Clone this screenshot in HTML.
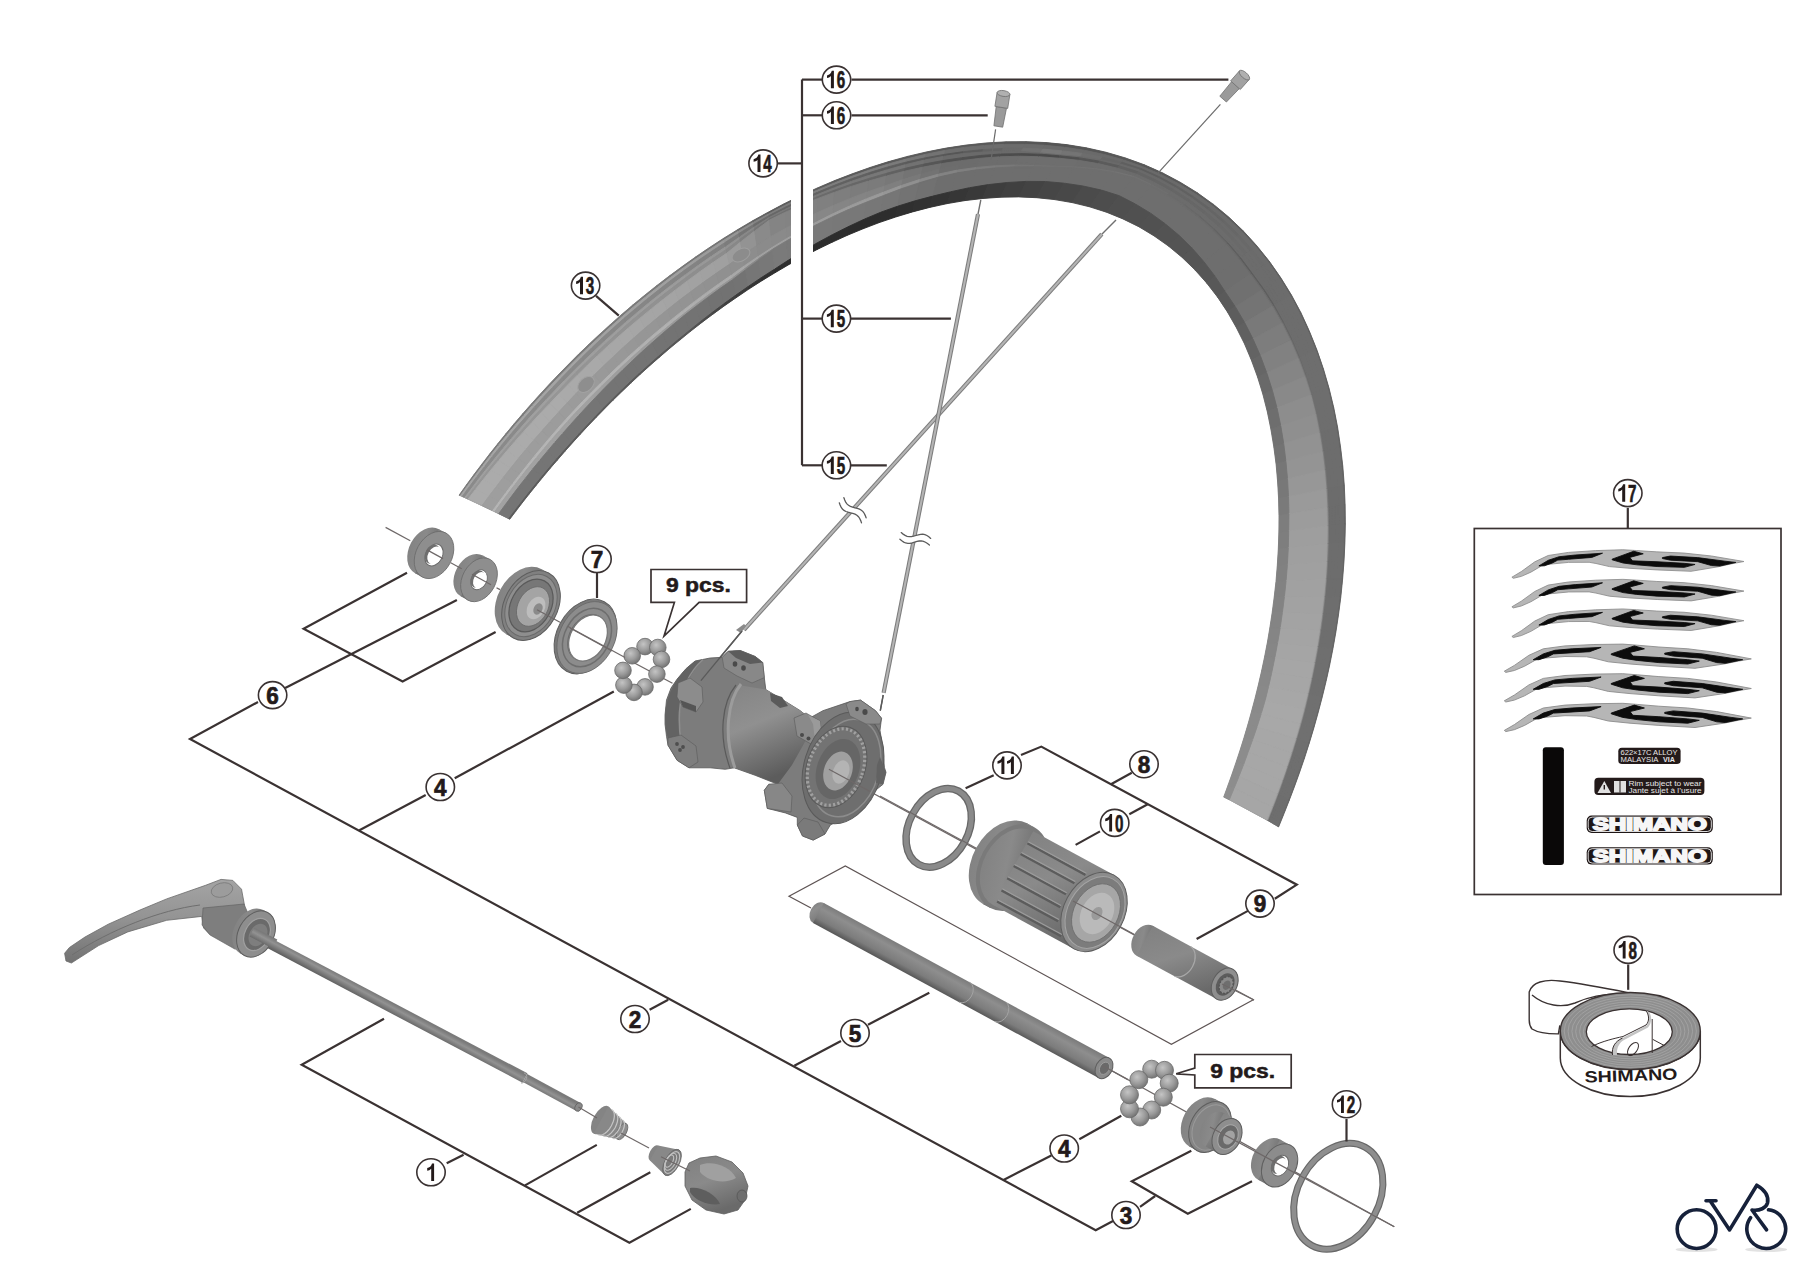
<!DOCTYPE html><html><head><meta charset="utf-8"><title>Wheel parts</title><style>html,body{margin:0;padding:0;background:#fff;overflow:hidden}svg{display:block}</style></head><body><svg width="1800" height="1264" viewBox="0 0 1800 1264"><defs>
<radialGradient id="gball" cx="40%" cy="35%" r="65%"><stop offset="0" stop-color="#c4c4c4"/><stop offset=".6" stop-color="#9a9a9a"/><stop offset="1" stop-color="#767676"/></radialGradient>
<linearGradient id="gaxle" gradientUnits="userSpaceOnUse" x1="965.4" y1="979.6" x2="954.6" y2="999.4"><stop offset="0" stop-color="#7a7a7a"/><stop offset=".3" stop-color="#8e8e8e"/><stop offset=".75" stop-color="#7c7c7c"/><stop offset="1" stop-color="#5a5a5a"/></linearGradient>
<linearGradient id="grod" gradientUnits="userSpaceOnUse" x1="402.6" y1="1008.6" x2="397.4" y2="1018.2"><stop offset="0" stop-color="#7a7a7a"/><stop offset=".35" stop-color="#929292"/><stop offset="1" stop-color="#5e5e5e"/></linearGradient>
<linearGradient id="gspoke" x1="0" y1="0" x2="1" y2="0"><stop offset="0" stop-color="#777"/><stop offset=".5" stop-color="#b5b5b5"/><stop offset="1" stop-color="#777"/></linearGradient>
<linearGradient id="ghubbody" x1="0" y1="0" x2="0.35" y2="1"><stop offset="0" stop-color="#848484"/><stop offset=".45" stop-color="#909090"/><stop offset="1" stop-color="#5c5c5c"/></linearGradient>
<linearGradient id="gfh" x1="0" y1="0" x2="0.4" y2="1"><stop offset="0" stop-color="#808080"/><stop offset=".5" stop-color="#8a8a8a"/><stop offset="1" stop-color="#6a6a6a"/></linearGradient>
<linearGradient id="glever" x1="0" y1="0" x2="0" y2="1"><stop offset="0" stop-color="#a4a4a4"/><stop offset=".45" stop-color="#949494"/><stop offset="1" stop-color="#727272"/></linearGradient>
</defs><rect width="1800" height="1264" fill="#ffffff"/><polyline points="625.0,658.0 672.5,683.3" fill="none" stroke="#6e6868" stroke-width="1.3" stroke-linejoin="miter"/>
<polyline points="828.9,769.3 1254.0,1000.0" fill="none" stroke="#6e6868" stroke-width="1.3" stroke-linejoin="miter"/>
<polyline points="1102.7,1065.7 1394.3,1226.7" fill="none" stroke="#6e6868" stroke-width="1.3" stroke-linejoin="miter"/>
<path d="M459.1,495.2 L462.4,490.5 L465.7,485.9 L469.0,481.3 L472.4,476.7 L475.8,472.1 L479.3,467.5 L482.7,463.0 L486.2,458.4 L489.8,453.8 L493.4,449.3 L497.0,444.7 L500.6,440.2 L504.3,435.7 L508.1,431.1 L511.8,426.6 L515.6,422.1 L519.5,417.5 L523.4,413.0 L527.3,408.5 L531.3,404.0 L535.3,399.5 L539.4,395.0 L543.5,390.5 L547.7,386.0 L551.9,381.5 L556.2,377.0 L560.5,372.5 L564.8,368.1 L569.2,363.6 L573.7,359.1 L578.2,354.6 L582.8,350.2 L587.4,345.7 L592.1,341.3 L596.9,336.8 L601.7,332.4 L606.6,327.9 L611.5,323.5 L616.5,319.1 L621.6,314.6 L626.7,310.2 L631.9,305.8 L637.1,301.4 L642.5,297.0 L647.9,292.7 L653.4,288.3 L658.9,284.0 L664.5,279.6 L670.2,275.3 L676.0,271.0 L681.8,266.7 L687.8,262.5 L693.8,258.2 L699.9,254.0 L706.0,249.8 L712.3,245.7 L718.6,241.5 L725.1,237.4 L731.6,233.4 L738.2,229.3 L744.9,225.4 L751.6,221.4 L758.5,217.5 L765.4,213.6 L772.5,209.8 L779.6,206.1 L786.8,202.4 L794.1,198.8 L801.5,195.2 L809.0,191.7 L816.6,188.3 L824.3,185.0 L832.0,181.7 L839.9,178.5 L847.8,175.4 L855.8,172.5 L863.9,169.6 L872.1,166.8 L880.4,164.1 L888.7,161.6 L897.2,159.2 L905.6,156.9 L914.2,154.7 L922.8,152.7 L931.5,150.8 L940.3,149.1 L949.1,147.6 L958.0,146.2 L966.9,145.0 L975.8,143.9 L984.8,143.1 L993.8,142.4 L1002.9,142.0 L1011.9,141.7 L1021.0,141.6 L1030.1,141.8 L1039.1,142.2 L1048.2,142.8 L1057.2,143.6 L1066.3,144.6 L1075.2,145.9 L1084.2,147.5 L1093.1,149.2 L1101.9,151.3 L1110.7,153.5 L1119.4,156.0 L1128.0,158.8 L1136.6,161.8 L1145.0,165.1 L1153.3,168.6 L1161.5,172.4 L1169.6,176.4 L1177.5,180.7 L1185.3,185.2 L1193.0,190.0 L1200.5,195.0 L1207.8,200.2 L1215.0,205.6 L1222.0,211.3 L1228.9,217.2 L1235.5,223.3 L1241.9,229.7 L1248.2,236.2 L1254.3,242.9 L1260.1,249.8 L1265.8,256.8 L1271.3,264.1 L1276.5,271.4 L1281.6,279.0 L1286.4,286.7 L1291.0,294.5 L1295.5,302.4 L1299.7,310.4 L1303.7,318.6 L1307.5,326.8 L1311.1,335.2 L1314.5,343.6 L1317.7,352.1 L1320.7,360.6 L1323.5,369.2 L1326.1,377.9 L1328.6,386.6 L1330.8,395.3 L1332.9,404.0 L1334.8,412.8 L1336.5,421.5 L1338.1,430.3 L1339.4,439.1 L1340.7,447.9 L1341.7,456.6 L1342.7,465.4 L1343.4,474.1 L1344.1,482.8 L1344.6,491.4 L1344.9,500.0 L1345.2,508.6 L1345.3,517.2 L1345.3,525.7 L1345.2,534.1 L1344.9,542.5 L1344.6,550.9 L1344.1,559.2 L1343.6,567.4 L1342.9,575.6 L1342.2,583.7 L1341.4,591.7 L1340.5,599.7 L1339.5,607.6 L1338.4,615.5 L1337.2,623.3 L1336.0,631.0 L1334.7,638.7 L1333.4,646.3 L1331.9,653.8 L1330.4,661.3 L1328.9,668.6 L1327.3,676.0 L1325.6,683.2 L1323.9,690.4 L1322.1,697.5 L1320.3,704.6 L1318.4,711.6 L1316.5,718.5 L1314.6,725.4 L1312.6,732.2 L1310.6,738.9 L1308.5,745.6 L1306.4,752.2 L1304.2,758.7 L1302.0,765.2 L1299.8,771.6 L1297.6,778.0 L1295.3,784.3 L1293.0,790.5 L1290.7,796.7 L1288.3,802.9 L1285.9,809.0 L1283.5,815.0 L1281.0,821.0 L1278.6,826.9 L1223.7,797.1 L1225.6,791.9 L1227.5,786.8 L1229.4,781.5 L1231.3,776.2 L1233.1,770.9 L1235.0,765.6 L1236.8,760.1 L1238.6,754.7 L1240.4,749.1 L1242.2,743.6 L1243.9,737.9 L1245.6,732.3 L1247.3,726.5 L1249.0,720.8 L1250.6,714.9 L1252.2,709.0 L1253.8,703.1 L1255.4,697.0 L1256.9,691.0 L1258.4,684.8 L1259.8,678.6 L1261.3,672.4 L1262.6,666.1 L1264.0,659.7 L1265.3,653.3 L1266.5,646.8 L1267.8,640.2 L1268.9,633.6 L1270.0,626.9 L1271.1,620.1 L1272.1,613.3 L1273.1,606.4 L1274.0,599.5 L1274.8,592.4 L1275.6,585.4 L1276.3,578.2 L1276.9,571.1 L1277.4,563.8 L1277.9,556.5 L1278.3,549.1 L1278.6,541.7 L1278.8,534.2 L1279.0,526.7 L1279.0,519.1 L1278.9,511.5 L1278.7,503.8 L1278.5,496.1 L1278.1,488.4 L1277.5,480.6 L1276.9,472.8 L1276.1,465.0 L1275.3,457.2 L1274.2,449.3 L1273.1,441.4 L1271.7,433.5 L1270.3,425.7 L1268.7,417.8 L1266.9,409.9 L1265.0,402.1 L1262.9,394.3 L1260.6,386.5 L1258.1,378.8 L1255.5,371.1 L1252.7,363.5 L1249.7,356.0 L1246.6,348.5 L1243.2,341.1 L1239.7,333.9 L1235.9,326.7 L1232.0,319.6 L1227.9,312.7 L1223.5,305.9 L1219.0,299.2 L1214.3,292.7 L1209.4,286.3 L1204.3,280.2 L1199.0,274.2 L1193.5,268.3 L1187.8,262.7 L1182.0,257.3 L1176.0,252.1 L1169.8,247.1 L1163.4,242.3 L1156.9,237.7 L1150.2,233.4 L1143.4,229.3 L1136.4,225.5 L1129.3,221.9 L1122.1,218.5 L1114.8,215.4 L1107.3,212.5 L1099.8,209.9 L1092.1,207.5 L1084.4,205.4 L1076.6,203.5 L1068.7,201.9 L1060.8,200.5 L1052.8,199.3 L1044.8,198.4 L1036.7,197.7 L1028.6,197.2 L1020.5,197.0 L1012.4,196.9 L1004.3,197.1 L996.2,197.4 L988.1,198.0 L980.0,198.7 L972.0,199.7 L964.0,200.8 L956.0,202.0 L948.0,203.5 L940.1,205.1 L932.3,206.8 L924.5,208.7 L916.8,210.7 L909.1,212.9 L901.5,215.1 L894.0,217.5 L886.5,220.0 L879.2,222.6 L871.9,225.3 L864.6,228.1 L857.5,231.0 L850.4,234.0 L843.4,237.0 L836.5,240.1 L829.7,243.3 L823.0,246.6 L816.3,249.9 L809.8,253.3 L803.3,256.7 L796.9,260.1 L790.6,263.6 L784.4,267.2 L778.3,270.8 L772.2,274.4 L766.2,278.0 L760.3,281.7 L754.5,285.4 L748.8,289.1 L743.2,292.9 L737.6,296.7 L732.1,300.4 L726.7,304.2 L721.3,308.1 L716.1,311.9 L710.9,315.7 L705.7,319.6 L700.7,323.4 L695.7,327.3 L690.8,331.1 L685.9,335.0 L681.2,338.9 L676.4,342.8 L671.8,346.6 L667.2,350.5 L662.6,354.4 L658.2,358.3 L653.7,362.1 L649.4,366.0 L645.1,369.9 L640.8,373.8 L636.6,377.6 L632.5,381.5 L628.4,385.3 L624.3,389.2 L620.3,393.1 L616.4,396.9 L612.5,400.8 L608.6,404.6 L604.8,408.5 L601.1,412.3 L597.3,416.1 L593.7,420.0 L590.0,423.8 L586.4,427.6 L582.8,431.5 L579.3,435.3 L575.8,439.1 L572.4,442.9 L569.0,446.7 L565.6,450.5 L562.2,454.4 L558.9,458.2 L555.6,462.0 L552.4,465.8 L549.2,469.6 L546.0,473.4 L542.8,477.2 L539.7,481.0 L536.6,484.8 L533.5,488.7 L530.4,492.5 L527.4,496.3 L524.4,500.1 L521.4,503.9 L518.5,507.8 L515.5,511.6 L512.6,515.4 L509.7,519.3Z" fill="#777"/>
<path d="M459.1,495.2 L466.4,484.9 L467.7,485.5 L460.4,495.7Z" fill="#7a7a7a" stroke="#7a7a7a" stroke-width=".9"/>
<path d="M460.4,495.7 L467.7,485.5 L469.6,486.4 L462.2,496.5Z" fill="#a5a5a5" stroke="#a5a5a5" stroke-width=".9"/>
<path d="M462.2,496.5 L469.6,486.4 L472.2,487.7 L464.7,497.6Z" fill="#8a8a8a" stroke="#8a8a8a" stroke-width=".9"/>
<path d="M464.7,497.6 L472.2,487.7 L473.7,488.4 L466.3,498.3Z" fill="#a0a0a0" stroke="#a0a0a0" stroke-width=".9"/>
<path d="M466.3,498.3 L473.7,488.4 L475.6,489.3 L468.1,499.1Z" fill="#969696" stroke="#969696" stroke-width=".9"/>
<path d="M468.1,499.1 L475.6,489.3 L489.1,496.1 L482.1,505.6Z" fill="#ababab" stroke="#ababab" stroke-width=".9"/>
<path d="M482.1,505.6 L489.1,496.1 L499.3,501.5 L492.7,510.7Z" fill="#9e9e9e" stroke="#9e9e9e" stroke-width=".9"/>
<path d="M492.7,510.7 L499.3,501.5 L501.4,502.6 L494.7,511.7Z" fill="#b5b5b5" stroke="#b5b5b5" stroke-width=".9"/>
<path d="M494.7,511.7 L501.4,502.6 L505.3,504.7 L498.7,513.7Z" fill="#a2a2a2" stroke="#a2a2a2" stroke-width=".9"/>
<path d="M498.7,513.7 L505.3,504.7 L515.2,510.2 L508.7,518.7Z" fill="#757575" stroke="#757575" stroke-width=".9"/>
<path d="M508.7,518.7 L515.2,510.2 L516.2,510.7 L509.7,519.3Z" fill="#5a5a5a" stroke="#5a5a5a" stroke-width=".9"/>
<path d="M466.4,484.9 L473.9,474.7 L475.2,475.4 L467.7,485.5Z" fill="#7a7a7a" stroke="#7a7a7a" stroke-width=".9"/>
<path d="M467.7,485.5 L475.2,475.4 L477.1,476.3 L469.6,486.4Z" fill="#a5a5a5" stroke="#a5a5a5" stroke-width=".9"/>
<path d="M469.6,486.4 L477.1,476.3 L479.7,477.7 L472.2,487.7Z" fill="#8a8a8a" stroke="#8a8a8a" stroke-width=".9"/>
<path d="M472.2,487.7 L479.7,477.7 L481.4,478.6 L473.7,488.4Z" fill="#a0a0a0" stroke="#a0a0a0" stroke-width=".9"/>
<path d="M473.7,488.4 L481.4,478.6 L483.2,479.6 L475.6,489.3Z" fill="#969696" stroke="#969696" stroke-width=".9"/>
<path d="M475.6,489.3 L483.2,479.6 L496.2,486.7 L489.1,496.1Z" fill="#ababab" stroke="#ababab" stroke-width=".9"/>
<path d="M489.1,496.1 L496.2,486.7 L506.1,492.4 L499.3,501.5Z" fill="#9e9e9e" stroke="#9e9e9e" stroke-width=".9"/>
<path d="M499.3,501.5 L506.1,492.4 L508.1,493.5 L501.4,502.6Z" fill="#b5b5b5" stroke="#b5b5b5" stroke-width=".9"/>
<path d="M501.4,502.6 L508.1,493.5 L511.9,495.8 L505.3,504.7Z" fill="#a2a2a2" stroke="#a2a2a2" stroke-width=".9"/>
<path d="M505.3,504.7 L511.9,495.8 L521.8,501.6 L515.2,510.2Z" fill="#757575" stroke="#757575" stroke-width=".9"/>
<path d="M515.2,510.2 L521.8,501.6 L522.7,502.2 L516.2,510.7Z" fill="#5a5a5a" stroke="#5a5a5a" stroke-width=".9"/>
<path d="M473.9,474.7 L481.6,464.5 L482.9,465.3 L475.2,475.4Z" fill="#7a7a7a" stroke="#7a7a7a" stroke-width=".9"/>
<path d="M475.2,475.4 L482.9,465.3 L484.8,466.3 L477.1,476.3Z" fill="#a5a5a5" stroke="#a5a5a5" stroke-width=".9"/>
<path d="M477.1,476.3 L484.8,466.3 L487.4,467.8 L479.7,477.7Z" fill="#8a8a8a" stroke="#8a8a8a" stroke-width=".9"/>
<path d="M479.7,477.7 L487.4,467.8 L489.1,468.8 L481.4,478.6Z" fill="#a0a0a0" stroke="#a0a0a0" stroke-width=".9"/>
<path d="M481.4,478.6 L489.1,468.8 L491.0,469.9 L483.2,479.6Z" fill="#969696" stroke="#969696" stroke-width=".9"/>
<path d="M483.2,479.6 L491.0,469.9 L503.4,477.3 L496.2,486.7Z" fill="#ababab" stroke="#ababab" stroke-width=".9"/>
<path d="M496.2,486.7 L503.4,477.3 L513.0,483.2 L506.1,492.4Z" fill="#9e9e9e" stroke="#9e9e9e" stroke-width=".9"/>
<path d="M506.1,492.4 L513.0,483.2 L515.0,484.5 L508.1,493.5Z" fill="#b5b5b5" stroke="#b5b5b5" stroke-width=".9"/>
<path d="M508.1,493.5 L515.0,484.5 L518.7,486.8 L511.9,495.8Z" fill="#a2a2a2" stroke="#a2a2a2" stroke-width=".9"/>
<path d="M511.9,495.8 L518.7,486.8 L528.5,493.1 L521.8,501.6Z" fill="#757575" stroke="#757575" stroke-width=".9"/>
<path d="M521.8,501.6 L528.5,493.1 L529.4,493.7 L522.7,502.2Z" fill="#5a5a5a" stroke="#5a5a5a" stroke-width=".9"/>
<path d="M481.6,464.5 L489.4,454.3 L490.7,455.2 L482.9,465.3Z" fill="#7a7a7a" stroke="#7a7a7a" stroke-width=".9"/>
<path d="M482.9,465.3 L490.7,455.2 L492.6,456.3 L484.8,466.3Z" fill="#a5a5a5" stroke="#a5a5a5" stroke-width=".9"/>
<path d="M484.8,466.3 L492.6,456.3 L495.3,458.0 L487.4,467.8Z" fill="#8a8a8a" stroke="#8a8a8a" stroke-width=".9"/>
<path d="M487.4,467.8 L495.3,458.0 L497.0,459.1 L489.1,468.8Z" fill="#a0a0a0" stroke="#a0a0a0" stroke-width=".9"/>
<path d="M489.1,468.8 L497.0,459.1 L498.9,460.3 L491.0,469.9Z" fill="#969696" stroke="#969696" stroke-width=".9"/>
<path d="M491.0,469.9 L498.9,460.3 L510.8,467.9 L503.4,477.3Z" fill="#ababab" stroke="#ababab" stroke-width=".9"/>
<path d="M503.4,477.3 L510.8,467.9 L520.1,474.1 L513.0,483.2Z" fill="#9d9d9d" stroke="#9d9d9d" stroke-width=".9"/>
<path d="M513.0,483.2 L520.1,474.1 L522.0,475.4 L515.0,484.5Z" fill="#b5b5b5" stroke="#b5b5b5" stroke-width=".9"/>
<path d="M515.0,484.5 L522.0,475.4 L525.7,477.9 L518.7,486.8Z" fill="#a2a2a2" stroke="#a2a2a2" stroke-width=".9"/>
<path d="M518.7,486.8 L525.7,477.9 L535.3,484.6 L528.5,493.1Z" fill="#757575" stroke="#757575" stroke-width=".9"/>
<path d="M528.5,493.1 L535.3,484.6 L536.2,485.3 L529.4,493.7Z" fill="#5a5a5a" stroke="#5a5a5a" stroke-width=".9"/>
<path d="M489.4,454.3 L497.4,444.2 L498.7,445.1 L490.7,455.2Z" fill="#7a7a7a" stroke="#7a7a7a" stroke-width=".9"/>
<path d="M490.7,455.2 L498.7,445.1 L500.6,446.4 L492.6,456.3Z" fill="#a5a5a5" stroke="#a5a5a5" stroke-width=".9"/>
<path d="M492.6,456.3 L500.6,446.4 L503.3,448.2 L495.3,458.0Z" fill="#8a8a8a" stroke="#8a8a8a" stroke-width=".9"/>
<path d="M495.3,458.0 L503.3,448.2 L505.1,449.4 L497.0,459.1Z" fill="#a0a0a0" stroke="#a0a0a0" stroke-width=".9"/>
<path d="M497.0,459.1 L505.1,449.4 L507.0,450.7 L498.9,460.3Z" fill="#969696" stroke="#969696" stroke-width=".9"/>
<path d="M498.9,460.3 L507.0,450.7 L518.3,458.6 L510.8,467.9Z" fill="#ababab" stroke="#ababab" stroke-width=".9"/>
<path d="M510.8,467.9 L518.3,458.6 L527.3,465.0 L520.1,474.1Z" fill="#9d9d9d" stroke="#9d9d9d" stroke-width=".9"/>
<path d="M520.1,474.1 L527.3,465.0 L529.2,466.4 L522.0,475.4Z" fill="#b5b5b5" stroke="#b5b5b5" stroke-width=".9"/>
<path d="M522.0,475.4 L529.2,466.4 L532.7,469.0 L525.7,477.9Z" fill="#a2a2a2" stroke="#a2a2a2" stroke-width=".9"/>
<path d="M525.7,477.9 L532.7,469.0 L542.3,476.1 L535.3,484.6Z" fill="#757575" stroke="#757575" stroke-width=".9"/>
<path d="M535.3,484.6 L542.3,476.1 L543.1,476.8 L536.2,485.3Z" fill="#5a5a5a" stroke="#5a5a5a" stroke-width=".9"/>
<path d="M497.4,444.2 L505.6,434.1 L506.9,435.1 L498.7,445.1Z" fill="#7a7a7a" stroke="#7a7a7a" stroke-width=".9"/>
<path d="M498.7,445.1 L506.9,435.1 L508.8,436.5 L500.6,446.4Z" fill="#a5a5a5" stroke="#a5a5a5" stroke-width=".9"/>
<path d="M500.6,446.4 L508.8,436.5 L511.5,438.4 L503.3,448.2Z" fill="#8a8a8a" stroke="#8a8a8a" stroke-width=".9"/>
<path d="M503.3,448.2 L511.5,438.4 L513.3,439.8 L505.1,449.4Z" fill="#a0a0a0" stroke="#a0a0a0" stroke-width=".9"/>
<path d="M505.1,449.4 L513.3,439.8 L515.2,441.2 L507.0,450.7Z" fill="#969696" stroke="#969696" stroke-width=".9"/>
<path d="M507.0,450.7 L515.2,441.2 L526.0,449.3 L518.3,458.6Z" fill="#ababab" stroke="#ababab" stroke-width=".9"/>
<path d="M518.3,458.6 L526.0,449.3 L534.6,455.9 L527.3,465.0Z" fill="#9d9d9d" stroke="#9d9d9d" stroke-width=".9"/>
<path d="M527.3,465.0 L534.6,455.9 L536.6,457.4 L529.2,466.4Z" fill="#b5b5b5" stroke="#b5b5b5" stroke-width=".9"/>
<path d="M529.2,466.4 L536.6,457.4 L540.0,460.1 L532.7,469.0Z" fill="#a2a2a2" stroke="#a2a2a2" stroke-width=".9"/>
<path d="M532.7,469.0 L540.0,460.1 L549.4,467.6 L542.3,476.1Z" fill="#757575" stroke="#757575" stroke-width=".9"/>
<path d="M542.3,476.1 L549.4,467.6 L550.2,468.3 L543.1,476.8Z" fill="#5a5a5a" stroke="#5a5a5a" stroke-width=".9"/>
<path d="M505.6,434.1 L513.9,424.1 L515.3,425.1 L506.9,435.1Z" fill="#7a7a7a" stroke="#7a7a7a" stroke-width=".9"/>
<path d="M506.9,435.1 L515.3,425.1 L517.2,426.6 L508.8,436.5Z" fill="#a5a5a5" stroke="#a5a5a5" stroke-width=".9"/>
<path d="M508.8,436.5 L517.2,426.6 L519.9,428.7 L511.5,438.4Z" fill="#8a8a8a" stroke="#8a8a8a" stroke-width=".9"/>
<path d="M511.5,438.4 L519.9,428.7 L521.7,430.2 L513.3,439.8Z" fill="#a0a0a0" stroke="#a0a0a0" stroke-width=".9"/>
<path d="M513.3,439.8 L521.7,430.2 L523.6,431.7 L515.2,441.2Z" fill="#969696" stroke="#969696" stroke-width=".9"/>
<path d="M515.2,441.2 L523.6,431.7 L533.9,440.0 L526.0,449.3Z" fill="#ababab" stroke="#ababab" stroke-width=".9"/>
<path d="M526.0,449.3 L533.9,440.0 L542.1,446.8 L534.6,455.9Z" fill="#9d9d9d" stroke="#9d9d9d" stroke-width=".9"/>
<path d="M534.6,455.9 L542.1,446.8 L544.1,448.4 L536.6,457.4Z" fill="#b5b5b5" stroke="#b5b5b5" stroke-width=".9"/>
<path d="M536.6,457.4 L544.1,448.4 L547.4,451.2 L540.0,460.1Z" fill="#a2a2a2" stroke="#a2a2a2" stroke-width=".9"/>
<path d="M540.0,460.1 L547.4,451.2 L556.6,459.1 L549.4,467.6Z" fill="#757575" stroke="#757575" stroke-width=".9"/>
<path d="M549.4,467.6 L556.6,459.1 L557.5,459.9 L550.2,468.3Z" fill="#5a5a5a" stroke="#5a5a5a" stroke-width=".9"/>
<path d="M513.9,424.1 L522.5,414.0 L523.9,415.2 L515.3,425.1Z" fill="#7a7a7a" stroke="#7a7a7a" stroke-width=".9"/>
<path d="M515.3,425.1 L523.9,415.2 L525.8,416.8 L517.2,426.6Z" fill="#a5a5a5" stroke="#a5a5a5" stroke-width=".9"/>
<path d="M517.2,426.6 L525.8,416.8 L528.4,419.0 L519.9,428.7Z" fill="#8a8a8a" stroke="#8a8a8a" stroke-width=".9"/>
<path d="M519.9,428.7 L528.4,419.0 L530.3,420.6 L521.7,430.2Z" fill="#a0a0a0" stroke="#a0a0a0" stroke-width=".9"/>
<path d="M521.7,430.2 L530.3,420.6 L532.2,422.2 L523.6,431.7Z" fill="#969696" stroke="#969696" stroke-width=".9"/>
<path d="M523.6,431.7 L532.2,422.2 L542.0,430.7 L533.9,440.0Z" fill="#ababab" stroke="#ababab" stroke-width=".9"/>
<path d="M533.9,440.0 L542.0,430.7 L549.8,437.7 L542.1,446.8Z" fill="#9d9d9d" stroke="#9d9d9d" stroke-width=".9"/>
<path d="M542.1,446.8 L549.8,437.7 L551.7,439.4 L544.1,448.4Z" fill="#b5b5b5" stroke="#b5b5b5" stroke-width=".9"/>
<path d="M544.1,448.4 L551.7,439.4 L554.9,442.3 L547.4,451.2Z" fill="#a2a2a2" stroke="#a2a2a2" stroke-width=".9"/>
<path d="M547.4,451.2 L554.9,442.3 L564.0,450.6 L556.6,459.1Z" fill="#757575" stroke="#757575" stroke-width=".9"/>
<path d="M556.6,459.1 L564.0,450.6 L564.8,451.4 L557.5,459.9Z" fill="#5a5a5a" stroke="#5a5a5a" stroke-width=".9"/>
<path d="M522.5,414.0 L531.3,404.0 L532.6,405.2 L523.9,415.2Z" fill="#7a7a7a" stroke="#7a7a7a" stroke-width=".9"/>
<path d="M523.9,415.2 L532.6,405.2 L534.5,406.9 L525.8,416.8Z" fill="#a5a5a5" stroke="#a5a5a5" stroke-width=".9"/>
<path d="M525.8,416.8 L534.5,406.9 L537.2,409.3 L528.4,419.0Z" fill="#8a8a8a" stroke="#8a8a8a" stroke-width=".9"/>
<path d="M528.4,419.0 L537.2,409.3 L539.1,411.0 L530.3,420.6Z" fill="#a0a0a0" stroke="#a0a0a0" stroke-width=".9"/>
<path d="M530.3,420.6 L539.1,411.0 L540.9,412.8 L532.2,422.2Z" fill="#969696" stroke="#969696" stroke-width=".9"/>
<path d="M532.2,422.2 L540.9,412.8 L550.2,421.4 L542.0,430.7Z" fill="#ababab" stroke="#ababab" stroke-width=".9"/>
<path d="M542.0,430.7 L550.2,421.4 L557.7,428.6 L549.8,437.7Z" fill="#9c9c9c" stroke="#9c9c9c" stroke-width=".9"/>
<path d="M549.8,437.7 L557.7,428.6 L559.6,430.4 L551.7,439.4Z" fill="#b5b5b5" stroke="#b5b5b5" stroke-width=".9"/>
<path d="M551.7,439.4 L559.6,430.4 L562.7,433.4 L554.9,442.3Z" fill="#a2a2a2" stroke="#a2a2a2" stroke-width=".9"/>
<path d="M554.9,442.3 L562.7,433.4 L571.6,442.1 L564.0,450.6Z" fill="#757575" stroke="#757575" stroke-width=".9"/>
<path d="M564.0,450.6 L571.6,442.1 L572.4,442.9 L564.8,451.4Z" fill="#5a5a5a" stroke="#5a5a5a" stroke-width=".9"/>
<path d="M531.3,404.0 L540.3,394.0 L541.6,395.3 L532.6,405.2Z" fill="#7a7a7a" stroke="#7a7a7a" stroke-width=".9"/>
<path d="M532.6,405.2 L541.6,395.3 L543.5,397.1 L534.5,406.9Z" fill="#a5a5a5" stroke="#a5a5a5" stroke-width=".9"/>
<path d="M534.5,406.9 L543.5,397.1 L546.2,399.7 L537.2,409.3Z" fill="#8a8a8a" stroke="#8a8a8a" stroke-width=".9"/>
<path d="M537.2,409.3 L546.2,399.7 L548.0,401.5 L539.1,411.0Z" fill="#a0a0a0" stroke="#a0a0a0" stroke-width=".9"/>
<path d="M539.1,411.0 L548.0,401.5 L549.9,403.4 L540.9,412.8Z" fill="#969696" stroke="#969696" stroke-width=".9"/>
<path d="M540.9,412.8 L549.9,403.4 L558.7,412.1 L550.2,421.4Z" fill="#ababab" stroke="#ababab" stroke-width=".9"/>
<path d="M550.2,421.4 L558.7,412.1 L565.8,419.4 L557.7,428.6Z" fill="#9c9c9c" stroke="#9c9c9c" stroke-width=".9"/>
<path d="M557.7,428.6 L565.8,419.4 L567.7,421.3 L559.6,430.4Z" fill="#b5b5b5" stroke="#b5b5b5" stroke-width=".9"/>
<path d="M559.6,430.4 L567.7,421.3 L570.6,424.4 L562.7,433.4Z" fill="#a2a2a2" stroke="#a2a2a2" stroke-width=".9"/>
<path d="M562.7,433.4 L570.6,424.4 L579.3,433.6 L571.6,442.1Z" fill="#757575" stroke="#757575" stroke-width=".9"/>
<path d="M571.6,442.1 L579.3,433.6 L580.1,434.4 L572.4,442.9Z" fill="#5a5a5a" stroke="#5a5a5a" stroke-width=".9"/>
<path d="M540.3,394.0 L549.5,384.0 L550.8,385.4 L541.6,395.3Z" fill="#7a7a7a" stroke="#7a7a7a" stroke-width=".9"/>
<path d="M541.6,395.3 L550.8,385.4 L552.7,387.3 L543.5,397.1Z" fill="#a5a5a5" stroke="#a5a5a5" stroke-width=".9"/>
<path d="M543.5,397.1 L552.7,387.3 L555.3,390.0 L546.2,399.7Z" fill="#8a8a8a" stroke="#8a8a8a" stroke-width=".9"/>
<path d="M546.2,399.7 L555.3,390.0 L557.1,392.0 L548.0,401.5Z" fill="#a0a0a0" stroke="#a0a0a0" stroke-width=".9"/>
<path d="M548.0,401.5 L557.1,392.0 L559.0,393.9 L549.9,403.4Z" fill="#969696" stroke="#969696" stroke-width=".9"/>
<path d="M549.9,403.4 L559.0,393.9 L567.3,402.8 L558.7,412.1Z" fill="#ababab" stroke="#ababab" stroke-width=".9"/>
<path d="M558.7,412.1 L567.3,402.8 L574.2,410.3 L565.8,419.4Z" fill="#9c9c9c" stroke="#9c9c9c" stroke-width=".9"/>
<path d="M565.8,419.4 L574.2,410.3 L576.0,412.3 L567.7,421.3Z" fill="#b5b5b5" stroke="#b5b5b5" stroke-width=".9"/>
<path d="M567.7,421.3 L576.0,412.3 L578.7,415.4 L570.6,424.4Z" fill="#a2a2a2" stroke="#a2a2a2" stroke-width=".9"/>
<path d="M570.6,424.4 L578.7,415.4 L587.3,425.1 L579.3,433.6Z" fill="#757575" stroke="#757575" stroke-width=".9"/>
<path d="M579.3,433.6 L587.3,425.1 L588.0,425.9 L580.1,434.4Z" fill="#5a5a5a" stroke="#5a5a5a" stroke-width=".9"/>
<path d="M549.5,384.0 L559.0,374.0 L560.3,375.4 L550.8,385.4Z" fill="#7a7a7a" stroke="#7a7a7a" stroke-width=".9"/>
<path d="M550.8,385.4 L560.3,375.4 L562.1,377.4 L552.7,387.3Z" fill="#a5a5a5" stroke="#a5a5a5" stroke-width=".9"/>
<path d="M552.7,387.3 L562.1,377.4 L564.6,380.3 L555.3,390.0Z" fill="#8a8a8a" stroke="#8a8a8a" stroke-width=".9"/>
<path d="M555.3,390.0 L564.6,380.3 L566.4,382.3 L557.1,392.0Z" fill="#a0a0a0" stroke="#a0a0a0" stroke-width=".9"/>
<path d="M557.1,392.0 L566.4,382.3 L568.2,384.4 L559.0,393.9Z" fill="#969696" stroke="#969696" stroke-width=".9"/>
<path d="M559.0,393.9 L568.2,384.4 L576.1,393.5 L567.3,402.8Z" fill="#aaaaaa" stroke="#aaaaaa" stroke-width=".9"/>
<path d="M567.3,402.8 L576.1,393.5 L582.7,401.3 L574.2,410.3Z" fill="#9b9b9b" stroke="#9b9b9b" stroke-width=".9"/>
<path d="M574.2,410.3 L582.7,401.3 L584.5,403.4 L576.0,412.3Z" fill="#b5b5b5" stroke="#b5b5b5" stroke-width=".9"/>
<path d="M576.0,412.3 L584.5,403.4 L587.0,406.4 L578.7,415.4Z" fill="#a1a1a1" stroke="#a1a1a1" stroke-width=".9"/>
<path d="M578.7,415.4 L587.0,406.4 L595.4,416.5 L587.3,425.1Z" fill="#757575" stroke="#757575" stroke-width=".9"/>
<path d="M587.3,425.1 L595.4,416.5 L596.1,417.4 L588.0,425.9Z" fill="#5a5a5a" stroke="#5a5a5a" stroke-width=".9"/>
<path d="M559.0,374.0 L568.8,364.1 L570.0,365.5 L560.3,375.4Z" fill="#7a7a7a" stroke="#7a7a7a" stroke-width=".9"/>
<path d="M560.3,375.4 L570.0,365.5 L571.7,367.6 L562.1,377.4Z" fill="#a4a4a4" stroke="#a4a4a4" stroke-width=".9"/>
<path d="M562.1,377.4 L571.7,367.6 L574.1,370.6 L564.6,380.3Z" fill="#898989" stroke="#898989" stroke-width=".9"/>
<path d="M564.6,380.3 L574.1,370.6 L575.8,372.6 L566.4,382.3Z" fill="#9f9f9f" stroke="#9f9f9f" stroke-width=".9"/>
<path d="M566.4,382.3 L575.8,372.6 L577.7,374.9 L568.2,384.4Z" fill="#959595" stroke="#959595" stroke-width=".9"/>
<path d="M568.2,384.4 L577.7,374.9 L585.1,384.2 L576.1,393.5Z" fill="#aaaaaa" stroke="#aaaaaa" stroke-width=".9"/>
<path d="M576.1,393.5 L585.1,384.2 L591.5,392.2 L582.7,401.3Z" fill="#9b9b9b" stroke="#9b9b9b" stroke-width=".9"/>
<path d="M582.7,401.3 L591.5,392.2 L593.3,394.4 L584.5,403.4Z" fill="#b4b4b4" stroke="#b4b4b4" stroke-width=".9"/>
<path d="M584.5,403.4 L593.3,394.4 L595.5,397.4 L587.0,406.4Z" fill="#a1a1a1" stroke="#a1a1a1" stroke-width=".9"/>
<path d="M587.0,406.4 L595.5,397.4 L603.7,407.9 L595.4,416.5Z" fill="#757575" stroke="#757575" stroke-width=".9"/>
<path d="M595.4,416.5 L603.7,407.9 L604.4,408.9 L596.1,417.4Z" fill="#595959" stroke="#595959" stroke-width=".9"/>
<path d="M568.8,364.1 L578.7,354.1 L579.9,355.6 L570.0,365.5Z" fill="#7a7a7a" stroke="#7a7a7a" stroke-width=".9"/>
<path d="M570.0,365.5 L579.9,355.6 L581.5,357.8 L571.7,367.6Z" fill="#a4a4a4" stroke="#a4a4a4" stroke-width=".9"/>
<path d="M571.7,367.6 L581.5,357.8 L583.9,360.9 L574.1,370.6Z" fill="#898989" stroke="#898989" stroke-width=".9"/>
<path d="M574.1,370.6 L583.9,360.9 L585.5,363.0 L575.8,372.6Z" fill="#9f9f9f" stroke="#9f9f9f" stroke-width=".9"/>
<path d="M575.8,372.6 L585.5,363.0 L587.3,365.4 L577.7,374.9Z" fill="#949494" stroke="#949494" stroke-width=".9"/>
<path d="M577.7,374.9 L587.3,365.4 L594.4,374.8 L585.1,384.2Z" fill="#a9a9a9" stroke="#a9a9a9" stroke-width=".9"/>
<path d="M585.1,384.2 L594.4,374.8 L600.6,383.2 L591.5,392.2Z" fill="#9a9a9a" stroke="#9a9a9a" stroke-width=".9"/>
<path d="M591.5,392.2 L600.6,383.2 L602.3,385.5 L593.3,394.4Z" fill="#b4b4b4" stroke="#b4b4b4" stroke-width=".9"/>
<path d="M593.3,394.4 L602.3,385.5 L604.3,388.3 L595.5,397.4Z" fill="#a0a0a0" stroke="#a0a0a0" stroke-width=".9"/>
<path d="M595.5,397.4 L604.3,388.3 L612.2,399.4 L603.7,407.9Z" fill="#747474" stroke="#747474" stroke-width=".9"/>
<path d="M603.7,407.9 L612.2,399.4 L612.9,400.3 L604.4,408.9Z" fill="#595959" stroke="#595959" stroke-width=".9"/>
<path d="M578.7,354.1 L589.0,344.2 L590.1,345.8 L579.9,355.6Z" fill="#7a7a7a" stroke="#7a7a7a" stroke-width=".9"/>
<path d="M579.9,355.6 L590.1,345.8 L591.7,347.9 L581.5,357.8Z" fill="#a3a3a3" stroke="#a3a3a3" stroke-width=".9"/>
<path d="M581.5,357.8 L591.7,347.9 L594.0,351.2 L583.9,360.9Z" fill="#888888" stroke="#888888" stroke-width=".9"/>
<path d="M583.9,360.9 L594.0,351.2 L595.5,353.4 L585.5,363.0Z" fill="#9f9f9f" stroke="#9f9f9f" stroke-width=".9"/>
<path d="M585.5,363.0 L595.5,353.4 L597.3,355.9 L587.3,365.4Z" fill="#949494" stroke="#949494" stroke-width=".9"/>
<path d="M587.3,365.4 L597.3,355.9 L604.0,365.5 L594.4,374.8Z" fill="#a9a9a9" stroke="#a9a9a9" stroke-width=".9"/>
<path d="M594.4,374.8 L604.0,365.5 L609.9,374.1 L600.6,383.2Z" fill="#999999" stroke="#999999" stroke-width=".9"/>
<path d="M600.6,383.2 L609.9,374.1 L611.5,376.5 L602.3,385.5Z" fill="#b3b3b3" stroke="#b3b3b3" stroke-width=".9"/>
<path d="M602.3,385.5 L611.5,376.5 L613.3,379.2 L604.3,388.3Z" fill="#9f9f9f" stroke="#9f9f9f" stroke-width=".9"/>
<path d="M604.3,388.3 L613.3,379.2 L621.0,390.8 L612.2,399.4Z" fill="#747474" stroke="#747474" stroke-width=".9"/>
<path d="M612.2,399.4 L621.0,390.8 L621.7,391.8 L612.9,400.3Z" fill="#585858" stroke="#585858" stroke-width=".9"/>
<path d="M589.0,344.2 L599.6,334.3 L600.6,335.9 L590.1,345.8Z" fill="#7a7a7a" stroke="#7a7a7a" stroke-width=".9"/>
<path d="M590.1,345.8 L600.6,335.9 L602.1,338.1 L591.7,347.9Z" fill="#a3a3a3" stroke="#a3a3a3" stroke-width=".9"/>
<path d="M591.7,347.9 L602.1,338.1 L604.3,341.5 L594.0,351.2Z" fill="#888888" stroke="#888888" stroke-width=".9"/>
<path d="M594.0,351.2 L604.3,341.5 L605.8,343.8 L595.5,353.4Z" fill="#9e9e9e" stroke="#9e9e9e" stroke-width=".9"/>
<path d="M595.5,353.4 L605.8,343.8 L607.5,346.4 L597.3,355.9Z" fill="#939393" stroke="#939393" stroke-width=".9"/>
<path d="M597.3,355.9 L607.5,346.4 L613.8,356.2 L604.0,365.5Z" fill="#a8a8a8" stroke="#a8a8a8" stroke-width=".9"/>
<path d="M604.0,365.5 L613.8,356.2 L619.4,365.0 L609.9,374.1Z" fill="#989898" stroke="#989898" stroke-width=".9"/>
<path d="M609.9,374.1 L619.4,365.0 L621.0,367.5 L611.5,376.5Z" fill="#b3b3b3" stroke="#b3b3b3" stroke-width=".9"/>
<path d="M611.5,376.5 L621.0,367.5 L622.6,370.1 L613.3,379.2Z" fill="#9e9e9e" stroke="#9e9e9e" stroke-width=".9"/>
<path d="M613.3,379.2 L622.6,370.1 L630.0,382.1 L621.0,390.8Z" fill="#747474" stroke="#747474" stroke-width=".9"/>
<path d="M621.0,390.8 L630.0,382.1 L630.7,383.2 L621.7,391.8Z" fill="#585858" stroke="#585858" stroke-width=".9"/>
<path d="M599.6,334.3 L610.4,324.5 L611.4,326.1 L600.6,335.9Z" fill="#7a7a7a" stroke="#7a7a7a" stroke-width=".9"/>
<path d="M600.6,335.9 L611.4,326.1 L612.8,328.4 L602.1,338.1Z" fill="#a2a2a2" stroke="#a2a2a2" stroke-width=".9"/>
<path d="M602.1,338.1 L612.8,328.4 L614.9,331.9 L604.3,341.5Z" fill="#878787" stroke="#878787" stroke-width=".9"/>
<path d="M604.3,341.5 L614.9,331.9 L616.3,334.2 L605.8,343.8Z" fill="#9e9e9e" stroke="#9e9e9e" stroke-width=".9"/>
<path d="M605.8,343.8 L616.3,334.2 L618.0,337.0 L607.5,346.4Z" fill="#939393" stroke="#939393" stroke-width=".9"/>
<path d="M607.5,346.4 L618.0,337.0 L623.9,346.8 L613.8,356.2Z" fill="#a7a7a7" stroke="#a7a7a7" stroke-width=".9"/>
<path d="M613.8,356.2 L623.9,346.8 L629.2,355.9 L619.4,365.0Z" fill="#989898" stroke="#989898" stroke-width=".9"/>
<path d="M619.4,365.0 L629.2,355.9 L630.7,358.5 L621.0,367.5Z" fill="#b2b2b2" stroke="#b2b2b2" stroke-width=".9"/>
<path d="M621.0,367.5 L630.7,358.5 L632.1,361.0 L622.6,370.1Z" fill="#9e9e9e" stroke="#9e9e9e" stroke-width=".9"/>
<path d="M622.6,370.1 L632.1,361.0 L639.3,373.5 L630.0,382.1Z" fill="#747474" stroke="#747474" stroke-width=".9"/>
<path d="M630.0,382.1 L639.3,373.5 L639.9,374.6 L630.7,383.2Z" fill="#575757" stroke="#575757" stroke-width=".9"/>
<path d="M610.4,324.5 L621.6,314.6 L622.5,316.3 L611.4,326.1Z" fill="#7a7a7a" stroke="#7a7a7a" stroke-width=".9"/>
<path d="M611.4,326.1 L622.5,316.3 L623.8,318.6 L612.8,328.4Z" fill="#a2a2a2" stroke="#a2a2a2" stroke-width=".9"/>
<path d="M612.8,328.4 L623.8,318.6 L625.8,322.2 L614.9,331.9Z" fill="#878787" stroke="#878787" stroke-width=".9"/>
<path d="M614.9,331.9 L625.8,322.2 L627.1,324.6 L616.3,334.2Z" fill="#9e9e9e" stroke="#9e9e9e" stroke-width=".9"/>
<path d="M616.3,334.2 L627.1,324.6 L628.8,327.6 L618.0,337.0Z" fill="#929292" stroke="#929292" stroke-width=".9"/>
<path d="M618.0,337.0 L628.8,327.6 L634.3,337.5 L623.9,346.8Z" fill="#a7a7a7" stroke="#a7a7a7" stroke-width=".9"/>
<path d="M623.9,346.8 L634.3,337.5 L639.3,346.9 L629.2,355.9Z" fill="#979797" stroke="#979797" stroke-width=".9"/>
<path d="M629.2,355.9 L639.3,346.9 L640.7,349.6 L630.7,358.5Z" fill="#b2b2b2" stroke="#b2b2b2" stroke-width=".9"/>
<path d="M630.7,358.5 L640.7,349.6 L641.9,351.8 L632.1,361.0Z" fill="#9d9d9d" stroke="#9d9d9d" stroke-width=".9"/>
<path d="M632.1,361.0 L641.9,351.8 L648.8,364.9 L639.3,373.5Z" fill="#747474" stroke="#747474" stroke-width=".9"/>
<path d="M639.3,373.5 L648.8,364.9 L649.4,366.0 L639.9,374.6Z" fill="#575757" stroke="#575757" stroke-width=".9"/>
<path d="M621.6,314.6 L633.0,304.8 L633.9,306.5 L622.5,316.3Z" fill="#7a7a7a" stroke="#7a7a7a" stroke-width=".9"/>
<path d="M622.5,316.3 L633.9,306.5 L635.2,308.9 L623.8,318.6Z" fill="#a1a1a1" stroke="#a1a1a1" stroke-width=".9"/>
<path d="M623.8,318.6 L635.2,308.9 L637.1,312.7 L625.8,322.2Z" fill="#868686" stroke="#868686" stroke-width=".9"/>
<path d="M625.8,322.2 L637.1,312.7 L638.3,315.1 L627.1,324.6Z" fill="#9d9d9d" stroke="#9d9d9d" stroke-width=".9"/>
<path d="M627.1,324.6 L638.3,315.1 L639.9,318.2 L628.8,327.6Z" fill="#929292" stroke="#929292" stroke-width=".9"/>
<path d="M628.8,327.6 L639.9,318.2 L644.9,328.2 L634.3,337.5Z" fill="#a6a6a6" stroke="#a6a6a6" stroke-width=".9"/>
<path d="M634.3,337.5 L644.9,328.2 L649.7,337.8 L639.3,346.9Z" fill="#969696" stroke="#969696" stroke-width=".9"/>
<path d="M639.3,346.9 L649.7,337.8 L651.0,340.6 L640.7,349.6Z" fill="#b1b1b1" stroke="#b1b1b1" stroke-width=".9"/>
<path d="M640.7,349.6 L651.0,340.6 L652.1,342.7 L641.9,351.8Z" fill="#9c9c9c" stroke="#9c9c9c" stroke-width=".9"/>
<path d="M641.9,351.8 L652.1,342.7 L658.6,356.2 L648.8,364.9Z" fill="#747474" stroke="#747474" stroke-width=".9"/>
<path d="M648.8,364.9 L658.6,356.2 L659.2,357.4 L649.4,366.0Z" fill="#565656" stroke="#565656" stroke-width=".9"/>
<path d="M633.0,304.8 L644.9,295.1 L645.7,296.8 L633.9,306.5Z" fill="#7a7a7a" stroke="#7a7a7a" stroke-width=".9"/>
<path d="M633.9,306.5 L645.7,296.8 L646.8,299.3 L635.2,308.9Z" fill="#a1a1a1" stroke="#a1a1a1" stroke-width=".9"/>
<path d="M635.2,308.9 L646.8,299.3 L648.6,303.1 L637.1,312.7Z" fill="#868686" stroke="#868686" stroke-width=".9"/>
<path d="M637.1,312.7 L648.6,303.1 L649.8,305.6 L638.3,315.1Z" fill="#9d9d9d" stroke="#9d9d9d" stroke-width=".9"/>
<path d="M638.3,315.1 L649.8,305.6 L651.3,308.9 L639.9,318.2Z" fill="#919191" stroke="#919191" stroke-width=".9"/>
<path d="M639.9,318.2 L651.3,308.9 L655.9,319.0 L644.9,328.2Z" fill="#a5a5a5" stroke="#a5a5a5" stroke-width=".9"/>
<path d="M644.9,328.2 L655.9,319.0 L660.4,328.8 L649.7,337.8Z" fill="#969696" stroke="#969696" stroke-width=".9"/>
<path d="M649.7,337.8 L660.4,328.8 L661.7,331.7 L651.0,340.6Z" fill="#b1b1b1" stroke="#b1b1b1" stroke-width=".9"/>
<path d="M651.0,340.6 L661.7,331.7 L662.5,333.5 L652.1,342.7Z" fill="#9c9c9c" stroke="#9c9c9c" stroke-width=".9"/>
<path d="M652.1,342.7 L662.5,333.5 L668.7,347.6 L658.6,356.2Z" fill="#737373" stroke="#737373" stroke-width=".9"/>
<path d="M658.6,356.2 L668.7,347.6 L669.2,348.8 L659.2,357.4Z" fill="#565656" stroke="#565656" stroke-width=".9"/>
<path d="M644.9,295.1 L657.0,285.4 L657.8,287.2 L645.7,296.8Z" fill="#7a7a7a" stroke="#7a7a7a" stroke-width=".9"/>
<path d="M645.7,296.8 L657.8,287.2 L658.9,289.7 L646.8,299.3Z" fill="#a1a1a1" stroke="#a1a1a1" stroke-width=".9"/>
<path d="M646.8,299.3 L658.9,289.7 L660.5,293.6 L648.6,303.1Z" fill="#868686" stroke="#868686" stroke-width=".9"/>
<path d="M648.6,303.1 L660.5,293.6 L661.6,296.1 L649.8,305.6Z" fill="#9c9c9c" stroke="#9c9c9c" stroke-width=".9"/>
<path d="M649.8,305.6 L661.6,296.1 L663.0,299.6 L651.3,308.9Z" fill="#919191" stroke="#919191" stroke-width=".9"/>
<path d="M651.3,308.9 L663.0,299.6 L667.3,309.7 L655.9,319.0Z" fill="#a5a5a5" stroke="#a5a5a5" stroke-width=".9"/>
<path d="M655.9,319.0 L667.3,309.7 L671.4,319.7 L660.4,328.8Z" fill="#959595" stroke="#959595" stroke-width=".9"/>
<path d="M660.4,328.8 L671.4,319.7 L672.6,322.7 L661.7,331.7Z" fill="#b1b1b1" stroke="#b1b1b1" stroke-width=".9"/>
<path d="M661.7,331.7 L672.6,322.7 L673.3,324.4 L662.5,333.5Z" fill="#9b9b9b" stroke="#9b9b9b" stroke-width=".9"/>
<path d="M662.5,333.5 L673.3,324.4 L679.1,338.9 L668.7,347.6Z" fill="#737373" stroke="#737373" stroke-width=".9"/>
<path d="M668.7,347.6 L679.1,338.9 L679.6,340.2 L669.2,348.8Z" fill="#565656" stroke="#565656" stroke-width=".9"/>
<path d="M657.0,285.4 L669.6,275.8 L670.3,277.6 L657.8,287.2Z" fill="#7a7a7a" stroke="#7a7a7a" stroke-width=".9"/>
<path d="M657.8,287.2 L670.3,277.6 L671.2,280.1 L658.9,289.7Z" fill="#a0a0a0" stroke="#a0a0a0" stroke-width=".9"/>
<path d="M658.9,289.7 L671.2,280.1 L672.8,284.1 L660.5,293.6Z" fill="#858585" stroke="#858585" stroke-width=".9"/>
<path d="M660.5,293.6 L672.8,284.1 L673.8,286.7 L661.6,296.1Z" fill="#9c9c9c" stroke="#9c9c9c" stroke-width=".9"/>
<path d="M661.6,296.1 L673.8,286.7 L675.1,290.2 L663.0,299.6Z" fill="#909090" stroke="#909090" stroke-width=".9"/>
<path d="M663.0,299.6 L675.1,290.2 L678.9,300.5 L667.3,309.7Z" fill="#a4a4a4" stroke="#a4a4a4" stroke-width=".9"/>
<path d="M667.3,309.7 L678.9,300.5 L682.7,310.7 L671.4,319.7Z" fill="#949494" stroke="#949494" stroke-width=".9"/>
<path d="M671.4,319.7 L682.7,310.7 L683.8,313.8 L672.6,322.7Z" fill="#b0b0b0" stroke="#b0b0b0" stroke-width=".9"/>
<path d="M672.6,322.7 L683.8,313.8 L684.4,315.3 L673.3,324.4Z" fill="#9a9a9a" stroke="#9a9a9a" stroke-width=".9"/>
<path d="M673.3,324.4 L684.4,315.3 L689.8,330.2 L679.1,338.9Z" fill="#737373" stroke="#737373" stroke-width=".9"/>
<path d="M679.1,338.9 L689.8,330.2 L690.2,331.6 L679.6,340.2Z" fill="#555555" stroke="#555555" stroke-width=".9"/>
<path d="M669.6,275.8 L682.5,266.3 L683.1,268.0 L670.3,277.6Z" fill="#797979" stroke="#797979" stroke-width=".9"/>
<path d="M670.3,277.6 L683.1,268.0 L684.0,270.6 L671.2,280.1Z" fill="#9f9f9f" stroke="#9f9f9f" stroke-width=".9"/>
<path d="M671.2,280.1 L684.0,270.6 L685.4,274.7 L672.8,284.1Z" fill="#848484" stroke="#848484" stroke-width=".9"/>
<path d="M672.8,284.1 L685.4,274.7 L686.3,277.3 L673.8,286.7Z" fill="#9b9b9b" stroke="#9b9b9b" stroke-width=".9"/>
<path d="M673.8,286.7 L686.3,277.3 L687.5,280.8 L675.1,290.2Z" fill="#8f8f8f" stroke="#8f8f8f" stroke-width=".9"/>
<path d="M675.1,290.2 L687.5,280.8 L691.0,291.4 L678.9,300.5Z" fill="#a3a3a3" stroke="#a3a3a3" stroke-width=".9"/>
<path d="M678.9,300.5 L691.0,291.4 L694.4,301.7 L682.7,310.7Z" fill="#939393" stroke="#939393" stroke-width=".9"/>
<path d="M682.7,310.7 L694.4,301.7 L695.4,304.7 L683.8,313.8Z" fill="#afafaf" stroke="#afafaf" stroke-width=".9"/>
<path d="M683.8,313.8 L695.4,304.7 L695.9,306.4 L684.4,315.3Z" fill="#999999" stroke="#999999" stroke-width=".9"/>
<path d="M684.4,315.3 L695.9,306.4 L700.7,321.4 L689.8,330.2Z" fill="#737373" stroke="#737373" stroke-width=".9"/>
<path d="M689.8,330.2 L700.7,321.4 L701.2,323.0 L690.2,331.6Z" fill="#505050" stroke="#505050" stroke-width=".9"/>
<path d="M682.5,266.3 L695.8,256.8 L696.3,258.6 L683.1,268.0Z" fill="#777777" stroke="#777777" stroke-width=".9"/>
<path d="M683.1,268.0 L696.3,258.6 L697.1,261.2 L684.0,270.6Z" fill="#9d9d9d" stroke="#9d9d9d" stroke-width=".9"/>
<path d="M684.0,270.6 L697.1,261.2 L698.4,265.3 L685.4,274.7Z" fill="#838383" stroke="#838383" stroke-width=".9"/>
<path d="M685.4,274.7 L698.4,265.3 L699.1,267.9 L686.3,277.3Z" fill="#999999" stroke="#999999" stroke-width=".9"/>
<path d="M686.3,277.3 L699.1,267.9 L700.2,271.5 L687.5,280.8Z" fill="#8e8e8e" stroke="#8e8e8e" stroke-width=".9"/>
<path d="M687.5,280.8 L700.2,271.5 L703.4,282.3 L691.0,291.4Z" fill="#a2a2a2" stroke="#a2a2a2" stroke-width=".9"/>
<path d="M691.0,291.4 L703.4,282.3 L706.4,292.7 L694.4,301.7Z" fill="#929292" stroke="#929292" stroke-width=".9"/>
<path d="M694.4,301.7 L706.4,292.7 L707.3,295.7 L695.4,304.7Z" fill="#adadad" stroke="#adadad" stroke-width=".9"/>
<path d="M695.4,304.7 L707.3,295.7 L707.8,297.4 L695.9,306.4Z" fill="#989898" stroke="#989898" stroke-width=".9"/>
<path d="M695.9,306.4 L707.8,297.4 L712.1,312.6 L700.7,321.4Z" fill="#737373" stroke="#737373" stroke-width=".9"/>
<path d="M700.7,321.4 L712.1,312.6 L712.6,314.4 L701.2,323.0Z" fill="#4b4b4b" stroke="#4b4b4b" stroke-width=".9"/>
<path d="M695.8,256.8 L709.5,247.5 L710.0,249.3 L696.3,258.6Z" fill="#767676" stroke="#767676" stroke-width=".9"/>
<path d="M696.3,258.6 L710.0,249.3 L710.7,251.9 L697.1,261.2Z" fill="#9c9c9c" stroke="#9c9c9c" stroke-width=".9"/>
<path d="M697.1,261.2 L710.7,251.9 L711.7,256.0 L698.4,265.3Z" fill="#828282" stroke="#828282" stroke-width=".9"/>
<path d="M698.4,265.3 L711.7,256.0 L712.4,258.7 L699.1,267.9Z" fill="#989898" stroke="#989898" stroke-width=".9"/>
<path d="M699.1,267.9 L712.4,258.7 L713.4,262.2 L700.2,271.5Z" fill="#8d8d8d" stroke="#8d8d8d" stroke-width=".9"/>
<path d="M700.2,271.5 L713.4,262.2 L716.2,273.3 L703.4,282.3Z" fill="#a1a1a1" stroke="#a1a1a1" stroke-width=".9"/>
<path d="M703.4,282.3 L716.2,273.3 L718.8,283.8 L706.4,292.7Z" fill="#919191" stroke="#919191" stroke-width=".9"/>
<path d="M706.4,292.7 L718.8,283.8 L719.6,286.8 L707.3,295.7Z" fill="#acacac" stroke="#acacac" stroke-width=".9"/>
<path d="M707.3,295.7 L719.6,286.8 L720.0,288.5 L707.8,297.4Z" fill="#979797" stroke="#979797" stroke-width=".9"/>
<path d="M707.8,297.4 L720.0,288.5 L723.8,303.8 L712.1,312.6Z" fill="#727272" stroke="#727272" stroke-width=".9"/>
<path d="M712.1,312.6 L723.8,303.8 L724.3,305.9 L712.6,314.4Z" fill="#454545" stroke="#454545" stroke-width=".9"/>
<path d="M709.5,247.5 L723.6,238.3 L724.0,240.1 L710.0,249.3Z" fill="#757575" stroke="#757575" stroke-width=".9"/>
<path d="M710.0,249.3 L724.0,240.1 L724.6,242.8 L710.7,251.9Z" fill="#9b9b9b" stroke="#9b9b9b" stroke-width=".9"/>
<path d="M710.7,251.9 L724.6,242.8 L725.5,246.9 L711.7,256.0Z" fill="#818181" stroke="#818181" stroke-width=".9"/>
<path d="M711.7,256.0 L725.5,246.9 L726.1,249.6 L712.4,258.7Z" fill="#979797" stroke="#979797" stroke-width=".9"/>
<path d="M712.4,258.7 L726.1,249.6 L726.9,253.1 L713.4,262.2Z" fill="#8c8c8c" stroke="#8c8c8c" stroke-width=".9"/>
<path d="M713.4,262.2 L726.9,253.1 L729.4,264.3 L716.2,273.3Z" fill="#a0a0a0" stroke="#a0a0a0" stroke-width=".9"/>
<path d="M716.2,273.3 L729.4,264.3 L731.6,275.0 L718.8,283.8Z" fill="#909090" stroke="#909090" stroke-width=".9"/>
<path d="M718.8,283.8 L731.6,275.0 L732.3,278.0 L719.6,286.8Z" fill="#ababab" stroke="#ababab" stroke-width=".9"/>
<path d="M719.6,286.8 L732.3,278.0 L732.6,279.7 L720.0,288.5Z" fill="#969696" stroke="#969696" stroke-width=".9"/>
<path d="M720.0,288.5 L732.6,279.7 L735.9,295.1 L723.8,303.8Z" fill="#727272" stroke="#727272" stroke-width=".9"/>
<path d="M723.8,303.8 L735.9,295.1 L736.4,297.5 L724.3,305.9Z" fill="#3f3f3f" stroke="#3f3f3f" stroke-width=".9"/>
<path d="M723.6,238.3 L738.2,229.3 L738.5,231.1 L724.0,240.1Z" fill="#717171" stroke="#717171" stroke-width=".9"/>
<path d="M724.0,240.1 L738.5,231.1 L738.9,233.5 L724.6,242.8Z" fill="#969696" stroke="#969696" stroke-width=".9"/>
<path d="M724.6,242.8 L738.9,233.5 L739.6,237.0 L725.5,246.9Z" fill="#7c7c7c" stroke="#7c7c7c" stroke-width=".9"/>
<path d="M725.5,246.9 L739.6,237.0 L740.0,239.2 L726.1,249.6Z" fill="#929292" stroke="#929292" stroke-width=".9"/>
<path d="M726.1,249.6 L740.0,239.2 L740.5,242.0 L726.9,253.1Z" fill="#888888" stroke="#888888" stroke-width=".9"/>
<path d="M726.9,253.1 L740.5,242.0 L742.8,254.9 L729.4,264.3Z" fill="#9c9c9c" stroke="#9c9c9c" stroke-width=".9"/>
<path d="M729.4,264.3 L742.8,254.9 L744.7,265.6 L731.6,275.0Z" fill="#8f8f8f" stroke="#8f8f8f" stroke-width=".9"/>
<path d="M731.6,275.0 L744.7,265.6 L745.2,268.3 L732.3,278.0Z" fill="#a8a8a8" stroke="#a8a8a8" stroke-width=".9"/>
<path d="M732.3,278.0 L745.2,268.3 L745.5,269.9 L732.6,279.7Z" fill="#919191" stroke="#919191" stroke-width=".9"/>
<path d="M732.6,279.7 L745.5,269.9 L748.3,286.4 L735.9,295.1Z" fill="#737373" stroke="#737373" stroke-width=".9"/>
<path d="M735.9,295.1 L748.3,286.4 L748.8,289.1 L736.4,297.5Z" fill="#3a3a3a" stroke="#3a3a3a" stroke-width=".9"/>
<path d="M738.2,229.3 L753.1,220.5 L753.4,222.3 L738.5,231.1Z" fill="#696969" stroke="#696969" stroke-width=".9"/>
<path d="M738.5,231.1 L753.4,222.3 L753.7,224.5 L738.9,233.5Z" fill="#8d8d8d" stroke="#8d8d8d" stroke-width=".9"/>
<path d="M738.9,233.5 L753.7,224.5 L754.1,227.1 L739.6,237.0Z" fill="#747474" stroke="#747474" stroke-width=".9"/>
<path d="M739.6,237.0 L754.1,227.1 L754.4,228.9 L740.0,239.2Z" fill="#898989" stroke="#898989" stroke-width=".9"/>
<path d="M740.0,239.2 L754.4,228.9 L754.7,231.0 L740.5,242.0Z" fill="#7f7f7f" stroke="#7f7f7f" stroke-width=".9"/>
<path d="M740.5,242.0 L754.7,231.0 L756.8,245.5 L742.8,254.9Z" fill="#939393" stroke="#939393" stroke-width=".9"/>
<path d="M742.8,254.9 L756.8,245.5 L758.3,256.4 L744.7,265.6Z" fill="#8d8d8d" stroke="#8d8d8d" stroke-width=".9"/>
<path d="M744.7,265.6 L758.3,256.4 L758.6,258.6 L745.2,268.3Z" fill="#a5a5a5" stroke="#a5a5a5" stroke-width=".9"/>
<path d="M745.2,268.3 L758.6,258.6 L758.8,260.1 L745.5,269.9Z" fill="#898989" stroke="#898989" stroke-width=".9"/>
<path d="M745.5,269.9 L758.8,260.1 L761.2,277.7 L748.3,286.4Z" fill="#767676" stroke="#767676" stroke-width=".9"/>
<path d="M748.3,286.4 L761.2,277.7 L761.6,280.9 L748.8,289.1Z" fill="#353535" stroke="#353535" stroke-width=".9"/>
<path d="M753.1,220.5 L768.6,212.0 L768.8,213.8 L753.4,222.3Z" fill="#626262" stroke="#626262" stroke-width=".9"/>
<path d="M753.4,222.3 L768.8,213.8 L769.0,215.6 L753.7,224.5Z" fill="#838383" stroke="#838383" stroke-width=".9"/>
<path d="M753.7,224.5 L769.0,215.6 L769.2,217.5 L754.1,227.1Z" fill="#6b6b6b" stroke="#6b6b6b" stroke-width=".9"/>
<path d="M754.1,227.1 L769.2,217.5 L769.3,218.8 L754.4,228.9Z" fill="#7f7f7f" stroke="#7f7f7f" stroke-width=".9"/>
<path d="M754.4,228.9 L769.3,218.8 L769.4,220.1 L754.7,231.0Z" fill="#757575" stroke="#757575" stroke-width=".9"/>
<path d="M754.7,231.0 L769.4,220.1 L771.2,236.4 L756.8,245.5Z" fill="#8a8a8a" stroke="#8a8a8a" stroke-width=".9"/>
<path d="M756.8,245.5 L771.2,236.4 L772.3,247.3 L758.3,256.4Z" fill="#8b8b8b" stroke="#8b8b8b" stroke-width=".9"/>
<path d="M758.3,256.4 L772.3,247.3 L772.5,249.2 L758.6,258.6Z" fill="#a2a2a2" stroke="#a2a2a2" stroke-width=".9"/>
<path d="M758.6,258.6 L772.5,249.2 L772.6,250.4 L758.8,260.1Z" fill="#818181" stroke="#818181" stroke-width=".9"/>
<path d="M758.8,260.1 L772.6,250.4 L774.5,269.2 L761.2,277.7Z" fill="#787878" stroke="#787878" stroke-width=".9"/>
<path d="M761.2,277.7 L774.5,269.2 L774.9,272.8 L761.6,280.9Z" fill="#313131" stroke="#313131" stroke-width=".9"/>
<path d="M768.6,212.0 L784.4,203.6 L784.5,205.5 L768.8,213.8Z" fill="#5e5e5e" stroke="#5e5e5e" stroke-width=".9"/>
<path d="M768.8,213.8 L784.5,205.5 L784.7,207.5 L769.0,215.6Z" fill="#7e7e7e" stroke="#7e7e7e" stroke-width=".9"/>
<path d="M769.0,215.6 L784.7,207.5 L784.8,209.5 L769.2,217.5Z" fill="#666666" stroke="#666666" stroke-width=".9"/>
<path d="M769.2,217.5 L784.8,209.5 L784.9,211.0 L769.3,218.8Z" fill="#7a7a7a" stroke="#7a7a7a" stroke-width=".9"/>
<path d="M769.3,218.8 L784.9,211.0 L785.0,212.4 L769.4,220.1Z" fill="#6f6f6f" stroke="#6f6f6f" stroke-width=".9"/>
<path d="M769.4,220.1 L785.0,212.4 L786.1,228.1 L771.2,236.4Z" fill="#848484" stroke="#848484" stroke-width=".9"/>
<path d="M771.2,236.4 L786.1,228.1 L786.8,238.5 L772.3,247.3Z" fill="#8a8a8a" stroke="#8a8a8a" stroke-width=".9"/>
<path d="M772.3,247.3 L786.8,238.5 L787.0,240.6 L772.5,249.2Z" fill="#a0a0a0" stroke="#a0a0a0" stroke-width=".9"/>
<path d="M772.5,249.2 L787.0,240.6 L787.0,241.8 L772.6,250.4Z" fill="#7c7c7c" stroke="#7c7c7c" stroke-width=".9"/>
<path d="M772.6,250.4 L787.0,241.8 L788.2,260.3 L774.5,269.2Z" fill="#7a7a7a" stroke="#7a7a7a" stroke-width=".9"/>
<path d="M774.5,269.2 L788.2,260.3 L788.5,264.8 L774.9,272.8Z" fill="#2e2e2e" stroke="#2e2e2e" stroke-width=".9"/>
<path d="M784.4,203.6 L800.7,195.6 L800.8,197.6 L784.5,205.5Z" fill="#5d5d5d" stroke="#5d5d5d" stroke-width=".9"/>
<path d="M784.5,205.5 L800.8,197.6 L800.9,199.7 L784.7,207.5Z" fill="#7e7e7e" stroke="#7e7e7e" stroke-width=".9"/>
<path d="M784.7,207.5 L800.9,199.7 L800.9,201.9 L784.8,209.5Z" fill="#646464" stroke="#646464" stroke-width=".9"/>
<path d="M784.8,209.5 L800.9,201.9 L801.0,203.7 L784.9,211.0Z" fill="#7a7a7a" stroke="#7a7a7a" stroke-width=".9"/>
<path d="M784.9,211.0 L801.0,203.7 L801.0,205.4 L785.0,212.4Z" fill="#6e6e6e" stroke="#6e6e6e" stroke-width=".9"/>
<path d="M785.0,212.4 L801.0,205.4 L801.5,220.2 L786.1,228.1Z" fill="#838383" stroke="#838383" stroke-width=".9"/>
<path d="M786.1,228.1 L801.5,220.2 L801.8,229.9 L786.8,238.5Z" fill="#898989" stroke="#898989" stroke-width=".9"/>
<path d="M786.8,238.5 L801.8,229.9 L801.9,232.2 L787.0,240.6Z" fill="#9f9f9f" stroke="#9f9f9f" stroke-width=".9"/>
<path d="M787.0,240.6 L801.9,232.2 L801.9,233.5 L787.0,241.8Z" fill="#7b7b7b" stroke="#7b7b7b" stroke-width=".9"/>
<path d="M787.0,241.8 L801.9,233.5 L802.4,251.5 L788.2,260.3Z" fill="#797979" stroke="#797979" stroke-width=".9"/>
<path d="M788.2,260.3 L802.4,251.5 L802.6,257.1 L788.5,264.8Z" fill="#2e2e2e" stroke="#2e2e2e" stroke-width=".9"/>
<path d="M800.7,195.6 L817.5,187.9 L817.4,190.0 L800.8,197.6Z" fill="#5d5d5d" stroke="#5d5d5d" stroke-width=".9"/>
<path d="M800.8,197.6 L817.4,190.0 L817.4,192.3 L800.9,199.7Z" fill="#7e7e7e" stroke="#7e7e7e" stroke-width=".9"/>
<path d="M800.9,199.7 L817.4,192.3 L817.4,194.6 L800.9,201.9Z" fill="#636363" stroke="#636363" stroke-width=".9"/>
<path d="M800.9,201.9 L817.4,194.6 L817.4,196.8 L801.0,203.7Z" fill="#797979" stroke="#797979" stroke-width=".9"/>
<path d="M801.0,203.7 L817.4,196.8 L817.4,198.7 L801.0,205.4Z" fill="#6c6c6c" stroke="#6c6c6c" stroke-width=".9"/>
<path d="M801.0,205.4 L817.4,198.7 L817.3,212.6 L801.5,220.2Z" fill="#818181" stroke="#818181" stroke-width=".9"/>
<path d="M801.5,220.2 L817.3,212.6 L817.3,221.6 L801.8,229.9Z" fill="#888888" stroke="#888888" stroke-width=".9"/>
<path d="M801.8,229.9 L817.3,221.6 L817.3,224.2 L801.9,232.2Z" fill="#9e9e9e" stroke="#9e9e9e" stroke-width=".9"/>
<path d="M801.9,232.2 L817.3,224.2 L817.3,225.4 L801.9,233.5Z" fill="#7b7b7b" stroke="#7b7b7b" stroke-width=".9"/>
<path d="M801.9,233.5 L817.3,225.4 L817.1,242.9 L802.4,251.5Z" fill="#797979" stroke="#797979" stroke-width=".9"/>
<path d="M802.4,251.5 L817.1,242.9 L817.1,249.5 L802.6,257.1Z" fill="#2d2d2d" stroke="#2d2d2d" stroke-width=".9"/>
<path d="M817.5,187.9 L834.6,180.6 L834.6,182.8 L817.4,190.0Z" fill="#5c5c5c" stroke="#5c5c5c" stroke-width=".9"/>
<path d="M817.4,190.0 L834.6,182.8 L834.5,185.2 L817.4,192.3Z" fill="#7e7e7e" stroke="#7e7e7e" stroke-width=".9"/>
<path d="M817.4,192.3 L834.5,185.2 L834.4,187.7 L817.4,194.6Z" fill="#626262" stroke="#626262" stroke-width=".9"/>
<path d="M817.4,194.6 L834.4,187.7 L834.2,190.2 L817.4,196.8Z" fill="#797979" stroke="#797979" stroke-width=".9"/>
<path d="M817.4,196.8 L834.2,190.2 L834.2,192.4 L817.4,198.7Z" fill="#6a6a6a" stroke="#6a6a6a" stroke-width=".9"/>
<path d="M817.4,198.7 L834.2,192.4 L833.6,205.3 L817.3,212.6Z" fill="#808080" stroke="#808080" stroke-width=".9"/>
<path d="M817.3,212.6 L833.6,205.3 L833.2,213.6 L817.3,221.6Z" fill="#878787" stroke="#878787" stroke-width=".9"/>
<path d="M817.3,221.6 L833.2,213.6 L833.1,216.5 L817.3,224.2Z" fill="#9d9d9d" stroke="#9d9d9d" stroke-width=".9"/>
<path d="M817.3,224.2 L833.1,216.5 L833.1,217.7 L817.3,225.4Z" fill="#7a7a7a" stroke="#7a7a7a" stroke-width=".9"/>
<path d="M817.3,225.4 L833.1,217.7 L832.3,234.7 L817.1,242.9Z" fill="#797979" stroke="#797979" stroke-width=".9"/>
<path d="M817.1,242.9 L832.3,234.7 L832.0,242.3 L817.1,249.5Z" fill="#2d2d2d" stroke="#2d2d2d" stroke-width=".9"/>
<path d="M834.6,180.6 L852.3,173.8 L852.1,176.1 L834.6,182.8Z" fill="#5b5b5b" stroke="#5b5b5b" stroke-width=".9"/>
<path d="M834.6,182.8 L852.1,176.1 L851.9,178.6 L834.5,185.2Z" fill="#7e7e7e" stroke="#7e7e7e" stroke-width=".9"/>
<path d="M834.5,185.2 L851.9,178.6 L851.7,181.2 L834.4,187.7Z" fill="#616161" stroke="#616161" stroke-width=".9"/>
<path d="M834.4,187.7 L851.7,181.2 L851.4,184.1 L834.2,190.2Z" fill="#797979" stroke="#797979" stroke-width=".9"/>
<path d="M834.2,190.2 L851.4,184.1 L851.2,186.4 L834.2,192.4Z" fill="#686868" stroke="#686868" stroke-width=".9"/>
<path d="M834.2,192.4 L851.2,186.4 L850.3,198.4 L833.6,205.3Z" fill="#7e7e7e" stroke="#7e7e7e" stroke-width=".9"/>
<path d="M833.6,205.3 L850.3,198.4 L849.7,205.9 L833.2,213.6Z" fill="#858585" stroke="#858585" stroke-width=".9"/>
<path d="M833.2,213.6 L849.7,205.9 L849.4,209.1 L833.1,216.5Z" fill="#9c9c9c" stroke="#9c9c9c" stroke-width=".9"/>
<path d="M833.1,216.5 L849.4,209.1 L849.3,210.3 L833.1,217.7Z" fill="#797979" stroke="#797979" stroke-width=".9"/>
<path d="M833.1,217.7 L849.3,210.3 L848.0,226.8 L832.3,234.7Z" fill="#787878" stroke="#787878" stroke-width=".9"/>
<path d="M832.3,234.7 L848.0,226.8 L847.3,235.3 L832.0,242.3Z" fill="#2d2d2d" stroke="#2d2d2d" stroke-width=".9"/>
<path d="M852.3,173.8 L870.3,167.4 L870.0,169.8 L852.1,176.1Z" fill="#5b5b5b" stroke="#5b5b5b" stroke-width=".9"/>
<path d="M852.1,176.1 L870.0,169.8 L869.7,172.5 L851.9,178.6Z" fill="#7e7e7e" stroke="#7e7e7e" stroke-width=".9"/>
<path d="M851.9,178.6 L869.7,172.5 L869.4,175.2 L851.7,181.2Z" fill="#606060" stroke="#606060" stroke-width=".9"/>
<path d="M851.7,181.2 L869.4,175.2 L869.0,178.4 L851.4,184.1Z" fill="#787878" stroke="#787878" stroke-width=".9"/>
<path d="M851.4,184.1 L869.0,178.4 L868.7,181.0 L851.2,186.4Z" fill="#666666" stroke="#666666" stroke-width=".9"/>
<path d="M851.2,186.4 L868.7,181.0 L867.4,191.9 L850.3,198.4Z" fill="#7c7c7c" stroke="#7c7c7c" stroke-width=".9"/>
<path d="M850.3,198.4 L867.4,191.9 L866.6,198.7 L849.7,205.9Z" fill="#848484" stroke="#848484" stroke-width=".9"/>
<path d="M849.7,205.9 L866.6,198.7 L866.2,202.2 L849.4,209.1Z" fill="#9b9b9b" stroke="#9b9b9b" stroke-width=".9"/>
<path d="M849.4,209.1 L866.2,202.2 L866.0,203.4 L849.3,210.3Z" fill="#797979" stroke="#797979" stroke-width=".9"/>
<path d="M849.3,210.3 L866.0,203.4 L864.2,219.2 L848.0,226.8Z" fill="#787878" stroke="#787878" stroke-width=".9"/>
<path d="M848.0,226.8 L864.2,219.2 L863.0,228.8 L847.3,235.3Z" fill="#2c2c2c" stroke="#2c2c2c" stroke-width=".9"/>
<path d="M870.3,167.4 L888.7,161.6 L888.3,164.0 L870.0,169.8Z" fill="#5a5a5a" stroke="#5a5a5a" stroke-width=".9"/>
<path d="M870.0,169.8 L888.3,164.0 L887.9,166.9 L869.7,172.5Z" fill="#7e7e7e" stroke="#7e7e7e" stroke-width=".9"/>
<path d="M869.7,172.5 L887.9,166.9 L887.5,169.7 L869.4,175.2Z" fill="#5e5e5e" stroke="#5e5e5e" stroke-width=".9"/>
<path d="M869.4,175.2 L887.5,169.7 L886.9,173.2 L869.0,178.4Z" fill="#787878" stroke="#787878" stroke-width=".9"/>
<path d="M869.0,178.4 L886.9,173.2 L886.5,176.0 L868.7,181.0Z" fill="#656565" stroke="#656565" stroke-width=".9"/>
<path d="M868.7,181.0 L886.5,176.0 L884.9,185.9 L867.4,191.9Z" fill="#7b7b7b" stroke="#7b7b7b" stroke-width=".9"/>
<path d="M867.4,191.9 L884.9,185.9 L883.9,192.0 L866.6,198.7Z" fill="#838383" stroke="#838383" stroke-width=".9"/>
<path d="M866.6,198.7 L883.9,192.0 L883.4,195.6 L866.2,202.2Z" fill="#9a9a9a" stroke="#9a9a9a" stroke-width=".9"/>
<path d="M866.2,202.2 L883.4,195.6 L883.2,196.8 L866.0,203.4Z" fill="#787878" stroke="#787878" stroke-width=".9"/>
<path d="M866.0,203.4 L883.2,196.8 L880.8,212.2 L864.2,219.2Z" fill="#777777" stroke="#777777" stroke-width=".9"/>
<path d="M864.2,219.2 L880.8,212.2 L879.2,222.6 L863.0,228.8Z" fill="#2c2c2c" stroke="#2c2c2c" stroke-width=".9"/>
<path d="M888.7,161.6 L907.5,156.4 L907.1,158.8 L888.3,164.0Z" fill="#5a5a5a" stroke="#5a5a5a" stroke-width=".9"/>
<path d="M888.3,164.0 L907.1,158.8 L906.4,162.0 L887.9,166.9Z" fill="#7b7b7b" stroke="#7b7b7b" stroke-width=".9"/>
<path d="M887.9,166.9 L906.4,162.0 L905.9,164.5 L887.5,169.7Z" fill="#5d5d5d" stroke="#5d5d5d" stroke-width=".9"/>
<path d="M887.5,169.7 L905.9,164.5 L905.2,168.3 L886.9,173.2Z" fill="#767676" stroke="#767676" stroke-width=".9"/>
<path d="M886.9,173.2 L905.2,168.3 L904.6,171.2 L886.5,176.0Z" fill="#616161" stroke="#616161" stroke-width=".9"/>
<path d="M886.5,176.0 L904.6,171.2 L903.0,179.5 L884.9,185.9Z" fill="#787878" stroke="#787878" stroke-width=".9"/>
<path d="M884.9,185.9 L903.0,179.5 L901.8,185.3 L883.9,192.0Z" fill="#7f7f7f" stroke="#7f7f7f" stroke-width=".9"/>
<path d="M883.9,192.0 L901.8,185.3 L901.1,188.8 L883.4,195.6Z" fill="#969696" stroke="#969696" stroke-width=".9"/>
<path d="M883.4,195.6 L901.1,188.8 L900.9,189.9 L883.2,196.8Z" fill="#767676" stroke="#767676" stroke-width=".9"/>
<path d="M883.2,196.8 L900.9,189.9 L897.7,206.2 L880.8,212.2Z" fill="#767676" stroke="#767676" stroke-width=".9"/>
<path d="M880.8,212.2 L897.7,206.2 L895.7,217.0 L879.2,222.6Z" fill="#2d2d2d" stroke="#2d2d2d" stroke-width=".9"/>
<path d="M907.5,156.4 L926.7,151.9 L926.1,154.2 L907.1,158.8Z" fill="#5a5a5a" stroke="#5a5a5a" stroke-width=".9"/>
<path d="M907.1,158.8 L926.1,154.2 L925.3,157.8 L906.4,162.0Z" fill="#777777" stroke="#777777" stroke-width=".9"/>
<path d="M906.4,162.0 L925.3,157.8 L924.7,160.0 L905.9,164.5Z" fill="#5a5a5a" stroke="#5a5a5a" stroke-width=".9"/>
<path d="M905.9,164.5 L924.7,160.0 L923.8,164.1 L905.2,168.3Z" fill="#727272" stroke="#727272" stroke-width=".9"/>
<path d="M905.2,168.3 L923.8,164.1 L923.1,167.1 L904.6,171.2Z" fill="#5b5b5b" stroke="#5b5b5b" stroke-width=".9"/>
<path d="M904.6,171.2 L923.1,167.1 L921.5,173.8 L903.0,179.5Z" fill="#747474" stroke="#747474" stroke-width=".9"/>
<path d="M903.0,179.5 L921.5,173.8 L920.2,179.3 L901.8,185.3Z" fill="#797979" stroke="#797979" stroke-width=".9"/>
<path d="M901.8,185.3 L920.2,179.3 L919.4,182.7 L901.1,188.8Z" fill="#909090" stroke="#909090" stroke-width=".9"/>
<path d="M901.1,188.8 L919.4,182.7 L919.1,183.6 L900.9,189.9Z" fill="#747474" stroke="#747474" stroke-width=".9"/>
<path d="M900.9,189.9 L919.1,183.6 L915.1,200.8 L897.7,206.2Z" fill="#737373" stroke="#737373" stroke-width=".9"/>
<path d="M897.7,206.2 L915.1,200.8 L912.5,211.9 L895.7,217.0Z" fill="#2f2f2f" stroke="#2f2f2f" stroke-width=".9"/>
<path d="M926.7,151.9 L946.2,148.1 L945.5,150.3 L926.1,154.2Z" fill="#5a5a5a" stroke="#5a5a5a" stroke-width=".9"/>
<path d="M926.1,154.2 L945.5,150.3 L944.4,154.4 L925.3,157.8Z" fill="#737373" stroke="#737373" stroke-width=".9"/>
<path d="M925.3,157.8 L944.4,154.4 L943.8,156.3 L924.7,160.0Z" fill="#585858" stroke="#585858" stroke-width=".9"/>
<path d="M924.7,160.0 L943.8,156.3 L942.6,160.6 L923.8,164.1Z" fill="#6e6e6e" stroke="#6e6e6e" stroke-width=".9"/>
<path d="M923.8,164.1 L942.6,160.6 L941.8,163.6 L923.1,167.1Z" fill="#565656" stroke="#565656" stroke-width=".9"/>
<path d="M923.1,167.1 L941.8,163.6 L940.3,168.8 L921.5,173.8Z" fill="#707070" stroke="#707070" stroke-width=".9"/>
<path d="M921.5,173.8 L940.3,168.8 L938.9,174.0 L920.2,179.3Z" fill="#737373" stroke="#737373" stroke-width=".9"/>
<path d="M920.2,179.3 L938.9,174.0 L938.0,177.2 L919.4,182.7Z" fill="#898989" stroke="#898989" stroke-width=".9"/>
<path d="M919.4,182.7 L938.0,177.2 L937.8,178.0 L919.1,183.6Z" fill="#717171" stroke="#717171" stroke-width=".9"/>
<path d="M919.1,183.6 L937.8,178.0 L932.8,196.1 L915.1,200.8Z" fill="#717171" stroke="#717171" stroke-width=".9"/>
<path d="M915.1,200.8 L932.8,196.1 L929.7,207.4 L912.5,211.9Z" fill="#313131" stroke="#313131" stroke-width=".9"/>
<path d="M946.2,148.1 L965.9,145.1 L965.1,147.3 L945.5,150.3Z" fill="#5a5a5a" stroke="#5a5a5a" stroke-width=".9"/>
<path d="M945.5,150.3 L965.1,147.3 L963.8,151.6 L944.4,154.4Z" fill="#6e6e6e" stroke="#6e6e6e" stroke-width=".9"/>
<path d="M944.4,154.4 L963.8,151.6 L963.1,153.5 L943.8,156.3Z" fill="#555555" stroke="#555555" stroke-width=".9"/>
<path d="M943.8,156.3 L963.1,153.5 L961.8,157.7 L942.6,160.6Z" fill="#6a6a6a" stroke="#6a6a6a" stroke-width=".9"/>
<path d="M942.6,160.6 L961.8,157.7 L960.8,160.7 L941.8,163.6Z" fill="#515151" stroke="#515151" stroke-width=".9"/>
<path d="M941.8,163.6 L960.8,160.7 L959.3,165.2 L940.3,168.8Z" fill="#6c6c6c" stroke="#6c6c6c" stroke-width=".9"/>
<path d="M940.3,168.8 L959.3,165.2 L957.8,170.0 L938.9,174.0Z" fill="#6d6d6d" stroke="#6d6d6d" stroke-width=".9"/>
<path d="M938.9,174.0 L957.8,170.0 L956.9,172.9 L938.0,177.2Z" fill="#838383" stroke="#838383" stroke-width=".9"/>
<path d="M938.0,177.2 L956.9,172.9 L956.7,173.6 L937.8,178.0Z" fill="#6e6e6e" stroke="#6e6e6e" stroke-width=".9"/>
<path d="M937.8,178.0 L956.7,173.6 L950.9,191.7 L932.8,196.1Z" fill="#6e6e6e" stroke="#6e6e6e" stroke-width=".9"/>
<path d="M932.8,196.1 L950.9,191.7 L947.2,203.6 L929.7,207.4Z" fill="#333333" stroke="#333333" stroke-width=".9"/>
<path d="M965.9,145.1 L985.8,143.0 L984.9,145.4 L965.1,147.3Z" fill="#595959" stroke="#595959" stroke-width=".9"/>
<path d="M965.1,147.3 L984.9,145.4 L983.4,149.5 L963.8,151.6Z" fill="#6d6d6d" stroke="#6d6d6d" stroke-width=".9"/>
<path d="M963.8,151.6 L983.4,149.5 L982.5,152.0 L963.1,153.5Z" fill="#5b5b5b" stroke="#5b5b5b" stroke-width=".9"/>
<path d="M963.1,153.5 L982.5,152.0 L981.2,155.4 L961.8,157.7Z" fill="#6a6a6a" stroke="#6a6a6a" stroke-width=".9"/>
<path d="M961.8,157.7 L981.2,155.4 L980.2,158.3 L960.8,160.7Z" fill="#4f4f4f" stroke="#4f4f4f" stroke-width=".9"/>
<path d="M960.8,160.7 L980.2,158.3 L978.2,163.5 L959.3,165.2Z" fill="#6c6c6c" stroke="#6c6c6c" stroke-width=".9"/>
<path d="M959.3,165.2 L978.2,163.5 L976.8,167.4 L957.8,170.0Z" fill="#6c6c6c" stroke="#6c6c6c" stroke-width=".9"/>
<path d="M957.8,170.0 L976.8,167.4 L975.9,169.9 L956.9,172.9Z" fill="#7f7f7f" stroke="#7f7f7f" stroke-width=".9"/>
<path d="M956.9,172.9 L975.9,169.9 L975.6,170.7 L956.7,173.6Z" fill="#6e6e6e" stroke="#6e6e6e" stroke-width=".9"/>
<path d="M956.7,173.6 L975.6,170.7 L969.5,187.7 L950.9,191.7Z" fill="#6e6e6e" stroke="#6e6e6e" stroke-width=".9"/>
<path d="M950.9,191.7 L969.5,187.7 L964.8,200.6 L947.2,203.6Z" fill="#363636" stroke="#363636" stroke-width=".9"/>
<path d="M985.8,143.0 L1005.9,141.8 L1004.8,144.3 L984.9,145.4Z" fill="#585858" stroke="#585858" stroke-width=".9"/>
<path d="M984.9,145.4 L1004.8,144.3 L1003.1,148.4 L983.4,149.5Z" fill="#6d6d6d" stroke="#6d6d6d" stroke-width=".9"/>
<path d="M983.4,149.5 L1003.1,148.4 L1001.9,151.3 L982.5,152.0Z" fill="#636363" stroke="#636363" stroke-width=".9"/>
<path d="M982.5,152.0 L1001.9,151.3 L1000.8,154.0 L981.2,155.4Z" fill="#6a6a6a" stroke="#6a6a6a" stroke-width=".9"/>
<path d="M981.2,155.4 L1000.8,154.0 L999.7,156.8 L980.2,158.3Z" fill="#4e4e4e" stroke="#4e4e4e" stroke-width=".9"/>
<path d="M980.2,158.3 L999.7,156.8 L997.3,162.6 L978.2,163.5Z" fill="#6d6d6d" stroke="#6d6d6d" stroke-width=".9"/>
<path d="M978.2,163.5 L997.3,162.6 L996.0,165.7 L976.8,167.4Z" fill="#6d6d6d" stroke="#6d6d6d" stroke-width=".9"/>
<path d="M976.8,167.4 L996.0,165.7 L995.1,167.9 L975.9,169.9Z" fill="#7c7c7c" stroke="#7c7c7c" stroke-width=".9"/>
<path d="M975.9,169.9 L995.1,167.9 L994.7,168.7 L975.6,170.7Z" fill="#6e6e6e" stroke="#6e6e6e" stroke-width=".9"/>
<path d="M975.6,170.7 L994.7,168.7 L988.3,184.6 L969.5,187.7Z" fill="#6e6e6e" stroke="#6e6e6e" stroke-width=".9"/>
<path d="M969.5,187.7 L988.3,184.6 L982.7,198.5 L964.8,200.6Z" fill="#393939" stroke="#393939" stroke-width=".9"/>
<path d="M1005.9,141.8 L1026.0,141.7 L1024.8,144.3 L1004.8,144.3Z" fill="#575757" stroke="#575757" stroke-width=".9"/>
<path d="M1004.8,144.3 L1024.8,144.3 L1023.0,148.2 L1003.1,148.4Z" fill="#6c6c6c" stroke="#6c6c6c" stroke-width=".9"/>
<path d="M1003.1,148.4 L1023.0,148.2 L1021.4,151.6 L1001.9,151.3Z" fill="#6a6a6a" stroke="#6a6a6a" stroke-width=".9"/>
<path d="M1001.9,151.3 L1021.4,151.6 L1020.5,153.6 L1000.8,154.0Z" fill="#6a6a6a" stroke="#6a6a6a" stroke-width=".9"/>
<path d="M1000.8,154.0 L1020.5,153.6 L1019.3,156.2 L999.7,156.8Z" fill="#4d4d4d" stroke="#4d4d4d" stroke-width=".9"/>
<path d="M999.7,156.8 L1019.3,156.2 L1016.3,162.7 L997.3,162.6Z" fill="#6d6d6d" stroke="#6d6d6d" stroke-width=".9"/>
<path d="M997.3,162.6 L1016.3,162.7 L1015.2,165.0 L996.0,165.7Z" fill="#6d6d6d" stroke="#6d6d6d" stroke-width=".9"/>
<path d="M996.0,165.7 L1015.2,165.0 L1014.4,166.8 L995.1,167.9Z" fill="#797979" stroke="#797979" stroke-width=".9"/>
<path d="M995.1,167.9 L1014.4,166.8 L1014.0,167.7 L994.7,168.7Z" fill="#6e6e6e" stroke="#6e6e6e" stroke-width=".9"/>
<path d="M994.7,168.7 L1014.0,167.7 L1007.3,182.5 L988.3,184.6Z" fill="#6e6e6e" stroke="#6e6e6e" stroke-width=".9"/>
<path d="M988.3,184.6 L1007.3,182.5 L1000.7,197.2 L982.7,198.5Z" fill="#3d3d3d" stroke="#3d3d3d" stroke-width=".9"/>
<path d="M1026.0,141.7 L1046.2,142.6 L1044.8,145.3 L1024.8,144.3Z" fill="#565656" stroke="#565656" stroke-width=".9"/>
<path d="M1024.8,144.3 L1044.8,145.3 L1042.8,149.1 L1023.0,148.2Z" fill="#6b6b6b" stroke="#6b6b6b" stroke-width=".9"/>
<path d="M1023.0,148.2 L1042.8,149.1 L1040.8,153.0 L1021.4,151.6Z" fill="#717171" stroke="#717171" stroke-width=".9"/>
<path d="M1021.4,151.6 L1040.8,153.0 L1040.2,154.2 L1020.5,153.6Z" fill="#6a6a6a" stroke="#6a6a6a" stroke-width=".9"/>
<path d="M1020.5,153.6 L1040.2,154.2 L1038.9,156.7 L1019.3,156.2Z" fill="#4b4b4b" stroke="#4b4b4b" stroke-width=".9"/>
<path d="M1019.3,156.2 L1038.9,156.7 L1035.3,163.8 L1016.3,162.7Z" fill="#6e6e6e" stroke="#6e6e6e" stroke-width=".9"/>
<path d="M1016.3,162.7 L1035.3,163.8 L1034.5,165.4 L1015.2,165.0Z" fill="#6e6e6e" stroke="#6e6e6e" stroke-width=".9"/>
<path d="M1015.2,165.0 L1034.5,165.4 L1033.8,166.7 L1014.4,166.8Z" fill="#767676" stroke="#767676" stroke-width=".9"/>
<path d="M1014.4,166.8 L1033.8,166.7 L1033.3,167.7 L1014.0,167.7Z" fill="#6e6e6e" stroke="#6e6e6e" stroke-width=".9"/>
<path d="M1014.0,167.7 L1033.3,167.7 L1026.4,181.4 L1007.3,182.5Z" fill="#6e6e6e" stroke="#6e6e6e" stroke-width=".9"/>
<path d="M1007.3,182.5 L1026.4,181.4 L1018.7,196.9 L1000.7,197.2Z" fill="#404040" stroke="#404040" stroke-width=".9"/>
<path d="M1046.2,142.6 L1066.3,144.6 L1064.7,147.3 L1044.8,145.3Z" fill="#555555" stroke="#555555" stroke-width=".9"/>
<path d="M1044.8,145.3 L1064.7,147.3 L1062.7,150.9 L1042.8,149.1Z" fill="#6a6a6a" stroke="#6a6a6a" stroke-width=".9"/>
<path d="M1042.8,149.1 L1062.7,150.9 L1060.4,154.9 L1040.8,153.0Z" fill="#787878" stroke="#787878" stroke-width=".9"/>
<path d="M1040.8,153.0 L1060.4,154.9 L1059.9,155.8 L1040.2,154.2Z" fill="#6a6a6a" stroke="#6a6a6a" stroke-width=".9"/>
<path d="M1040.2,154.2 L1059.9,155.8 L1058.6,158.2 L1038.9,156.7Z" fill="#4a4a4a" stroke="#4a4a4a" stroke-width=".9"/>
<path d="M1038.9,156.7 L1058.6,158.2 L1054.7,165.1 L1035.3,163.8Z" fill="#6e6e6e" stroke="#6e6e6e" stroke-width=".9"/>
<path d="M1035.3,163.8 L1054.7,165.1 L1054.0,166.2 L1034.5,165.4Z" fill="#6e6e6e" stroke="#6e6e6e" stroke-width=".9"/>
<path d="M1034.5,165.4 L1054.0,166.2 L1053.4,167.3 L1033.8,166.7Z" fill="#737373" stroke="#737373" stroke-width=".9"/>
<path d="M1033.8,166.7 L1053.4,167.3 L1052.8,168.4 L1033.3,167.7Z" fill="#6e6e6e" stroke="#6e6e6e" stroke-width=".9"/>
<path d="M1033.3,167.7 L1052.8,168.4 L1045.5,181.5 L1026.4,181.4Z" fill="#6e6e6e" stroke="#6e6e6e" stroke-width=".9"/>
<path d="M1026.4,181.4 L1045.5,181.5 L1036.7,197.7 L1018.7,196.9Z" fill="#434343" stroke="#434343" stroke-width=".9"/>
<path d="M1066.3,144.6 L1086.2,147.8 L1084.6,150.3 L1064.7,147.3Z" fill="#565656" stroke="#565656" stroke-width=".9"/>
<path d="M1064.7,147.3 L1084.6,150.3 L1082.7,153.4 L1062.7,150.9Z" fill="#6a6a6a" stroke="#6a6a6a" stroke-width=".9"/>
<path d="M1062.7,150.9 L1082.7,153.4 L1080.6,156.7 L1060.4,154.9Z" fill="#747474" stroke="#747474" stroke-width=".9"/>
<path d="M1060.4,154.9 L1080.6,156.7 L1079.9,157.9 L1059.9,155.8Z" fill="#6a6a6a" stroke="#6a6a6a" stroke-width=".9"/>
<path d="M1059.9,155.8 L1079.9,157.9 L1078.4,160.3 L1058.6,158.2Z" fill="#4f4f4f" stroke="#4f4f4f" stroke-width=".9"/>
<path d="M1058.6,158.2 L1078.4,160.3 L1075.1,165.6 L1054.7,165.1Z" fill="#6e6e6e" stroke="#6e6e6e" stroke-width=".9"/>
<path d="M1054.7,165.1 L1075.1,165.6 L1074.4,166.8 L1054.0,166.2Z" fill="#6e6e6e" stroke="#6e6e6e" stroke-width=".9"/>
<path d="M1054.0,166.2 L1074.4,166.8 L1073.8,167.8 L1053.4,167.3Z" fill="#727272" stroke="#727272" stroke-width=".9"/>
<path d="M1053.4,167.3 L1073.8,167.8 L1073.0,169.0 L1052.8,168.4Z" fill="#6e6e6e" stroke="#6e6e6e" stroke-width=".9"/>
<path d="M1052.8,168.4 L1073.0,169.0 L1064.4,183.2 L1045.5,181.5Z" fill="#6e6e6e" stroke="#6e6e6e" stroke-width=".9"/>
<path d="M1045.5,181.5 L1064.4,183.2 L1054.6,199.6 L1036.7,197.7Z" fill="#464646" stroke="#464646" stroke-width=".9"/>
<path d="M1086.2,147.8 L1105.8,152.2 L1104.3,154.5 L1084.6,150.3Z" fill="#565656" stroke="#565656" stroke-width=".9"/>
<path d="M1084.6,150.3 L1104.3,154.5 L1102.5,157.2 L1082.7,153.4Z" fill="#6a6a6a" stroke="#6a6a6a" stroke-width=".9"/>
<path d="M1082.7,153.4 L1102.5,157.2 L1100.7,159.8 L1080.6,156.7Z" fill="#6d6d6d" stroke="#6d6d6d" stroke-width=".9"/>
<path d="M1080.6,156.7 L1100.7,159.8 L1099.7,161.2 L1079.9,157.9Z" fill="#6a6a6a" stroke="#6a6a6a" stroke-width=".9"/>
<path d="M1079.9,157.9 L1099.7,161.2 L1098.1,163.6 L1078.4,160.3Z" fill="#555555" stroke="#555555" stroke-width=".9"/>
<path d="M1078.4,160.3 L1098.1,163.6 L1095.6,167.3 L1075.1,165.6Z" fill="#6d6d6d" stroke="#6d6d6d" stroke-width=".9"/>
<path d="M1075.1,165.6 L1095.6,167.3 L1094.7,168.6 L1074.4,166.8Z" fill="#6d6d6d" stroke="#6d6d6d" stroke-width=".9"/>
<path d="M1074.4,166.8 L1094.7,168.6 L1094.0,169.6 L1073.8,167.8Z" fill="#737373" stroke="#737373" stroke-width=".9"/>
<path d="M1073.8,167.8 L1094.0,169.6 L1093.2,170.9 L1073.0,169.0Z" fill="#6e6e6e" stroke="#6e6e6e" stroke-width=".9"/>
<path d="M1073.0,169.0 L1093.2,170.9 L1083.1,186.0 L1064.4,183.2Z" fill="#6e6e6e" stroke="#6e6e6e" stroke-width=".9"/>
<path d="M1064.4,183.2 L1083.1,186.0 L1072.2,202.6 L1054.6,199.6Z" fill="#484848" stroke="#484848" stroke-width=".9"/>
<path d="M1105.8,152.2 L1125.2,157.9 L1123.6,159.9 L1104.3,154.5Z" fill="#575757" stroke="#575757" stroke-width=".9"/>
<path d="M1104.3,154.5 L1123.6,159.9 L1121.9,162.2 L1102.5,157.2Z" fill="#6a6a6a" stroke="#6a6a6a" stroke-width=".9"/>
<path d="M1102.5,157.2 L1121.9,162.2 L1120.5,164.1 L1100.7,159.8Z" fill="#666666" stroke="#666666" stroke-width=".9"/>
<path d="M1100.7,159.8 L1120.5,164.1 L1119.2,165.8 L1099.7,161.2Z" fill="#6a6a6a" stroke="#6a6a6a" stroke-width=".9"/>
<path d="M1099.7,161.2 L1119.2,165.8 L1117.5,168.2 L1098.1,163.6Z" fill="#5b5b5b" stroke="#5b5b5b" stroke-width=".9"/>
<path d="M1098.1,163.6 L1117.5,168.2 L1115.9,170.4 L1095.6,167.3Z" fill="#6d6d6d" stroke="#6d6d6d" stroke-width=".9"/>
<path d="M1095.6,167.3 L1115.9,170.4 L1114.8,171.7 L1094.7,168.6Z" fill="#6d6d6d" stroke="#6d6d6d" stroke-width=".9"/>
<path d="M1094.7,168.6 L1114.8,171.7 L1114.1,172.7 L1094.0,169.6Z" fill="#737373" stroke="#737373" stroke-width=".9"/>
<path d="M1094.0,169.6 L1114.1,172.7 L1113.1,174.1 L1093.2,170.9Z" fill="#6e6e6e" stroke="#6e6e6e" stroke-width=".9"/>
<path d="M1093.2,170.9 L1113.1,174.1 L1101.5,190.1 L1083.1,186.0Z" fill="#6e6e6e" stroke="#6e6e6e" stroke-width=".9"/>
<path d="M1083.1,186.0 L1101.5,190.1 L1089.5,206.8 L1072.2,202.6Z" fill="#4b4b4b" stroke="#4b4b4b" stroke-width=".9"/>
<path d="M1125.2,157.9 L1144.1,164.7 L1142.5,166.6 L1123.6,159.9Z" fill="#585858" stroke="#585858" stroke-width=".9"/>
<path d="M1123.6,159.9 L1142.5,166.6 L1141.0,168.5 L1121.9,162.2Z" fill="#6a6a6a" stroke="#6a6a6a" stroke-width=".9"/>
<path d="M1121.9,162.2 L1141.0,168.5 L1139.8,169.9 L1120.5,164.1Z" fill="#5f5f5f" stroke="#5f5f5f" stroke-width=".9"/>
<path d="M1120.5,164.1 L1139.8,169.9 L1138.3,171.8 L1119.2,165.8Z" fill="#6a6a6a" stroke="#6a6a6a" stroke-width=".9"/>
<path d="M1119.2,165.8 L1138.3,171.8 L1136.4,174.2 L1117.5,168.2Z" fill="#616161" stroke="#616161" stroke-width=".9"/>
<path d="M1117.5,168.2 L1136.4,174.2 L1135.6,175.2 L1115.9,170.4Z" fill="#6c6c6c" stroke="#6c6c6c" stroke-width=".9"/>
<path d="M1115.9,170.4 L1135.6,175.2 L1134.5,176.6 L1114.8,171.7Z" fill="#6c6c6c" stroke="#6c6c6c" stroke-width=".9"/>
<path d="M1114.8,171.7 L1134.5,176.6 L1133.7,177.5 L1114.1,172.7Z" fill="#747474" stroke="#747474" stroke-width=".9"/>
<path d="M1114.1,172.7 L1133.7,177.5 L1132.6,178.9 L1113.1,174.1Z" fill="#6e6e6e" stroke="#6e6e6e" stroke-width=".9"/>
<path d="M1113.1,174.1 L1132.6,178.9 L1119.3,195.7 L1101.5,190.1Z" fill="#6e6e6e" stroke="#6e6e6e" stroke-width=".9"/>
<path d="M1101.5,190.1 L1119.3,195.7 L1106.5,212.2 L1089.5,206.8Z" fill="#4d4d4d" stroke="#4d4d4d" stroke-width=".9"/>
<path d="M1144.1,164.7 L1162.4,172.8 L1160.9,174.5 L1142.5,166.6Z" fill="#585858" stroke="#585858" stroke-width=".9"/>
<path d="M1142.5,166.6 L1160.9,174.5 L1159.1,176.6 L1141.0,168.5Z" fill="#6a6a6a" stroke="#6a6a6a" stroke-width=".9"/>
<path d="M1141.0,168.5 L1159.1,176.6 L1157.8,178.1 L1139.8,169.9Z" fill="#5d5d5d" stroke="#5d5d5d" stroke-width=".9"/>
<path d="M1139.8,169.9 L1157.8,178.1 L1156.1,180.0 L1138.3,171.8Z" fill="#6a6a6a" stroke="#6a6a6a" stroke-width=".9"/>
<path d="M1138.3,171.8 L1156.1,180.0 L1154.1,182.3 L1136.4,174.2Z" fill="#646464" stroke="#646464" stroke-width=".9"/>
<path d="M1136.4,174.2 L1154.1,182.3 L1153.1,183.4 L1135.6,175.2Z" fill="#6c6c6c" stroke="#6c6c6c" stroke-width=".9"/>
<path d="M1135.6,175.2 L1153.1,183.4 L1151.9,184.8 L1134.5,176.6Z" fill="#6c6c6c" stroke="#6c6c6c" stroke-width=".9"/>
<path d="M1134.5,176.6 L1151.9,184.8 L1151.1,185.7 L1133.7,177.5Z" fill="#727272" stroke="#727272" stroke-width=".9"/>
<path d="M1133.7,177.5 L1151.1,185.7 L1150.0,187.0 L1132.6,178.9Z" fill="#6e6e6e" stroke="#6e6e6e" stroke-width=".9"/>
<path d="M1132.6,178.9 L1150.0,187.0 L1135.4,204.0 L1119.3,195.7Z" fill="#6e6e6e" stroke="#6e6e6e" stroke-width=".9"/>
<path d="M1119.3,195.7 L1135.4,204.0 L1122.9,218.9 L1106.5,212.2Z" fill="#4f4f4f" stroke="#4f4f4f" stroke-width=".9"/>
<path d="M1162.4,172.8 L1180.1,182.2 L1178.7,183.7 L1160.9,174.5Z" fill="#595959" stroke="#595959" stroke-width=".9"/>
<path d="M1160.9,174.5 L1178.7,183.7 L1176.5,185.9 L1159.1,176.6Z" fill="#6a6a6a" stroke="#6a6a6a" stroke-width=".9"/>
<path d="M1159.1,176.6 L1176.5,185.9 L1175.1,187.5 L1157.8,178.1Z" fill="#5f5f5f" stroke="#5f5f5f" stroke-width=".9"/>
<path d="M1157.8,178.1 L1175.1,187.5 L1173.3,189.4 L1156.1,180.0Z" fill="#6a6a6a" stroke="#6a6a6a" stroke-width=".9"/>
<path d="M1156.1,180.0 L1173.3,189.4 L1171.2,191.6 L1154.1,182.3Z" fill="#656565" stroke="#656565" stroke-width=".9"/>
<path d="M1154.1,182.3 L1171.2,191.6 L1170.0,192.8 L1153.1,183.4Z" fill="#6c6c6c" stroke="#6c6c6c" stroke-width=".9"/>
<path d="M1153.1,183.4 L1170.0,192.8 L1168.7,194.2 L1151.9,184.8Z" fill="#6c6c6c" stroke="#6c6c6c" stroke-width=".9"/>
<path d="M1151.9,184.8 L1168.7,194.2 L1167.9,195.1 L1151.1,185.7Z" fill="#6f6f6f" stroke="#6f6f6f" stroke-width=".9"/>
<path d="M1151.1,185.7 L1167.9,195.1 L1166.8,196.3 L1150.0,187.0Z" fill="#6d6d6d" stroke="#6d6d6d" stroke-width=".9"/>
<path d="M1150.0,187.0 L1166.8,196.3 L1150.9,213.4 L1135.4,204.0Z" fill="#6e6e6e" stroke="#6e6e6e" stroke-width=".9"/>
<path d="M1135.4,204.0 L1150.9,213.4 L1138.8,226.7 L1122.9,218.9Z" fill="#505050" stroke="#505050" stroke-width=".9"/>
<path d="M1180.1,182.2 L1197.2,192.7 L1195.8,194.1 L1178.7,183.7Z" fill="#5a5a5a" stroke="#5a5a5a" stroke-width=".9"/>
<path d="M1178.7,183.7 L1195.8,194.1 L1193.3,196.5 L1176.5,185.9Z" fill="#6b6b6b" stroke="#6b6b6b" stroke-width=".9"/>
<path d="M1176.5,185.9 L1193.3,196.5 L1191.6,198.1 L1175.1,187.5Z" fill="#616161" stroke="#616161" stroke-width=".9"/>
<path d="M1175.1,187.5 L1191.6,198.1 L1189.7,199.9 L1173.3,189.4Z" fill="#6b6b6b" stroke="#6b6b6b" stroke-width=".9"/>
<path d="M1173.3,189.4 L1189.7,199.9 L1187.5,202.1 L1171.2,191.6Z" fill="#666666" stroke="#666666" stroke-width=".9"/>
<path d="M1171.2,191.6 L1187.5,202.1 L1186.1,203.4 L1170.0,192.8Z" fill="#6c6c6c" stroke="#6c6c6c" stroke-width=".9"/>
<path d="M1170.0,192.8 L1186.1,203.4 L1184.8,204.7 L1168.7,194.2Z" fill="#6c6c6c" stroke="#6c6c6c" stroke-width=".9"/>
<path d="M1168.7,194.2 L1184.8,204.7 L1184.0,205.6 L1167.9,195.1Z" fill="#6b6b6b" stroke="#6b6b6b" stroke-width=".9"/>
<path d="M1167.9,195.1 L1184.0,205.6 L1182.8,206.7 L1166.8,196.3Z" fill="#6d6d6d" stroke="#6d6d6d" stroke-width=".9"/>
<path d="M1166.8,196.3 L1182.8,206.7 L1165.5,224.0 L1150.9,213.4Z" fill="#6e6e6e" stroke="#6e6e6e" stroke-width=".9"/>
<path d="M1150.9,213.4 L1165.5,224.0 L1153.9,235.8 L1138.8,226.7Z" fill="#515151" stroke="#515151" stroke-width=".9"/>
<path d="M1197.2,192.7 L1213.4,204.4 L1212.1,205.6 L1195.8,194.1Z" fill="#5b5b5b" stroke="#5b5b5b" stroke-width=".9"/>
<path d="M1195.8,194.1 L1212.1,205.6 L1209.3,208.1 L1193.3,196.5Z" fill="#6b6b6b" stroke="#6b6b6b" stroke-width=".9"/>
<path d="M1193.3,196.5 L1209.3,208.1 L1207.4,209.8 L1191.6,198.1Z" fill="#636363" stroke="#636363" stroke-width=".9"/>
<path d="M1191.6,198.1 L1207.4,209.8 L1205.4,211.7 L1189.7,199.9Z" fill="#6b6b6b" stroke="#6b6b6b" stroke-width=".9"/>
<path d="M1189.7,199.9 L1205.4,211.7 L1203.1,213.7 L1187.5,202.1Z" fill="#676767" stroke="#676767" stroke-width=".9"/>
<path d="M1187.5,202.1 L1203.1,213.7 L1201.5,215.2 L1186.1,203.4Z" fill="#6c6c6c" stroke="#6c6c6c" stroke-width=".9"/>
<path d="M1186.1,203.4 L1201.5,215.2 L1200.1,216.4 L1184.8,204.7Z" fill="#6c6c6c" stroke="#6c6c6c" stroke-width=".9"/>
<path d="M1184.8,204.7 L1200.1,216.4 L1199.2,217.3 L1184.0,205.6Z" fill="#686868" stroke="#686868" stroke-width=".9"/>
<path d="M1184.0,205.6 L1199.2,217.3 L1198.1,218.3 L1182.8,206.7Z" fill="#6c6c6c" stroke="#6c6c6c" stroke-width=".9"/>
<path d="M1182.8,206.7 L1198.1,218.3 L1179.3,235.6 L1165.5,224.0Z" fill="#6e6e6e" stroke="#6e6e6e" stroke-width=".9"/>
<path d="M1165.5,224.0 L1179.3,235.6 L1168.4,246.0 L1153.9,235.8Z" fill="#535353" stroke="#535353" stroke-width=".9"/>
<path d="M1213.4,204.4 L1228.9,217.2 L1227.5,218.3 L1212.1,205.6Z" fill="#5b5b5b" stroke="#5b5b5b" stroke-width=".9"/>
<path d="M1212.1,205.6 L1227.5,218.3 L1224.4,220.9 L1209.3,208.1Z" fill="#6b6b6b" stroke="#6b6b6b" stroke-width=".9"/>
<path d="M1209.3,208.1 L1224.4,220.9 L1222.4,222.6 L1207.4,209.8Z" fill="#656565" stroke="#656565" stroke-width=".9"/>
<path d="M1207.4,209.8 L1222.4,222.6 L1220.2,224.4 L1205.4,211.7Z" fill="#6b6b6b" stroke="#6b6b6b" stroke-width=".9"/>
<path d="M1205.4,211.7 L1220.2,224.4 L1217.8,226.4 L1203.1,213.7Z" fill="#686868" stroke="#686868" stroke-width=".9"/>
<path d="M1203.1,213.7 L1217.8,226.4 L1215.9,228.0 L1201.5,215.2Z" fill="#6c6c6c" stroke="#6c6c6c" stroke-width=".9"/>
<path d="M1201.5,215.2 L1215.9,228.0 L1214.5,229.2 L1200.1,216.4Z" fill="#6c6c6c" stroke="#6c6c6c" stroke-width=".9"/>
<path d="M1200.1,216.4 L1214.5,229.2 L1213.6,230.0 L1199.2,217.3Z" fill="#656565" stroke="#656565" stroke-width=".9"/>
<path d="M1199.2,217.3 L1213.6,230.0 L1212.4,230.9 L1198.1,218.3Z" fill="#6c6c6c" stroke="#6c6c6c" stroke-width=".9"/>
<path d="M1198.1,218.3 L1212.4,230.9 L1192.2,248.3 L1179.3,235.6Z" fill="#6e6e6e" stroke="#6e6e6e" stroke-width=".9"/>
<path d="M1179.3,235.6 L1192.2,248.3 L1182.0,257.3 L1168.4,246.0Z" fill="#545454" stroke="#545454" stroke-width=".9"/>
<path d="M1228.9,217.2 L1243.4,231.1 L1242.1,232.0 L1227.5,218.3Z" fill="#5c5c5c" stroke="#5c5c5c" stroke-width=".9"/>
<path d="M1227.5,218.3 L1242.1,232.0 L1238.6,234.7 L1224.4,220.9Z" fill="#6b6b6b" stroke="#6b6b6b" stroke-width=".9"/>
<path d="M1224.4,220.9 L1238.6,234.7 L1236.4,236.4 L1222.4,222.6Z" fill="#676767" stroke="#676767" stroke-width=".9"/>
<path d="M1222.4,222.6 L1236.4,236.4 L1234.0,238.3 L1220.2,224.4Z" fill="#6b6b6b" stroke="#6b6b6b" stroke-width=".9"/>
<path d="M1220.2,224.4 L1234.0,238.3 L1231.6,240.2 L1217.8,226.4Z" fill="#696969" stroke="#696969" stroke-width=".9"/>
<path d="M1217.8,226.4 L1231.6,240.2 L1229.4,241.8 L1215.9,228.0Z" fill="#6c6c6c" stroke="#6c6c6c" stroke-width=".9"/>
<path d="M1215.9,228.0 L1229.4,241.8 L1228.0,243.0 L1214.5,229.2Z" fill="#6c6c6c" stroke="#6c6c6c" stroke-width=".9"/>
<path d="M1214.5,229.2 L1228.0,243.0 L1227.0,243.7 L1213.6,230.0Z" fill="#626262" stroke="#626262" stroke-width=".9"/>
<path d="M1213.6,230.0 L1227.0,243.7 L1225.9,244.6 L1212.4,230.9Z" fill="#6b6b6b" stroke="#6b6b6b" stroke-width=".9"/>
<path d="M1212.4,230.9 L1225.9,244.6 L1204.1,261.9 L1192.2,248.3Z" fill="#6e6e6e" stroke="#6e6e6e" stroke-width=".9"/>
<path d="M1192.2,248.3 L1204.1,261.9 L1194.7,269.6 L1182.0,257.3Z" fill="#555555" stroke="#555555" stroke-width=".9"/>
<path d="M1243.4,231.1 L1256.9,245.9 L1255.8,246.7 L1242.1,232.0Z" fill="#5d5d5d" stroke="#5d5d5d" stroke-width=".9"/>
<path d="M1242.1,232.0 L1255.8,246.7 L1251.9,249.5 L1238.6,234.7Z" fill="#6c6c6c" stroke="#6c6c6c" stroke-width=".9"/>
<path d="M1238.6,234.7 L1251.9,249.5 L1249.4,251.2 L1236.4,236.4Z" fill="#696969" stroke="#696969" stroke-width=".9"/>
<path d="M1236.4,236.4 L1249.4,251.2 L1246.9,253.0 L1234.0,238.3Z" fill="#6c6c6c" stroke="#6c6c6c" stroke-width=".9"/>
<path d="M1234.0,238.3 L1246.9,253.0 L1244.4,254.9 L1231.6,240.2Z" fill="#6a6a6a" stroke="#6a6a6a" stroke-width=".9"/>
<path d="M1231.6,240.2 L1244.4,254.9 L1242.0,256.6 L1229.4,241.8Z" fill="#6c6c6c" stroke="#6c6c6c" stroke-width=".9"/>
<path d="M1229.4,241.8 L1242.0,256.6 L1240.5,257.7 L1228.0,243.0Z" fill="#6c6c6c" stroke="#6c6c6c" stroke-width=".9"/>
<path d="M1228.0,243.0 L1240.5,257.7 L1239.4,258.4 L1227.0,243.7Z" fill="#5f5f5f" stroke="#5f5f5f" stroke-width=".9"/>
<path d="M1227.0,243.7 L1239.4,258.4 L1238.4,259.2 L1225.9,244.6Z" fill="#6b6b6b" stroke="#6b6b6b" stroke-width=".9"/>
<path d="M1225.9,244.6 L1238.4,259.2 L1215.1,276.4 L1204.1,261.9Z" fill="#6e6e6e" stroke="#6e6e6e" stroke-width=".9"/>
<path d="M1204.1,261.9 L1215.1,276.4 L1206.6,282.9 L1194.7,269.6Z" fill="#565656" stroke="#565656" stroke-width=".9"/>
<path d="M1256.9,245.9 L1269.5,261.6 L1268.4,262.3 L1255.8,246.7Z" fill="#5e5e5e" stroke="#5e5e5e" stroke-width=".9"/>
<path d="M1255.8,246.7 L1268.4,262.3 L1264.1,265.1 L1251.9,249.5Z" fill="#6c6c6c" stroke="#6c6c6c" stroke-width=".9"/>
<path d="M1251.9,249.5 L1264.1,265.1 L1261.5,266.9 L1249.4,251.2Z" fill="#6b6b6b" stroke="#6b6b6b" stroke-width=".9"/>
<path d="M1249.4,251.2 L1261.5,266.9 L1258.8,268.6 L1246.9,253.0Z" fill="#6c6c6c" stroke="#6c6c6c" stroke-width=".9"/>
<path d="M1246.9,253.0 L1258.8,268.6 L1256.2,270.4 L1244.4,254.9Z" fill="#6c6c6c" stroke="#6c6c6c" stroke-width=".9"/>
<path d="M1244.4,254.9 L1256.2,270.4 L1253.6,272.1 L1242.0,256.6Z" fill="#6c6c6c" stroke="#6c6c6c" stroke-width=".9"/>
<path d="M1242.0,256.6 L1253.6,272.1 L1252.0,273.1 L1240.5,257.7Z" fill="#6c6c6c" stroke="#6c6c6c" stroke-width=".9"/>
<path d="M1240.5,257.7 L1252.0,273.1 L1251.0,273.8 L1239.4,258.4Z" fill="#5b5b5b" stroke="#5b5b5b" stroke-width=".9"/>
<path d="M1239.4,258.4 L1251.0,273.8 L1250.0,274.5 L1238.4,259.2Z" fill="#6a6a6a" stroke="#6a6a6a" stroke-width=".9"/>
<path d="M1238.4,259.2 L1250.0,274.5 L1225.1,291.6 L1215.1,276.4Z" fill="#6e6e6e" stroke="#6e6e6e" stroke-width=".9"/>
<path d="M1215.1,276.4 L1225.1,291.6 L1217.5,297.0 L1206.6,282.9Z" fill="#585858" stroke="#585858" stroke-width=".9"/>
<path d="M1269.5,261.6 L1281.0,278.1 L1279.9,278.8 L1268.4,262.3Z" fill="#5e5e5e" stroke="#5e5e5e" stroke-width=".9"/>
<path d="M1268.4,262.3 L1279.9,278.8 L1275.5,281.5 L1264.1,265.1Z" fill="#6c6c6c" stroke="#6c6c6c" stroke-width=".9"/>
<path d="M1264.1,265.1 L1275.5,281.5 L1272.8,283.1 L1261.5,266.9Z" fill="#6c6c6c" stroke="#6c6c6c" stroke-width=".9"/>
<path d="M1261.5,266.9 L1272.8,283.1 L1270.1,284.8 L1258.8,268.6Z" fill="#6c6c6c" stroke="#6c6c6c" stroke-width=".9"/>
<path d="M1258.8,268.6 L1270.1,284.8 L1267.3,286.5 L1256.2,270.4Z" fill="#6c6c6c" stroke="#6c6c6c" stroke-width=".9"/>
<path d="M1256.2,270.4 L1267.3,286.5 L1265.0,287.9 L1253.6,272.1Z" fill="#6c6c6c" stroke="#6c6c6c" stroke-width=".9"/>
<path d="M1253.6,272.1 L1265.0,287.9 L1263.5,288.8 L1252.0,273.1Z" fill="#6c6c6c" stroke="#6c6c6c" stroke-width=".9"/>
<path d="M1252.0,273.1 L1263.5,288.8 L1262.5,289.5 L1251.0,273.8Z" fill="#5c5c5c" stroke="#5c5c5c" stroke-width=".9"/>
<path d="M1251.0,273.8 L1262.5,289.5 L1261.5,290.1 L1250.0,274.5Z" fill="#6b6b6b" stroke="#6b6b6b" stroke-width=".9"/>
<path d="M1250.0,274.5 L1261.5,290.1 L1235.3,306.7 L1225.1,291.6Z" fill="#707070" stroke="#707070" stroke-width=".9"/>
<path d="M1225.1,291.6 L1235.3,306.7 L1227.4,311.9 L1217.5,297.0Z" fill="#5a5a5a" stroke="#5a5a5a" stroke-width=".9"/>
<path d="M1281.0,278.1 L1291.6,295.3 L1290.4,296.0 L1279.9,278.8Z" fill="#5e5e5e" stroke="#5e5e5e" stroke-width=".9"/>
<path d="M1279.9,278.8 L1290.4,296.0 L1285.9,298.5 L1275.5,281.5Z" fill="#6c6c6c" stroke="#6c6c6c" stroke-width=".9"/>
<path d="M1275.5,281.5 L1285.9,298.5 L1283.1,300.1 L1272.8,283.1Z" fill="#6c6c6c" stroke="#6c6c6c" stroke-width=".9"/>
<path d="M1272.8,283.1 L1283.1,300.1 L1280.3,301.6 L1270.1,284.8Z" fill="#6c6c6c" stroke="#6c6c6c" stroke-width=".9"/>
<path d="M1270.1,284.8 L1280.3,301.6 L1277.5,303.2 L1267.3,286.5Z" fill="#6c6c6c" stroke="#6c6c6c" stroke-width=".9"/>
<path d="M1267.3,286.5 L1277.5,303.2 L1275.3,304.5 L1265.0,287.9Z" fill="#6c6c6c" stroke="#6c6c6c" stroke-width=".9"/>
<path d="M1265.0,287.9 L1275.3,304.5 L1274.0,305.2 L1263.5,288.8Z" fill="#6c6c6c" stroke="#6c6c6c" stroke-width=".9"/>
<path d="M1263.5,288.8 L1274.0,305.2 L1273.0,305.8 L1262.5,289.5Z" fill="#5e5e5e" stroke="#5e5e5e" stroke-width=".9"/>
<path d="M1262.5,289.5 L1273.0,305.8 L1272.0,306.3 L1261.5,290.1Z" fill="#6e6e6e" stroke="#6e6e6e" stroke-width=".9"/>
<path d="M1261.5,290.1 L1272.0,306.3 L1244.6,322.5 L1235.3,306.7Z" fill="#747474" stroke="#747474" stroke-width=".9"/>
<path d="M1235.3,306.7 L1244.6,322.5 L1236.3,327.5 L1227.4,311.9Z" fill="#5d5d5d" stroke="#5d5d5d" stroke-width=".9"/>
<path d="M1291.6,295.3 L1301.1,313.1 L1299.9,313.7 L1290.4,296.0Z" fill="#5f5f5f" stroke="#5f5f5f" stroke-width=".9"/>
<path d="M1290.4,296.0 L1299.9,313.7 L1295.2,316.1 L1285.9,298.5Z" fill="#6d6d6d" stroke="#6d6d6d" stroke-width=".9"/>
<path d="M1285.9,298.5 L1295.2,316.1 L1292.4,317.6 L1283.1,300.1Z" fill="#6d6d6d" stroke="#6d6d6d" stroke-width=".9"/>
<path d="M1283.1,300.1 L1292.4,317.6 L1289.5,319.1 L1280.3,301.6Z" fill="#6d6d6d" stroke="#6d6d6d" stroke-width=".9"/>
<path d="M1280.3,301.6 L1289.5,319.1 L1286.6,320.6 L1277.5,303.2Z" fill="#6d6d6d" stroke="#6d6d6d" stroke-width=".9"/>
<path d="M1277.5,303.2 L1286.6,320.6 L1284.7,321.6 L1275.3,304.5Z" fill="#6d6d6d" stroke="#6d6d6d" stroke-width=".9"/>
<path d="M1275.3,304.5 L1284.7,321.6 L1283.4,322.3 L1274.0,305.2Z" fill="#6d6d6d" stroke="#6d6d6d" stroke-width=".9"/>
<path d="M1274.0,305.2 L1283.4,322.3 L1282.5,322.7 L1273.0,305.8Z" fill="#616161" stroke="#616161" stroke-width=".9"/>
<path d="M1273.0,305.8 L1282.5,322.7 L1281.6,323.2 L1272.0,306.3Z" fill="#707070" stroke="#707070" stroke-width=".9"/>
<path d="M1272.0,306.3 L1281.6,323.2 L1252.9,338.8 L1244.6,322.5Z" fill="#797979" stroke="#797979" stroke-width=".9"/>
<path d="M1244.6,322.5 L1252.9,338.8 L1244.4,343.6 L1236.3,327.5Z" fill="#606060" stroke="#606060" stroke-width=".9"/>
<path d="M1301.1,313.1 L1309.5,331.5 L1308.3,332.0 L1299.9,313.7Z" fill="#5f5f5f" stroke="#5f5f5f" stroke-width=".9"/>
<path d="M1299.9,313.7 L1308.3,332.0 L1303.6,334.2 L1295.2,316.1Z" fill="#6d6d6d" stroke="#6d6d6d" stroke-width=".9"/>
<path d="M1295.2,316.1 L1303.6,334.2 L1300.6,335.6 L1292.4,317.6Z" fill="#6d6d6d" stroke="#6d6d6d" stroke-width=".9"/>
<path d="M1292.4,317.6 L1300.6,335.6 L1297.7,337.1 L1289.5,319.1Z" fill="#6d6d6d" stroke="#6d6d6d" stroke-width=".9"/>
<path d="M1289.5,319.1 L1297.7,337.1 L1294.7,338.5 L1286.6,320.6Z" fill="#6d6d6d" stroke="#6d6d6d" stroke-width=".9"/>
<path d="M1286.6,320.6 L1294.7,338.5 L1293.1,339.3 L1284.7,321.6Z" fill="#6d6d6d" stroke="#6d6d6d" stroke-width=".9"/>
<path d="M1284.7,321.6 L1293.1,339.3 L1292.0,339.8 L1283.4,322.3Z" fill="#6d6d6d" stroke="#6d6d6d" stroke-width=".9"/>
<path d="M1283.4,322.3 L1292.0,339.8 L1291.1,340.2 L1282.5,322.7Z" fill="#646464" stroke="#646464" stroke-width=".9"/>
<path d="M1282.5,322.7 L1291.1,340.2 L1290.3,340.6 L1281.6,323.2Z" fill="#737373" stroke="#737373" stroke-width=".9"/>
<path d="M1281.6,323.2 L1290.3,340.6 L1260.3,355.6 L1252.9,338.8Z" fill="#7d7d7d" stroke="#7d7d7d" stroke-width=".9"/>
<path d="M1252.9,338.8 L1260.3,355.6 L1251.4,360.2 L1244.4,343.6Z" fill="#636363" stroke="#636363" stroke-width=".9"/>
<path d="M1309.5,331.5 L1317.0,350.2 L1315.8,350.7 L1308.3,332.0Z" fill="#5f5f5f" stroke="#5f5f5f" stroke-width=".9"/>
<path d="M1308.3,332.0 L1315.8,350.7 L1310.9,352.8 L1303.6,334.2Z" fill="#6d6d6d" stroke="#6d6d6d" stroke-width=".9"/>
<path d="M1303.6,334.2 L1310.9,352.8 L1307.9,354.1 L1300.6,335.6Z" fill="#6d6d6d" stroke="#6d6d6d" stroke-width=".9"/>
<path d="M1300.6,335.6 L1307.9,354.1 L1304.9,355.4 L1297.7,337.1Z" fill="#6d6d6d" stroke="#6d6d6d" stroke-width=".9"/>
<path d="M1297.7,337.1 L1304.9,355.4 L1301.9,356.7 L1294.7,338.5Z" fill="#6d6d6d" stroke="#6d6d6d" stroke-width=".9"/>
<path d="M1294.7,338.5 L1301.9,356.7 L1300.5,357.3 L1293.1,339.3Z" fill="#6d6d6d" stroke="#6d6d6d" stroke-width=".9"/>
<path d="M1293.1,339.3 L1300.5,357.3 L1299.5,357.7 L1292.0,339.8Z" fill="#6d6d6d" stroke="#6d6d6d" stroke-width=".9"/>
<path d="M1292.0,339.8 L1299.5,357.7 L1298.8,358.1 L1291.1,340.2Z" fill="#666666" stroke="#666666" stroke-width=".9"/>
<path d="M1291.1,340.2 L1298.8,358.1 L1298.0,358.4 L1290.3,340.6Z" fill="#757575" stroke="#757575" stroke-width=".9"/>
<path d="M1290.3,340.6 L1298.0,358.4 L1266.7,372.7 L1260.3,355.6Z" fill="#818181" stroke="#818181" stroke-width=".9"/>
<path d="M1260.3,355.6 L1266.7,372.7 L1257.6,377.1 L1251.4,360.2Z" fill="#666666" stroke="#666666" stroke-width=".9"/>
<path d="M1317.0,350.2 L1323.5,369.2 L1322.3,369.7 L1315.8,350.7Z" fill="#606060" stroke="#606060" stroke-width=".9"/>
<path d="M1315.8,350.7 L1322.3,369.7 L1317.3,371.6 L1310.9,352.8Z" fill="#6e6e6e" stroke="#6e6e6e" stroke-width=".9"/>
<path d="M1310.9,352.8 L1317.3,371.6 L1314.2,372.8 L1307.9,354.1Z" fill="#6e6e6e" stroke="#6e6e6e" stroke-width=".9"/>
<path d="M1307.9,354.1 L1314.2,372.8 L1311.1,374.1 L1304.9,355.4Z" fill="#6e6e6e" stroke="#6e6e6e" stroke-width=".9"/>
<path d="M1304.9,355.4 L1311.1,374.1 L1308.1,375.3 L1301.9,356.7Z" fill="#6e6e6e" stroke="#6e6e6e" stroke-width=".9"/>
<path d="M1301.9,356.7 L1308.1,375.3 L1307.0,375.7 L1300.5,357.3Z" fill="#6e6e6e" stroke="#6e6e6e" stroke-width=".9"/>
<path d="M1300.5,357.3 L1307.0,375.7 L1306.2,376.0 L1299.5,357.7Z" fill="#6e6e6e" stroke="#6e6e6e" stroke-width=".9"/>
<path d="M1299.5,357.7 L1306.2,376.0 L1305.5,376.3 L1298.8,358.1Z" fill="#696969" stroke="#696969" stroke-width=".9"/>
<path d="M1298.8,358.1 L1305.5,376.3 L1304.7,376.6 L1298.0,358.4Z" fill="#787878" stroke="#787878" stroke-width=".9"/>
<path d="M1298.0,358.4 L1304.7,376.6 L1272.3,390.2 L1266.7,372.7Z" fill="#858585" stroke="#858585" stroke-width=".9"/>
<path d="M1266.7,372.7 L1272.3,390.2 L1262.9,394.3 L1257.6,377.1Z" fill="#696969" stroke="#696969" stroke-width=".9"/>
<path d="M1323.5,369.2 L1329.1,388.5 L1327.8,388.9 L1322.3,369.7Z" fill="#606060" stroke="#606060" stroke-width=".9"/>
<path d="M1322.3,369.7 L1327.8,388.9 L1322.8,390.7 L1317.3,371.6Z" fill="#6e6e6e" stroke="#6e6e6e" stroke-width=".9"/>
<path d="M1317.3,371.6 L1322.8,390.7 L1319.6,391.8 L1314.2,372.8Z" fill="#6e6e6e" stroke="#6e6e6e" stroke-width=".9"/>
<path d="M1314.2,372.8 L1319.6,391.8 L1316.5,392.9 L1311.1,374.1Z" fill="#6e6e6e" stroke="#6e6e6e" stroke-width=".9"/>
<path d="M1311.1,374.1 L1316.5,392.9 L1313.4,394.0 L1308.1,375.3Z" fill="#6e6e6e" stroke="#6e6e6e" stroke-width=".9"/>
<path d="M1308.1,375.3 L1313.4,394.0 L1312.6,394.3 L1307.0,375.7Z" fill="#6e6e6e" stroke="#6e6e6e" stroke-width=".9"/>
<path d="M1307.0,375.7 L1312.6,394.3 L1312.0,394.6 L1306.2,376.0Z" fill="#6e6e6e" stroke="#6e6e6e" stroke-width=".9"/>
<path d="M1306.2,376.0 L1312.0,394.6 L1311.3,394.8 L1305.5,376.3Z" fill="#6c6c6c" stroke="#6c6c6c" stroke-width=".9"/>
<path d="M1305.5,376.3 L1311.3,394.8 L1310.7,395.0 L1304.7,376.6Z" fill="#7a7a7a" stroke="#7a7a7a" stroke-width=".9"/>
<path d="M1304.7,376.6 L1310.7,395.0 L1277.0,407.8 L1272.3,390.2Z" fill="#898989" stroke="#898989" stroke-width=".9"/>
<path d="M1272.3,390.2 L1277.0,407.8 L1267.3,411.7 L1262.9,394.3Z" fill="#6c6c6c" stroke="#6c6c6c" stroke-width=".9"/>
<path d="M1329.1,388.5 L1333.8,407.9 L1332.5,408.3 L1327.8,388.9Z" fill="#606060" stroke="#606060" stroke-width=".9"/>
<path d="M1327.8,388.9 L1332.5,408.3 L1327.3,409.9 L1322.8,390.7Z" fill="#6e6e6e" stroke="#6e6e6e" stroke-width=".9"/>
<path d="M1322.8,390.7 L1327.3,409.9 L1324.1,410.9 L1319.6,391.8Z" fill="#6e6e6e" stroke="#6e6e6e" stroke-width=".9"/>
<path d="M1319.6,391.8 L1324.1,410.9 L1321.0,411.9 L1316.5,392.9Z" fill="#6e6e6e" stroke="#6e6e6e" stroke-width=".9"/>
<path d="M1316.5,392.9 L1321.0,411.9 L1317.8,412.9 L1313.4,394.0Z" fill="#6e6e6e" stroke="#6e6e6e" stroke-width=".9"/>
<path d="M1313.4,394.0 L1317.8,412.9 L1317.2,413.1 L1312.6,394.3Z" fill="#6e6e6e" stroke="#6e6e6e" stroke-width=".9"/>
<path d="M1312.6,394.3 L1317.2,413.1 L1316.6,413.3 L1312.0,394.6Z" fill="#6e6e6e" stroke="#6e6e6e" stroke-width=".9"/>
<path d="M1312.0,394.6 L1316.6,413.3 L1316.0,413.5 L1311.3,394.8Z" fill="#6e6e6e" stroke="#6e6e6e" stroke-width=".9"/>
<path d="M1311.3,394.8 L1316.0,413.5 L1315.4,413.7 L1310.7,395.0Z" fill="#7c7c7c" stroke="#7c7c7c" stroke-width=".9"/>
<path d="M1310.7,395.0 L1315.4,413.7 L1280.7,425.6 L1277.0,407.8Z" fill="#8d8d8d" stroke="#8d8d8d" stroke-width=".9"/>
<path d="M1277.0,407.8 L1280.7,425.6 L1270.9,429.2 L1267.3,411.7Z" fill="#6e6e6e" stroke="#6e6e6e" stroke-width=".9"/>
<path d="M1333.8,407.9 L1337.6,427.4 L1336.3,427.8 L1332.5,408.3Z" fill="#606060" stroke="#606060" stroke-width=".9"/>
<path d="M1332.5,408.3 L1336.3,427.8 L1331.1,429.2 L1327.3,409.9Z" fill="#6e6e6e" stroke="#6e6e6e" stroke-width=".9"/>
<path d="M1327.3,409.9 L1331.1,429.2 L1327.8,430.1 L1324.1,410.9Z" fill="#6e6e6e" stroke="#6e6e6e" stroke-width=".9"/>
<path d="M1324.1,410.9 L1327.8,430.1 L1324.6,431.0 L1321.0,411.9Z" fill="#6e6e6e" stroke="#6e6e6e" stroke-width=".9"/>
<path d="M1321.0,411.9 L1324.6,431.0 L1321.5,431.9 L1317.8,412.9Z" fill="#6e6e6e" stroke="#6e6e6e" stroke-width=".9"/>
<path d="M1317.8,412.9 L1321.5,431.9 L1321.0,432.0 L1317.2,413.1Z" fill="#6e6e6e" stroke="#6e6e6e" stroke-width=".9"/>
<path d="M1317.2,413.1 L1321.0,432.0 L1320.4,432.2 L1316.6,413.3Z" fill="#6e6e6e" stroke="#6e6e6e" stroke-width=".9"/>
<path d="M1316.6,413.3 L1320.4,432.2 L1319.8,432.4 L1316.0,413.5Z" fill="#707070" stroke="#707070" stroke-width=".9"/>
<path d="M1316.0,413.5 L1319.8,432.4 L1319.1,432.6 L1315.4,413.7Z" fill="#7e7e7e" stroke="#7e7e7e" stroke-width=".9"/>
<path d="M1315.4,413.7 L1319.1,432.6 L1283.7,443.4 L1280.7,425.6Z" fill="#8f8f8f" stroke="#8f8f8f" stroke-width=".9"/>
<path d="M1280.7,425.6 L1283.7,443.4 L1273.8,446.7 L1270.9,429.2Z" fill="#717171" stroke="#717171" stroke-width=".9"/>
<path d="M1337.6,427.4 L1340.5,446.9 L1339.2,447.2 L1336.3,427.8Z" fill="#616161" stroke="#616161" stroke-width=".9"/>
<path d="M1336.3,427.8 L1339.2,447.2 L1334.0,448.5 L1331.1,429.2Z" fill="#6d6d6d" stroke="#6d6d6d" stroke-width=".9"/>
<path d="M1331.1,429.2 L1334.0,448.5 L1330.7,449.3 L1327.8,430.1Z" fill="#6d6d6d" stroke="#6d6d6d" stroke-width=".9"/>
<path d="M1327.8,430.1 L1330.7,449.3 L1327.4,450.1 L1324.6,431.0Z" fill="#6d6d6d" stroke="#6d6d6d" stroke-width=".9"/>
<path d="M1324.6,431.0 L1327.4,450.1 L1324.4,450.8 L1321.5,431.9Z" fill="#6d6d6d" stroke="#6d6d6d" stroke-width=".9"/>
<path d="M1321.5,431.9 L1324.4,450.8 L1323.9,450.9 L1321.0,432.0Z" fill="#6d6d6d" stroke="#6d6d6d" stroke-width=".9"/>
<path d="M1321.0,432.0 L1323.9,450.9 L1323.4,451.1 L1320.4,432.2Z" fill="#6d6d6d" stroke="#6d6d6d" stroke-width=".9"/>
<path d="M1320.4,432.2 L1323.4,451.1 L1322.7,451.2 L1319.8,432.4Z" fill="#727272" stroke="#727272" stroke-width=".9"/>
<path d="M1319.8,432.4 L1322.7,451.2 L1322.1,451.4 L1319.1,432.6Z" fill="#808080" stroke="#808080" stroke-width=".9"/>
<path d="M1319.1,432.6 L1322.1,451.4 L1285.9,461.2 L1283.7,443.4Z" fill="#929292" stroke="#929292" stroke-width=".9"/>
<path d="M1283.7,443.4 L1285.9,461.2 L1276.1,464.1 L1273.8,446.7Z" fill="#737373" stroke="#737373" stroke-width=".9"/>
<path d="M1340.5,446.9 L1342.8,466.3 L1341.4,466.6 L1339.2,447.2Z" fill="#616161" stroke="#616161" stroke-width=".9"/>
<path d="M1339.2,447.2 L1341.4,466.6 L1336.1,467.7 L1334.0,448.5Z" fill="#6d6d6d" stroke="#6d6d6d" stroke-width=".9"/>
<path d="M1334.0,448.5 L1336.1,467.7 L1332.8,468.4 L1330.7,449.3Z" fill="#6d6d6d" stroke="#6d6d6d" stroke-width=".9"/>
<path d="M1330.7,449.3 L1332.8,468.4 L1329.5,469.1 L1327.4,450.1Z" fill="#6d6d6d" stroke="#6d6d6d" stroke-width=".9"/>
<path d="M1327.4,450.1 L1329.5,469.1 L1326.6,469.7 L1324.4,450.8Z" fill="#6d6d6d" stroke="#6d6d6d" stroke-width=".9"/>
<path d="M1324.4,450.8 L1326.6,469.7 L1326.1,469.8 L1323.9,450.9Z" fill="#6d6d6d" stroke="#6d6d6d" stroke-width=".9"/>
<path d="M1323.9,450.9 L1326.1,469.8 L1325.7,469.9 L1323.4,451.1Z" fill="#6d6d6d" stroke="#6d6d6d" stroke-width=".9"/>
<path d="M1323.4,451.1 L1325.7,469.9 L1325.0,470.0 L1322.7,451.2Z" fill="#747474" stroke="#747474" stroke-width=".9"/>
<path d="M1322.7,451.2 L1325.0,470.0 L1324.3,470.2 L1322.1,451.4Z" fill="#828282" stroke="#828282" stroke-width=".9"/>
<path d="M1322.1,451.4 L1324.3,470.2 L1287.5,478.9 L1285.9,461.2Z" fill="#949494" stroke="#949494" stroke-width=".9"/>
<path d="M1285.9,461.2 L1287.5,478.9 L1277.6,481.5 L1276.1,464.1Z" fill="#767676" stroke="#767676" stroke-width=".9"/>
<path d="M1342.8,466.3 L1344.3,485.7 L1342.9,485.9 L1341.4,466.6Z" fill="#616161" stroke="#616161" stroke-width=".9"/>
<path d="M1341.4,466.6 L1342.9,485.9 L1337.6,486.8 L1336.1,467.7Z" fill="#6d6d6d" stroke="#6d6d6d" stroke-width=".9"/>
<path d="M1336.1,467.7 L1337.6,486.8 L1334.3,487.4 L1332.8,468.4Z" fill="#6d6d6d" stroke="#6d6d6d" stroke-width=".9"/>
<path d="M1332.8,468.4 L1334.3,487.4 L1331.0,487.9 L1329.5,469.1Z" fill="#6d6d6d" stroke="#6d6d6d" stroke-width=".9"/>
<path d="M1329.5,469.1 L1331.0,487.9 L1328.1,488.5 L1326.6,469.7Z" fill="#6d6d6d" stroke="#6d6d6d" stroke-width=".9"/>
<path d="M1326.6,469.7 L1328.1,488.5 L1327.7,488.5 L1326.1,469.8Z" fill="#6d6d6d" stroke="#6d6d6d" stroke-width=".9"/>
<path d="M1326.1,469.8 L1327.7,488.5 L1327.2,488.6 L1325.7,469.9Z" fill="#6d6d6d" stroke="#6d6d6d" stroke-width=".9"/>
<path d="M1325.7,469.9 L1327.2,488.6 L1326.6,488.7 L1325.0,470.0Z" fill="#757575" stroke="#757575" stroke-width=".9"/>
<path d="M1325.0,470.0 L1326.6,488.7 L1325.9,488.9 L1324.3,470.2Z" fill="#838383" stroke="#838383" stroke-width=".9"/>
<path d="M1324.3,470.2 L1325.9,488.9 L1288.5,496.5 L1287.5,478.9Z" fill="#979797" stroke="#979797" stroke-width=".9"/>
<path d="M1287.5,478.9 L1288.5,496.5 L1278.6,498.7 L1277.6,481.5Z" fill="#787878" stroke="#787878" stroke-width=".9"/>
<path d="M1344.3,485.7 L1345.1,504.8 L1343.8,505.0 L1342.9,485.9Z" fill="#626262" stroke="#626262" stroke-width=".9"/>
<path d="M1342.9,485.9 L1343.8,505.0 L1338.4,505.7 L1337.6,486.8Z" fill="#6c6c6c" stroke="#6c6c6c" stroke-width=".9"/>
<path d="M1337.6,486.8 L1338.4,505.7 L1335.1,506.2 L1334.3,487.4Z" fill="#6c6c6c" stroke="#6c6c6c" stroke-width=".9"/>
<path d="M1334.3,487.4 L1335.1,506.2 L1331.7,506.7 L1331.0,487.9Z" fill="#6c6c6c" stroke="#6c6c6c" stroke-width=".9"/>
<path d="M1331.0,487.9 L1331.7,506.7 L1328.9,507.1 L1328.1,488.5Z" fill="#6c6c6c" stroke="#6c6c6c" stroke-width=".9"/>
<path d="M1328.1,488.5 L1328.9,507.1 L1328.6,507.1 L1327.7,488.5Z" fill="#6c6c6c" stroke="#6c6c6c" stroke-width=".9"/>
<path d="M1327.7,488.5 L1328.6,507.1 L1328.2,507.2 L1327.2,488.6Z" fill="#6c6c6c" stroke="#6c6c6c" stroke-width=".9"/>
<path d="M1327.2,488.6 L1328.2,507.2 L1327.5,507.3 L1326.6,488.7Z" fill="#777777" stroke="#777777" stroke-width=".9"/>
<path d="M1326.6,488.7 L1327.5,507.3 L1326.8,507.4 L1325.9,488.9Z" fill="#858585" stroke="#858585" stroke-width=".9"/>
<path d="M1325.9,488.9 L1326.8,507.4 L1288.9,513.8 L1288.5,496.5Z" fill="#9a9a9a" stroke="#9a9a9a" stroke-width=".9"/>
<path d="M1288.5,496.5 L1288.9,513.8 L1279.0,515.8 L1278.6,498.7Z" fill="#7a7a7a" stroke="#7a7a7a" stroke-width=".9"/>
<path d="M1345.1,504.8 L1345.3,523.8 L1344.0,523.9 L1343.8,505.0Z" fill="#626262" stroke="#626262" stroke-width=".9"/>
<path d="M1343.8,505.0 L1344.0,523.9 L1338.6,524.5 L1338.4,505.7Z" fill="#6c6c6c" stroke="#6c6c6c" stroke-width=".9"/>
<path d="M1338.4,505.7 L1338.6,524.5 L1335.2,524.8 L1335.1,506.2Z" fill="#6c6c6c" stroke="#6c6c6c" stroke-width=".9"/>
<path d="M1335.1,506.2 L1335.2,524.8 L1331.9,525.2 L1331.7,506.7Z" fill="#6c6c6c" stroke="#6c6c6c" stroke-width=".9"/>
<path d="M1331.7,506.7 L1331.9,525.2 L1329.2,525.5 L1328.9,507.1Z" fill="#6c6c6c" stroke="#6c6c6c" stroke-width=".9"/>
<path d="M1328.9,507.1 L1329.2,525.5 L1328.9,525.5 L1328.6,507.1Z" fill="#6c6c6c" stroke="#6c6c6c" stroke-width=".9"/>
<path d="M1328.6,507.1 L1328.9,525.5 L1328.5,525.6 L1328.2,507.2Z" fill="#6c6c6c" stroke="#6c6c6c" stroke-width=".9"/>
<path d="M1328.2,507.2 L1328.5,525.6 L1327.9,525.6 L1327.5,507.3Z" fill="#797979" stroke="#797979" stroke-width=".9"/>
<path d="M1327.5,507.3 L1327.9,525.6 L1327.2,525.7 L1326.8,507.4Z" fill="#878787" stroke="#878787" stroke-width=".9"/>
<path d="M1326.8,507.4 L1327.2,525.7 L1288.7,531.0 L1288.9,513.8Z" fill="#9c9c9c" stroke="#9c9c9c" stroke-width=".9"/>
<path d="M1288.9,513.8 L1288.7,531.0 L1278.9,532.6 L1279.0,515.8Z" fill="#7d7d7d" stroke="#7d7d7d" stroke-width=".9"/>
<path d="M1345.3,523.8 L1344.9,542.5 L1343.6,542.6 L1344.0,523.9Z" fill="#626262" stroke="#626262" stroke-width=".9"/>
<path d="M1344.0,523.9 L1343.6,542.6 L1338.3,543.0 L1338.6,524.5Z" fill="#6c6c6c" stroke="#6c6c6c" stroke-width=".9"/>
<path d="M1338.6,524.5 L1338.3,543.0 L1335.0,543.2 L1335.2,524.8Z" fill="#6c6c6c" stroke="#6c6c6c" stroke-width=".9"/>
<path d="M1335.2,524.8 L1335.0,543.2 L1331.7,543.4 L1331.9,525.2Z" fill="#6c6c6c" stroke="#6c6c6c" stroke-width=".9"/>
<path d="M1331.9,525.2 L1331.7,543.4 L1329.0,543.7 L1329.2,525.5Z" fill="#6c6c6c" stroke="#6c6c6c" stroke-width=".9"/>
<path d="M1329.2,525.5 L1329.0,543.7 L1328.7,543.7 L1328.9,525.5Z" fill="#6c6c6c" stroke="#6c6c6c" stroke-width=".9"/>
<path d="M1328.9,525.5 L1328.7,543.7 L1328.4,543.7 L1328.5,525.6Z" fill="#6c6c6c" stroke="#6c6c6c" stroke-width=".9"/>
<path d="M1328.5,525.6 L1328.4,543.7 L1327.7,543.8 L1327.9,525.6Z" fill="#7a7a7a" stroke="#7a7a7a" stroke-width=".9"/>
<path d="M1327.9,525.6 L1327.7,543.8 L1327.0,543.8 L1327.2,525.7Z" fill="#898989" stroke="#898989" stroke-width=".9"/>
<path d="M1327.2,525.7 L1327.0,543.8 L1288.3,547.8 L1288.7,531.0Z" fill="#9e9e9e" stroke="#9e9e9e" stroke-width=".9"/>
<path d="M1288.7,531.0 L1288.3,547.8 L1278.3,549.1 L1278.9,532.6Z" fill="#7e7e7e" stroke="#7e7e7e" stroke-width=".9"/>
<path d="M1344.9,542.5 L1344.0,561.0 L1342.7,561.0 L1343.6,542.6Z" fill="#626262" stroke="#626262" stroke-width=".9"/>
<path d="M1343.6,542.6 L1342.7,561.0 L1337.5,561.2 L1338.3,543.0Z" fill="#6d6d6d" stroke="#6d6d6d" stroke-width=".9"/>
<path d="M1338.3,543.0 L1337.5,561.2 L1334.3,561.3 L1335.0,543.2Z" fill="#6d6d6d" stroke="#6d6d6d" stroke-width=".9"/>
<path d="M1335.0,543.2 L1334.3,561.3 L1331.1,561.5 L1331.7,543.4Z" fill="#6d6d6d" stroke="#6d6d6d" stroke-width=".9"/>
<path d="M1331.7,543.4 L1331.1,561.5 L1328.4,561.6 L1329.0,543.7Z" fill="#6d6d6d" stroke="#6d6d6d" stroke-width=".9"/>
<path d="M1329.0,543.7 L1328.4,561.6 L1328.0,561.6 L1328.7,543.7Z" fill="#6d6d6d" stroke="#6d6d6d" stroke-width=".9"/>
<path d="M1328.7,543.7 L1328.0,561.6 L1327.7,561.6 L1328.4,543.7Z" fill="#6d6d6d" stroke="#6d6d6d" stroke-width=".9"/>
<path d="M1328.4,543.7 L1327.7,561.6 L1327.0,561.6 L1327.7,543.8Z" fill="#7b7b7b" stroke="#7b7b7b" stroke-width=".9"/>
<path d="M1327.7,543.8 L1327.0,561.6 L1326.4,561.7 L1327.0,543.8Z" fill="#8a8a8a" stroke="#8a8a8a" stroke-width=".9"/>
<path d="M1327.0,543.8 L1326.4,561.7 L1287.4,564.4 L1288.3,547.8Z" fill="#9f9f9f" stroke="#9f9f9f" stroke-width=".9"/>
<path d="M1288.3,547.8 L1287.4,564.4 L1277.3,565.4 L1278.3,549.1Z" fill="#808080" stroke="#808080" stroke-width=".9"/>
<path d="M1344.0,561.0 L1342.6,579.2 L1341.3,579.2 L1342.7,561.0Z" fill="#626262" stroke="#626262" stroke-width=".9"/>
<path d="M1342.7,561.0 L1341.3,579.2 L1336.3,579.2 L1337.5,561.2Z" fill="#6d6d6d" stroke="#6d6d6d" stroke-width=".9"/>
<path d="M1337.5,561.2 L1336.3,579.2 L1333.1,579.2 L1334.3,561.3Z" fill="#6d6d6d" stroke="#6d6d6d" stroke-width=".9"/>
<path d="M1334.3,561.3 L1333.1,579.2 L1329.9,579.2 L1331.1,561.5Z" fill="#6d6d6d" stroke="#6d6d6d" stroke-width=".9"/>
<path d="M1331.1,561.5 L1329.9,579.2 L1327.3,579.2 L1328.4,561.6Z" fill="#6d6d6d" stroke="#6d6d6d" stroke-width=".9"/>
<path d="M1328.4,561.6 L1327.3,579.2 L1326.9,579.2 L1328.0,561.6Z" fill="#6d6d6d" stroke="#6d6d6d" stroke-width=".9"/>
<path d="M1328.0,561.6 L1326.9,579.2 L1326.6,579.2 L1327.7,561.6Z" fill="#6d6d6d" stroke="#6d6d6d" stroke-width=".9"/>
<path d="M1327.7,561.6 L1326.6,579.2 L1325.9,579.2 L1327.0,561.6Z" fill="#7b7b7b" stroke="#7b7b7b" stroke-width=".9"/>
<path d="M1327.0,561.6 L1325.9,579.2 L1325.3,579.3 L1326.4,561.7Z" fill="#8c8c8c" stroke="#8c8c8c" stroke-width=".9"/>
<path d="M1326.4,561.7 L1325.3,579.3 L1286.1,580.7 L1287.4,564.4Z" fill="#a0a0a0" stroke="#a0a0a0" stroke-width=".9"/>
<path d="M1287.4,564.4 L1286.1,580.7 L1276.0,581.4 L1277.3,565.4Z" fill="#818181" stroke="#818181" stroke-width=".9"/>
<path d="M1342.6,579.2 L1340.8,597.1 L1339.4,597.0 L1341.3,579.2Z" fill="#636363" stroke="#636363" stroke-width=".9"/>
<path d="M1341.3,579.2 L1339.4,597.0 L1334.6,596.8 L1336.3,579.2Z" fill="#6d6d6d" stroke="#6d6d6d" stroke-width=".9"/>
<path d="M1336.3,579.2 L1334.6,596.8 L1331.5,596.7 L1333.1,579.2Z" fill="#6d6d6d" stroke="#6d6d6d" stroke-width=".9"/>
<path d="M1333.1,579.2 L1331.5,596.7 L1328.4,596.7 L1329.9,579.2Z" fill="#6d6d6d" stroke="#6d6d6d" stroke-width=".9"/>
<path d="M1329.9,579.2 L1328.4,596.7 L1325.7,596.6 L1327.3,579.2Z" fill="#6d6d6d" stroke="#6d6d6d" stroke-width=".9"/>
<path d="M1327.3,579.2 L1325.7,596.6 L1325.4,596.6 L1326.9,579.2Z" fill="#6d6d6d" stroke="#6d6d6d" stroke-width=".9"/>
<path d="M1326.9,579.2 L1325.4,596.6 L1325.0,596.6 L1326.6,579.2Z" fill="#6d6d6d" stroke="#6d6d6d" stroke-width=".9"/>
<path d="M1326.6,579.2 L1325.0,596.6 L1324.4,596.6 L1325.9,579.2Z" fill="#7c7c7c" stroke="#7c7c7c" stroke-width=".9"/>
<path d="M1325.9,579.2 L1324.4,596.6 L1323.7,596.6 L1325.3,579.3Z" fill="#8e8e8e" stroke="#8e8e8e" stroke-width=".9"/>
<path d="M1325.3,579.3 L1323.7,596.6 L1284.4,596.8 L1286.1,580.7Z" fill="#a1a1a1" stroke="#a1a1a1" stroke-width=".9"/>
<path d="M1286.1,580.7 L1284.4,596.8 L1274.2,597.1 L1276.0,581.4Z" fill="#828282" stroke="#828282" stroke-width=".9"/>
<path d="M1340.8,597.1 L1338.5,614.6 L1337.2,614.5 L1339.4,597.0Z" fill="#636363" stroke="#636363" stroke-width=".9"/>
<path d="M1339.4,597.0 L1337.2,614.5 L1332.5,614.2 L1334.6,596.8Z" fill="#6e6e6e" stroke="#6e6e6e" stroke-width=".9"/>
<path d="M1334.6,596.8 L1332.5,614.2 L1329.4,614.0 L1331.5,596.7Z" fill="#6e6e6e" stroke="#6e6e6e" stroke-width=".9"/>
<path d="M1331.5,596.7 L1329.4,614.0 L1326.4,613.8 L1328.4,596.7Z" fill="#6e6e6e" stroke="#6e6e6e" stroke-width=".9"/>
<path d="M1328.4,596.7 L1326.4,613.8 L1323.8,613.7 L1325.7,596.6Z" fill="#6e6e6e" stroke="#6e6e6e" stroke-width=".9"/>
<path d="M1325.7,596.6 L1323.8,613.7 L1323.4,613.7 L1325.4,596.6Z" fill="#6e6e6e" stroke="#6e6e6e" stroke-width=".9"/>
<path d="M1325.4,596.6 L1323.4,613.7 L1323.1,613.6 L1325.0,596.6Z" fill="#6e6e6e" stroke="#6e6e6e" stroke-width=".9"/>
<path d="M1325.0,596.6 L1323.1,613.6 L1322.4,613.6 L1324.4,596.6Z" fill="#7c7c7c" stroke="#7c7c7c" stroke-width=".9"/>
<path d="M1324.4,596.6 L1322.4,613.6 L1321.8,613.6 L1323.7,596.6Z" fill="#8f8f8f" stroke="#8f8f8f" stroke-width=".9"/>
<path d="M1323.7,596.6 L1321.8,613.6 L1282.4,612.5 L1284.4,596.8Z" fill="#a2a2a2" stroke="#a2a2a2" stroke-width=".9"/>
<path d="M1284.4,596.8 L1282.4,612.5 L1272.2,612.5 L1274.2,597.1Z" fill="#838383" stroke="#838383" stroke-width=".9"/>
<path d="M1338.5,614.6 L1335.9,631.9 L1334.6,631.7 L1337.2,614.5Z" fill="#636363" stroke="#636363" stroke-width=".9"/>
<path d="M1337.2,614.5 L1334.6,631.7 L1330.0,631.3 L1332.5,614.2Z" fill="#6e6e6e" stroke="#6e6e6e" stroke-width=".9"/>
<path d="M1332.5,614.2 L1330.0,631.3 L1327.0,631.0 L1329.4,614.0Z" fill="#6e6e6e" stroke="#6e6e6e" stroke-width=".9"/>
<path d="M1329.4,614.0 L1327.0,631.0 L1324.1,630.7 L1326.4,613.8Z" fill="#6e6e6e" stroke="#6e6e6e" stroke-width=".9"/>
<path d="M1326.4,613.8 L1324.1,630.7 L1321.5,630.4 L1323.8,613.7Z" fill="#6e6e6e" stroke="#6e6e6e" stroke-width=".9"/>
<path d="M1323.8,613.7 L1321.5,630.4 L1321.1,630.4 L1323.4,613.7Z" fill="#6e6e6e" stroke="#6e6e6e" stroke-width=".9"/>
<path d="M1323.4,613.7 L1321.1,630.4 L1320.8,630.4 L1323.1,613.6Z" fill="#6e6e6e" stroke="#6e6e6e" stroke-width=".9"/>
<path d="M1323.1,613.6 L1320.8,630.4 L1320.1,630.3 L1322.4,613.6Z" fill="#7d7d7d" stroke="#7d7d7d" stroke-width=".9"/>
<path d="M1322.4,613.6 L1320.1,630.3 L1319.5,630.3 L1321.8,613.6Z" fill="#919191" stroke="#919191" stroke-width=".9"/>
<path d="M1321.8,613.6 L1319.5,630.3 L1280.2,627.9 L1282.4,612.5Z" fill="#a3a3a3" stroke="#a3a3a3" stroke-width=".9"/>
<path d="M1282.4,612.5 L1280.2,627.9 L1269.9,627.6 L1272.2,612.5Z" fill="#848484" stroke="#848484" stroke-width=".9"/>
<path d="M1335.9,631.9 L1332.9,648.8 L1331.6,648.6 L1334.6,631.7Z" fill="#636363" stroke="#636363" stroke-width=".9"/>
<path d="M1334.6,631.7 L1331.6,648.6 L1327.2,648.0 L1330.0,631.3Z" fill="#6e6e6e" stroke="#6e6e6e" stroke-width=".9"/>
<path d="M1330.0,631.3 L1327.2,648.0 L1324.3,647.6 L1327.0,631.0Z" fill="#6e6e6e" stroke="#6e6e6e" stroke-width=".9"/>
<path d="M1327.0,631.0 L1324.3,647.6 L1321.4,647.2 L1324.1,630.7Z" fill="#6e6e6e" stroke="#6e6e6e" stroke-width=".9"/>
<path d="M1324.1,630.7 L1321.4,647.2 L1318.8,646.9 L1321.5,630.4Z" fill="#6e6e6e" stroke="#6e6e6e" stroke-width=".9"/>
<path d="M1321.5,630.4 L1318.8,646.9 L1318.5,646.9 L1321.1,630.4Z" fill="#6e6e6e" stroke="#6e6e6e" stroke-width=".9"/>
<path d="M1321.1,630.4 L1318.5,646.9 L1318.2,646.8 L1320.8,630.4Z" fill="#6e6e6e" stroke="#6e6e6e" stroke-width=".9"/>
<path d="M1320.8,630.4 L1318.2,646.8 L1317.5,646.8 L1320.1,630.3Z" fill="#7d7d7d" stroke="#7d7d7d" stroke-width=".9"/>
<path d="M1320.1,630.3 L1317.5,646.8 L1316.9,646.7 L1319.5,630.3Z" fill="#929292" stroke="#929292" stroke-width=".9"/>
<path d="M1319.5,630.3 L1316.9,646.7 L1277.6,643.0 L1280.2,627.9Z" fill="#a4a4a4" stroke="#a4a4a4" stroke-width=".9"/>
<path d="M1280.2,627.9 L1277.6,643.0 L1267.4,642.4 L1269.9,627.6Z" fill="#858585" stroke="#858585" stroke-width=".9"/>
<path d="M1332.9,648.8 L1329.6,665.4 L1328.3,665.1 L1331.6,648.6Z" fill="#636363" stroke="#636363" stroke-width=".9"/>
<path d="M1331.6,648.6 L1328.3,665.1 L1324.0,664.4 L1327.2,648.0Z" fill="#6f6f6f" stroke="#6f6f6f" stroke-width=".9"/>
<path d="M1327.2,648.0 L1324.0,664.4 L1321.3,663.9 L1324.3,647.6Z" fill="#6f6f6f" stroke="#6f6f6f" stroke-width=".9"/>
<path d="M1324.3,647.6 L1321.3,663.9 L1318.5,663.5 L1321.4,647.2Z" fill="#6f6f6f" stroke="#6f6f6f" stroke-width=".9"/>
<path d="M1321.4,647.2 L1318.5,663.5 L1315.9,663.1 L1318.8,646.9Z" fill="#6f6f6f" stroke="#6f6f6f" stroke-width=".9"/>
<path d="M1318.8,646.9 L1315.9,663.1 L1315.6,663.0 L1318.5,646.9Z" fill="#6f6f6f" stroke="#6f6f6f" stroke-width=".9"/>
<path d="M1318.5,646.9 L1315.6,663.0 L1315.2,663.0 L1318.2,646.8Z" fill="#6f6f6f" stroke="#6f6f6f" stroke-width=".9"/>
<path d="M1318.2,646.8 L1315.2,663.0 L1314.6,662.9 L1317.5,646.8Z" fill="#7e7e7e" stroke="#7e7e7e" stroke-width=".9"/>
<path d="M1317.5,646.8 L1314.6,662.9 L1313.9,662.8 L1316.9,646.7Z" fill="#949494" stroke="#949494" stroke-width=".9"/>
<path d="M1316.9,646.7 L1313.9,662.8 L1274.8,657.8 L1277.6,643.0Z" fill="#a5a5a5" stroke="#a5a5a5" stroke-width=".9"/>
<path d="M1277.6,643.0 L1274.8,657.8 L1264.6,656.8 L1267.4,642.4Z" fill="#868686" stroke="#868686" stroke-width=".9"/>
<path d="M1329.6,665.4 L1326.0,681.6 L1324.7,681.3 L1328.3,665.1Z" fill="#646464" stroke="#646464" stroke-width=".9"/>
<path d="M1328.3,665.1 L1324.7,681.3 L1320.6,680.5 L1324.0,664.4Z" fill="#6f6f6f" stroke="#6f6f6f" stroke-width=".9"/>
<path d="M1324.0,664.4 L1320.6,680.5 L1317.9,679.9 L1321.3,663.9Z" fill="#6f6f6f" stroke="#6f6f6f" stroke-width=".9"/>
<path d="M1321.3,663.9 L1317.9,679.9 L1315.2,679.4 L1318.5,663.5Z" fill="#6f6f6f" stroke="#6f6f6f" stroke-width=".9"/>
<path d="M1318.5,663.5 L1315.2,679.4 L1312.7,678.9 L1315.9,663.1Z" fill="#6f6f6f" stroke="#6f6f6f" stroke-width=".9"/>
<path d="M1315.9,663.1 L1312.7,678.9 L1312.4,678.8 L1315.6,663.0Z" fill="#6f6f6f" stroke="#6f6f6f" stroke-width=".9"/>
<path d="M1315.6,663.0 L1312.4,678.8 L1312.0,678.8 L1315.2,663.0Z" fill="#6f6f6f" stroke="#6f6f6f" stroke-width=".9"/>
<path d="M1315.2,663.0 L1312.0,678.8 L1311.4,678.7 L1314.6,662.9Z" fill="#7f7f7f" stroke="#7f7f7f" stroke-width=".9"/>
<path d="M1314.6,662.9 L1311.4,678.7 L1310.8,678.5 L1313.9,662.8Z" fill="#969696" stroke="#969696" stroke-width=".9"/>
<path d="M1313.9,662.8 L1310.8,678.5 L1271.8,672.3 L1274.8,657.8Z" fill="#a6a6a6" stroke="#a6a6a6" stroke-width=".9"/>
<path d="M1274.8,657.8 L1271.8,672.3 L1261.6,671.0 L1264.6,656.8Z" fill="#878787" stroke="#878787" stroke-width=".9"/>
<path d="M1326.0,681.6 L1322.1,697.5 L1320.9,697.2 L1324.7,681.3Z" fill="#646464" stroke="#646464" stroke-width=".9"/>
<path d="M1324.7,681.3 L1320.9,697.2 L1316.9,696.3 L1320.6,680.5Z" fill="#6f6f6f" stroke="#6f6f6f" stroke-width=".9"/>
<path d="M1320.6,680.5 L1316.9,696.3 L1314.3,695.6 L1317.9,679.9Z" fill="#6f6f6f" stroke="#6f6f6f" stroke-width=".9"/>
<path d="M1317.9,679.9 L1314.3,695.6 L1311.7,695.0 L1315.2,679.4Z" fill="#6f6f6f" stroke="#6f6f6f" stroke-width=".9"/>
<path d="M1315.2,679.4 L1311.7,695.0 L1309.2,694.4 L1312.7,678.9Z" fill="#6f6f6f" stroke="#6f6f6f" stroke-width=".9"/>
<path d="M1312.7,678.9 L1309.2,694.4 L1308.9,694.4 L1312.4,678.8Z" fill="#6f6f6f" stroke="#6f6f6f" stroke-width=".9"/>
<path d="M1312.4,678.8 L1308.9,694.4 L1308.6,694.3 L1312.0,678.8Z" fill="#6f6f6f" stroke="#6f6f6f" stroke-width=".9"/>
<path d="M1312.0,678.8 L1308.6,694.3 L1307.9,694.1 L1311.4,678.7Z" fill="#7f7f7f" stroke="#7f7f7f" stroke-width=".9"/>
<path d="M1311.4,678.7 L1307.9,694.1 L1307.3,694.0 L1310.8,678.5Z" fill="#979797" stroke="#979797" stroke-width=".9"/>
<path d="M1310.8,678.5 L1307.3,694.0 L1268.6,686.4 L1271.8,672.3Z" fill="#a6a6a6" stroke="#a6a6a6" stroke-width=".9"/>
<path d="M1271.8,672.3 L1268.6,686.4 L1258.4,684.8 L1261.6,671.0Z" fill="#888888" stroke="#888888" stroke-width=".9"/>
<path d="M1322.1,697.5 L1318.0,713.1 L1316.8,712.8 L1320.9,697.2Z" fill="#646464" stroke="#646464" stroke-width=".9"/>
<path d="M1320.9,697.2 L1316.8,712.8 L1313.0,711.7 L1316.9,696.3Z" fill="#707070" stroke="#707070" stroke-width=".9"/>
<path d="M1316.9,696.3 L1313.0,711.7 L1310.5,711.0 L1314.3,695.6Z" fill="#707070" stroke="#707070" stroke-width=".9"/>
<path d="M1314.3,695.6 L1310.5,711.0 L1308.0,710.3 L1311.7,695.0Z" fill="#707070" stroke="#707070" stroke-width=".9"/>
<path d="M1311.7,695.0 L1308.0,710.3 L1305.5,709.7 L1309.2,694.4Z" fill="#707070" stroke="#707070" stroke-width=".9"/>
<path d="M1309.2,694.4 L1305.5,709.7 L1305.2,709.6 L1308.9,694.4Z" fill="#707070" stroke="#707070" stroke-width=".9"/>
<path d="M1308.9,694.4 L1305.2,709.6 L1304.9,709.5 L1308.6,694.3Z" fill="#707070" stroke="#707070" stroke-width=".9"/>
<path d="M1308.6,694.3 L1304.9,709.5 L1304.3,709.3 L1307.9,694.1Z" fill="#808080" stroke="#808080" stroke-width=".9"/>
<path d="M1307.9,694.1 L1304.3,709.3 L1303.6,709.2 L1307.3,694.0Z" fill="#999999" stroke="#999999" stroke-width=".9"/>
<path d="M1307.3,694.0 L1303.6,709.2 L1265.2,700.3 L1268.6,686.4Z" fill="#a7a7a7" stroke="#a7a7a7" stroke-width=".9"/>
<path d="M1268.6,686.4 L1265.2,700.3 L1255.0,698.4 L1258.4,684.8Z" fill="#898989" stroke="#898989" stroke-width=".9"/>
<path d="M1318.0,713.1 L1313.7,728.4 L1312.5,728.0 L1316.8,712.8Z" fill="#646464" stroke="#646464" stroke-width=".9"/>
<path d="M1316.8,712.8 L1312.5,728.0 L1308.8,726.8 L1313.0,711.7Z" fill="#707070" stroke="#707070" stroke-width=".9"/>
<path d="M1313.0,711.7 L1308.8,726.8 L1306.3,726.0 L1310.5,711.0Z" fill="#707070" stroke="#707070" stroke-width=".9"/>
<path d="M1310.5,711.0 L1306.3,726.0 L1303.9,725.3 L1308.0,710.3Z" fill="#707070" stroke="#707070" stroke-width=".9"/>
<path d="M1308.0,710.3 L1303.9,725.3 L1301.5,724.6 L1305.5,709.7Z" fill="#707070" stroke="#707070" stroke-width=".9"/>
<path d="M1305.5,709.7 L1301.5,724.6 L1301.2,724.5 L1305.2,709.6Z" fill="#707070" stroke="#707070" stroke-width=".9"/>
<path d="M1305.2,709.6 L1301.2,724.5 L1300.9,724.4 L1304.9,709.5Z" fill="#707070" stroke="#707070" stroke-width=".9"/>
<path d="M1304.9,709.5 L1300.9,724.4 L1300.3,724.2 L1304.3,709.3Z" fill="#808080" stroke="#808080" stroke-width=".9"/>
<path d="M1304.3,709.3 L1300.3,724.2 L1299.6,724.0 L1303.6,709.2Z" fill="#9a9a9a" stroke="#9a9a9a" stroke-width=".9"/>
<path d="M1303.6,709.2 L1299.6,724.0 L1261.2,713.8 L1265.2,700.3Z" fill="#a8a8a8" stroke="#a8a8a8" stroke-width=".9"/>
<path d="M1265.2,700.3 L1261.2,713.8 L1251.5,711.6 L1255.0,698.4Z" fill="#8a8a8a" stroke="#8a8a8a" stroke-width=".9"/>
<path d="M1313.7,728.4 L1309.2,743.3 L1308.0,742.9 L1312.5,728.0Z" fill="#646464" stroke="#646464" stroke-width=".9"/>
<path d="M1312.5,728.0 L1308.0,742.9 L1304.4,741.6 L1308.8,726.8Z" fill="#707070" stroke="#707070" stroke-width=".9"/>
<path d="M1308.8,726.8 L1304.4,741.6 L1301.9,740.8 L1306.3,726.0Z" fill="#707070" stroke="#707070" stroke-width=".9"/>
<path d="M1306.3,726.0 L1301.9,740.8 L1299.5,739.9 L1303.9,725.3Z" fill="#707070" stroke="#707070" stroke-width=".9"/>
<path d="M1303.9,725.3 L1299.5,739.9 L1297.2,739.1 L1301.5,724.6Z" fill="#707070" stroke="#707070" stroke-width=".9"/>
<path d="M1301.5,724.6 L1297.2,739.1 L1296.9,739.0 L1301.2,724.5Z" fill="#707070" stroke="#707070" stroke-width=".9"/>
<path d="M1301.2,724.5 L1296.9,739.0 L1296.6,738.9 L1300.9,724.4Z" fill="#707070" stroke="#707070" stroke-width=".9"/>
<path d="M1300.9,724.4 L1296.6,738.9 L1296.0,738.7 L1300.3,724.2Z" fill="#808080" stroke="#808080" stroke-width=".9"/>
<path d="M1300.3,724.2 L1296.0,738.7 L1295.4,738.5 L1299.6,724.0Z" fill="#9a9a9a" stroke="#9a9a9a" stroke-width=".9"/>
<path d="M1299.6,724.0 L1295.4,738.5 L1257.0,727.0 L1261.2,713.8Z" fill="#a8a8a8" stroke="#a8a8a8" stroke-width=".9"/>
<path d="M1261.2,713.8 L1257.0,727.0 L1247.9,724.6 L1251.5,711.6Z" fill="#8b8b8b" stroke="#8b8b8b" stroke-width=".9"/>
<path d="M1309.2,743.3 L1304.5,758.0 L1303.3,757.5 L1308.0,742.9Z" fill="#656565" stroke="#656565" stroke-width=".9"/>
<path d="M1308.0,742.9 L1303.3,757.5 L1299.7,756.1 L1304.4,741.6Z" fill="#6f6f6f" stroke="#6f6f6f" stroke-width=".9"/>
<path d="M1304.4,741.6 L1299.7,756.1 L1297.4,755.2 L1301.9,740.8Z" fill="#6f6f6f" stroke="#6f6f6f" stroke-width=".9"/>
<path d="M1301.9,740.8 L1297.4,755.2 L1295.0,754.3 L1299.5,739.9Z" fill="#6f6f6f" stroke="#6f6f6f" stroke-width=".9"/>
<path d="M1299.5,739.9 L1295.0,754.3 L1292.8,753.4 L1297.2,739.1Z" fill="#6f6f6f" stroke="#6f6f6f" stroke-width=".9"/>
<path d="M1297.2,739.1 L1292.8,753.4 L1292.5,753.3 L1296.9,739.0Z" fill="#6f6f6f" stroke="#6f6f6f" stroke-width=".9"/>
<path d="M1296.9,739.0 L1292.5,753.3 L1292.2,753.2 L1296.6,738.9Z" fill="#6f6f6f" stroke="#6f6f6f" stroke-width=".9"/>
<path d="M1296.6,738.9 L1292.2,753.2 L1291.6,753.0 L1296.0,738.7Z" fill="#808080" stroke="#808080" stroke-width=".9"/>
<path d="M1296.0,738.7 L1291.6,753.0 L1291.0,752.7 L1295.4,738.5Z" fill="#9a9a9a" stroke="#9a9a9a" stroke-width=".9"/>
<path d="M1295.4,738.5 L1291.0,752.7 L1252.6,739.8 L1257.0,727.0Z" fill="#a7a7a7" stroke="#a7a7a7" stroke-width=".9"/>
<path d="M1257.0,727.0 L1252.6,739.8 L1244.1,737.3 L1247.9,724.6Z" fill="#8b8b8b" stroke="#8b8b8b" stroke-width=".9"/>
<path d="M1304.5,758.0 L1299.6,772.3 L1298.4,771.8 L1303.3,757.5Z" fill="#656565" stroke="#656565" stroke-width=".9"/>
<path d="M1303.3,757.5 L1298.4,771.8 L1294.9,770.3 L1299.7,756.1Z" fill="#6f6f6f" stroke="#6f6f6f" stroke-width=".9"/>
<path d="M1299.7,756.1 L1294.9,770.3 L1292.6,769.3 L1297.4,755.2Z" fill="#6f6f6f" stroke="#6f6f6f" stroke-width=".9"/>
<path d="M1297.4,755.2 L1292.6,769.3 L1290.3,768.3 L1295.0,754.3Z" fill="#6f6f6f" stroke="#6f6f6f" stroke-width=".9"/>
<path d="M1295.0,754.3 L1290.3,768.3 L1288.2,767.4 L1292.8,753.4Z" fill="#6f6f6f" stroke="#6f6f6f" stroke-width=".9"/>
<path d="M1292.8,753.4 L1288.2,767.4 L1287.9,767.3 L1292.5,753.3Z" fill="#6f6f6f" stroke="#6f6f6f" stroke-width=".9"/>
<path d="M1292.5,753.3 L1287.9,767.3 L1287.6,767.2 L1292.2,753.2Z" fill="#6f6f6f" stroke="#6f6f6f" stroke-width=".9"/>
<path d="M1292.2,753.2 L1287.6,767.2 L1287.0,766.9 L1291.6,753.0Z" fill="#808080" stroke="#808080" stroke-width=".9"/>
<path d="M1291.6,753.0 L1287.0,766.9 L1286.5,766.7 L1291.0,752.7Z" fill="#9a9a9a" stroke="#9a9a9a" stroke-width=".9"/>
<path d="M1291.0,752.7 L1286.5,766.7 L1248.1,752.3 L1252.6,739.8Z" fill="#a7a7a7" stroke="#a7a7a7" stroke-width=".9"/>
<path d="M1252.6,739.8 L1248.1,752.3 L1240.2,749.8 L1244.1,737.3Z" fill="#8c8c8c" stroke="#8c8c8c" stroke-width=".9"/>
<path d="M1299.6,772.3 L1294.5,786.4 L1293.4,785.8 L1298.4,771.8Z" fill="#656565" stroke="#656565" stroke-width=".9"/>
<path d="M1298.4,771.8 L1293.4,785.8 L1290.0,784.2 L1294.9,770.3Z" fill="#6f6f6f" stroke="#6f6f6f" stroke-width=".9"/>
<path d="M1294.9,770.3 L1290.0,784.2 L1287.7,783.1 L1292.6,769.3Z" fill="#6f6f6f" stroke="#6f6f6f" stroke-width=".9"/>
<path d="M1292.6,769.3 L1287.7,783.1 L1285.4,782.0 L1290.3,768.3Z" fill="#6f6f6f" stroke="#6f6f6f" stroke-width=".9"/>
<path d="M1290.3,768.3 L1285.4,782.0 L1283.5,781.1 L1288.2,767.4Z" fill="#6f6f6f" stroke="#6f6f6f" stroke-width=".9"/>
<path d="M1288.2,767.4 L1283.5,781.1 L1283.2,781.0 L1287.9,767.3Z" fill="#6f6f6f" stroke="#6f6f6f" stroke-width=".9"/>
<path d="M1287.9,767.3 L1283.2,781.0 L1282.9,780.9 L1287.6,767.2Z" fill="#6f6f6f" stroke="#6f6f6f" stroke-width=".9"/>
<path d="M1287.6,767.2 L1282.9,780.9 L1282.3,780.6 L1287.0,766.9Z" fill="#808080" stroke="#808080" stroke-width=".9"/>
<path d="M1287.0,766.9 L1282.3,780.6 L1281.8,780.4 L1286.5,766.7Z" fill="#9a9a9a" stroke="#9a9a9a" stroke-width=".9"/>
<path d="M1286.5,766.7 L1281.8,780.4 L1243.6,764.6 L1248.1,752.3Z" fill="#a7a7a7" stroke="#a7a7a7" stroke-width=".9"/>
<path d="M1248.1,752.3 L1243.6,764.6 L1236.2,761.9 L1240.2,749.8Z" fill="#8c8c8c" stroke="#8c8c8c" stroke-width=".9"/>
<path d="M1294.5,786.4 L1289.3,800.1 L1288.2,799.6 L1293.4,785.8Z" fill="#656565" stroke="#656565" stroke-width=".9"/>
<path d="M1293.4,785.8 L1288.2,799.6 L1284.9,797.8 L1290.0,784.2Z" fill="#6f6f6f" stroke="#6f6f6f" stroke-width=".9"/>
<path d="M1290.0,784.2 L1284.9,797.8 L1282.7,796.7 L1287.7,783.1Z" fill="#6f6f6f" stroke="#6f6f6f" stroke-width=".9"/>
<path d="M1287.7,783.1 L1282.7,796.7 L1280.4,795.5 L1285.4,782.0Z" fill="#6f6f6f" stroke="#6f6f6f" stroke-width=".9"/>
<path d="M1285.4,782.0 L1280.4,795.5 L1278.6,794.6 L1283.5,781.1Z" fill="#6f6f6f" stroke="#6f6f6f" stroke-width=".9"/>
<path d="M1283.5,781.1 L1278.6,794.6 L1278.3,794.5 L1283.2,781.0Z" fill="#6f6f6f" stroke="#6f6f6f" stroke-width=".9"/>
<path d="M1283.2,781.0 L1278.3,794.5 L1278.0,794.3 L1282.9,780.9Z" fill="#6f6f6f" stroke="#6f6f6f" stroke-width=".9"/>
<path d="M1282.9,780.9 L1278.0,794.3 L1277.5,794.0 L1282.3,780.6Z" fill="#808080" stroke="#808080" stroke-width=".9"/>
<path d="M1282.3,780.6 L1277.5,794.0 L1276.9,793.8 L1281.8,780.4Z" fill="#9a9a9a" stroke="#9a9a9a" stroke-width=".9"/>
<path d="M1281.8,780.4 L1276.9,793.8 L1238.9,776.6 L1243.6,764.6Z" fill="#a7a7a7" stroke="#a7a7a7" stroke-width=".9"/>
<path d="M1243.6,764.6 L1238.9,776.6 L1232.1,773.9 L1236.2,761.9Z" fill="#8d8d8d" stroke="#8d8d8d" stroke-width=".9"/>
<path d="M1289.3,800.1 L1284.0,813.6 L1282.9,813.0 L1288.2,799.6Z" fill="#666666" stroke="#666666" stroke-width=".9"/>
<path d="M1288.2,799.6 L1282.9,813.0 L1279.7,811.2 L1284.9,797.8Z" fill="#6e6e6e" stroke="#6e6e6e" stroke-width=".9"/>
<path d="M1284.9,797.8 L1279.7,811.2 L1277.5,810.0 L1282.7,796.7Z" fill="#6e6e6e" stroke="#6e6e6e" stroke-width=".9"/>
<path d="M1282.7,796.7 L1277.5,810.0 L1275.3,808.7 L1280.4,795.5Z" fill="#6e6e6e" stroke="#6e6e6e" stroke-width=".9"/>
<path d="M1280.4,795.5 L1275.3,808.7 L1273.6,807.8 L1278.6,794.6Z" fill="#6e6e6e" stroke="#6e6e6e" stroke-width=".9"/>
<path d="M1278.6,794.6 L1273.6,807.8 L1273.3,807.6 L1278.3,794.5Z" fill="#6e6e6e" stroke="#6e6e6e" stroke-width=".9"/>
<path d="M1278.3,794.5 L1273.3,807.6 L1273.0,807.5 L1278.0,794.3Z" fill="#6e6e6e" stroke="#6e6e6e" stroke-width=".9"/>
<path d="M1278.0,794.3 L1273.0,807.5 L1272.5,807.2 L1277.5,794.0Z" fill="#808080" stroke="#808080" stroke-width=".9"/>
<path d="M1277.5,794.0 L1272.5,807.2 L1271.9,806.9 L1276.9,793.8Z" fill="#9a9a9a" stroke="#9a9a9a" stroke-width=".9"/>
<path d="M1276.9,793.8 L1271.9,806.9 L1234.1,788.3 L1238.9,776.6Z" fill="#a6a6a6" stroke="#a6a6a6" stroke-width=".9"/>
<path d="M1238.9,776.6 L1234.1,788.3 L1227.9,785.6 L1232.1,773.9Z" fill="#8d8d8d" stroke="#8d8d8d" stroke-width=".9"/>
<path d="M1284.0,813.6 L1278.6,826.9 L1277.5,826.2 L1282.9,813.0Z" fill="#666666" stroke="#666666" stroke-width=".9"/>
<path d="M1282.9,813.0 L1277.5,826.2 L1274.3,824.3 L1279.7,811.2Z" fill="#6e6e6e" stroke="#6e6e6e" stroke-width=".9"/>
<path d="M1279.7,811.2 L1274.3,824.3 L1272.2,823.0 L1277.5,810.0Z" fill="#6e6e6e" stroke="#6e6e6e" stroke-width=".9"/>
<path d="M1277.5,810.0 L1272.2,823.0 L1270.0,821.7 L1275.3,808.7Z" fill="#6e6e6e" stroke="#6e6e6e" stroke-width=".9"/>
<path d="M1275.3,808.7 L1270.0,821.7 L1268.4,820.7 L1273.6,807.8Z" fill="#6e6e6e" stroke="#6e6e6e" stroke-width=".9"/>
<path d="M1273.6,807.8 L1268.4,820.7 L1268.2,820.6 L1273.3,807.6Z" fill="#6e6e6e" stroke="#6e6e6e" stroke-width=".9"/>
<path d="M1273.3,807.6 L1268.2,820.6 L1267.9,820.4 L1273.0,807.5Z" fill="#6e6e6e" stroke="#6e6e6e" stroke-width=".9"/>
<path d="M1273.0,807.5 L1267.9,820.4 L1267.4,820.1 L1272.5,807.2Z" fill="#808080" stroke="#808080" stroke-width=".9"/>
<path d="M1272.5,807.2 L1267.4,820.1 L1266.8,819.8 L1271.9,806.9Z" fill="#9a9a9a" stroke="#9a9a9a" stroke-width=".9"/>
<path d="M1271.9,806.9 L1266.8,819.8 L1229.3,799.8 L1234.1,788.3Z" fill="#a6a6a6" stroke="#a6a6a6" stroke-width=".9"/>
<path d="M1234.1,788.3 L1229.3,799.8 L1223.7,797.1 L1227.9,785.6Z" fill="#8e8e8e" stroke="#8e8e8e" stroke-width=".9"/>
<rect x="791" y="140" width="22" height="140" fill="#fff"/>
<ellipse cx="741" cy="255" rx="9.5" ry="6" transform="rotate(-28 741 255)" fill="#8c8c8c" stroke="#9e9e9e" stroke-width="1"/>
<ellipse cx="586" cy="384.5" rx="9.5" ry="6.5" transform="rotate(-42 586 384.5)" fill="#8e8e8e" stroke="#a2a2a2" stroke-width="1"/>
<polyline points="1157.3,173.8 1220.4,104.4" fill="none" stroke="#6a6a6a" stroke-width="1.2" stroke-linejoin="miter"/><polyline points="1116.0,220.0 1101.8,234.2" fill="none" stroke="#707070" stroke-width="1.4" stroke-linejoin="miter"/><polyline points="1101.8,234.2 744.0,629.8" fill="none" stroke="#7c7c7c" stroke-width="4.2" stroke-linejoin="miter" stroke-linecap="butt"/><polyline points="1101.8,234.2 744.0,629.8" fill="none" stroke="#b4b4b4" stroke-width="2.1" stroke-linejoin="miter" stroke-linecap="butt"/><polyline points="742.0,631.0 700.9,680.7" fill="none" stroke="#5a5a5a" stroke-width="1.4" stroke-linejoin="miter"/><polygon points="746.0,626.0 741.0,633.0 736.0,630.0 744.0,624.0" fill="#8a8a8a" stroke="none" stroke-width="0"/><polyline points="991.1,159.6 995.6,129.3" fill="none" stroke="#6a6a6a" stroke-width="1.2" stroke-linejoin="miter"/><polyline points="980.8,200.0 978.0,214.2" fill="none" stroke="#707070" stroke-width="1.4" stroke-linejoin="miter"/><polyline points="978.0,214.2 883.6,692.9" fill="none" stroke="#7c7c7c" stroke-width="4.2" stroke-linejoin="miter" stroke-linecap="butt"/><polyline points="978.0,214.2 883.6,692.9" fill="none" stroke="#b4b4b4" stroke-width="2.1" stroke-linejoin="miter" stroke-linecap="butt"/><polyline points="883.2,695.0 880.3,710.6" fill="none" stroke="#5a5a5a" stroke-width="1.4" stroke-linejoin="miter"/><polygon points="843.9,497.7 844.7,500.0 845.7,502.1 846.9,503.9 848.5,505.3 850.4,506.4 852.6,507.2 855.0,507.8 857.3,508.4 859.5,509.1 861.4,510.2 863.0,511.6 864.3,513.5 865.3,515.6 866.1,517.8 861.5,522.9 860.7,520.6 859.7,518.5 858.5,516.7 856.9,515.3 855.0,514.2 852.8,513.4 850.4,512.8 848.1,512.2 845.9,511.5 844.0,510.4 842.4,509.0 841.1,507.1 840.1,505.0 839.3,502.8" fill="#fff"/><polyline points="843.9,497.7 844.7,500.0 845.7,502.1 846.9,503.9 848.5,505.3 850.4,506.4 852.6,507.2 855.0,507.8 857.3,508.4 859.5,509.1 861.4,510.2 863.0,511.6 864.3,513.5 865.3,515.6 866.1,517.8" fill="none" stroke="#5a5a5a" stroke-width="1.3" stroke-linejoin="miter" stroke-linecap="round"/><polyline points="839.3,502.8 840.1,505.0 841.1,507.1 842.4,509.0 844.0,510.4 845.9,511.5 848.1,512.2 850.4,512.8 852.8,513.4 855.0,514.2 856.9,515.3 858.5,516.7 859.7,518.5 860.7,520.6 861.5,522.9" fill="none" stroke="#5a5a5a" stroke-width="1.3" stroke-linejoin="miter" stroke-linecap="round"/><polygon points="901.2,532.6 903.1,534.1 905.1,535.4 907.1,536.3 909.2,536.7 911.4,536.6 913.6,536.2 916.0,535.5 918.3,534.8 920.6,534.3 922.8,534.2 924.9,534.6 926.9,535.5 928.8,536.8 930.7,538.4 929.4,545.0 927.5,543.5 925.5,542.2 923.5,541.3 921.4,540.9 919.2,541.0 917.0,541.4 914.6,542.1 912.3,542.8 910.0,543.3 907.8,543.4 905.7,543.0 903.7,542.1 901.8,540.8 899.9,539.2" fill="#fff"/><polyline points="901.2,532.6 903.1,534.1 905.1,535.4 907.1,536.3 909.2,536.7 911.4,536.6 913.6,536.2 916.0,535.5 918.3,534.8 920.6,534.3 922.8,534.2 924.9,534.6 926.9,535.5 928.8,536.8 930.7,538.4" fill="none" stroke="#5a5a5a" stroke-width="1.3" stroke-linejoin="miter" stroke-linecap="round"/><polyline points="899.9,539.2 901.8,540.8 903.7,542.1 905.7,543.0 907.8,543.4 910.0,543.3 912.3,542.8 914.6,542.1 917.0,541.4 919.2,541.0 921.4,540.9 923.5,541.3 925.5,542.2 927.5,543.5 929.4,545.0" fill="none" stroke="#5a5a5a" stroke-width="1.3" stroke-linejoin="miter" stroke-linecap="round"/><polygon points="1231.6,81.7 1219.8,96.2 1226.4,102.0 1239.3,88.6" fill="#9a9a9a" stroke="#707070" stroke-width="0.8"/><polygon points="1239.5,70.8 1230.6,80.9 1240.3,89.5 1249.3,79.4" fill="#a2a2a2" stroke="#707070" stroke-width="0.8"/><ellipse cx="1244.4" cy="75.1" rx="6.5" ry="2.9" transform="rotate(-138.4 1244.4 75.1)" fill="#b0b0b0" stroke="#707070" stroke-width=".8"/><polygon points="996.2,106.6 993.9,125.8 1002.7,127.2 1006.5,108.2" fill="#9a9a9a" stroke="#707070" stroke-width="0.8"/><polygon points="997.1,92.5 994.9,106.3 1007.7,108.4 1009.9,94.5" fill="#a2a2a2" stroke="#707070" stroke-width="0.8"/><ellipse cx="1003.5" cy="93.5" rx="6.5" ry="2.9" transform="rotate(-171.0 1003.5 93.5)" fill="#b0b0b0" stroke="#707070" stroke-width=".8"/>
<polyline points="811.0,908.0 789.0,896.3 845.3,866.0 1171.4,1044.3 1253.8,999.5" fill="none" stroke="#5e5454" stroke-width="1.2" stroke-linejoin="miter"/>
<ellipse cx="427.0" cy="551.2" rx="25.0" ry="18.0" transform="rotate(-61.5 427.0 551.2)" fill="url(#gfh)" stroke="none" stroke-width="0"/><polygon points="438.9,529.2 445.9,533.0 422.1,577.0 415.0,573.2" fill="url(#gfh)"/><ellipse cx="434.0" cy="555.0" rx="25.0" ry="18.0" transform="rotate(-61.5 434.0 555.0)" fill="#8e8e8e" stroke="none" stroke-width="0"/><ellipse cx="434.0" cy="555.0" rx="25.0" ry="18.0" transform="rotate(-61.5 434.0 555.0)" fill="none" stroke="#6c6c6c" stroke-width="0.8"/><ellipse cx="434.0" cy="555.0" rx="11.5" ry="8.3" transform="rotate(-61.5 434.0 555.0)" fill="#fff" stroke="#6a6a6a" stroke-width="1"/><ellipse cx="432.5" cy="554.2" rx="10.0" ry="7.2" transform="rotate(-61.5 432.5 554.2)" fill="#6e6e6e" stroke="none" stroke-width="0"/><ellipse cx="434.8" cy="555.4" rx="9.5" ry="6.8" transform="rotate(-61.5 434.8 555.4)" fill="#fff" stroke="none" stroke-width="0"/><ellipse cx="471.8" cy="575.9" rx="23.2" ry="16.7" transform="rotate(-61.5 471.8 575.9)" fill="url(#gfh)" stroke="none" stroke-width="0"/><polygon points="482.9,555.5 490.1,559.4 467.9,600.2 460.7,596.3" fill="url(#gfh)"/><ellipse cx="479.0" cy="579.8" rx="23.2" ry="16.7" transform="rotate(-61.5 479.0 579.8)" fill="#8e8e8e" stroke="none" stroke-width="0"/><ellipse cx="479.0" cy="579.8" rx="23.2" ry="16.7" transform="rotate(-61.5 479.0 579.8)" fill="none" stroke="#6c6c6c" stroke-width="0.8"/><ellipse cx="479.0" cy="579.8" rx="10.5" ry="7.6" transform="rotate(-61.5 479.0 579.8)" fill="#fff" stroke="#6a6a6a" stroke-width="1"/><ellipse cx="477.5" cy="579.0" rx="9.0" ry="6.5" transform="rotate(-61.5 477.5 579.0)" fill="#6e6e6e" stroke="none" stroke-width="0"/><ellipse cx="479.8" cy="580.2" rx="8.6" ry="6.2" transform="rotate(-61.5 479.8 580.2)" fill="#fff" stroke="none" stroke-width="0"/><ellipse cx="524.0" cy="601.7" rx="37.0" ry="26.6" transform="rotate(-61.5 524.0 601.7)" fill="url(#gfh)" stroke="none" stroke-width="0"/><polygon points="541.6,569.2 548.7,573.0 513.3,638.0 506.3,634.2" fill="url(#gfh)"/><ellipse cx="531.0" cy="605.5" rx="37.0" ry="26.6" transform="rotate(-61.5 531.0 605.5)" fill="#7e7e7e" stroke="none" stroke-width="0"/><ellipse cx="531.0" cy="605.5" rx="37.0" ry="26.6" transform="rotate(-61.5 531.0 605.5)" fill="#808080" stroke="#5e5e5e" stroke-width="1"/><ellipse cx="531.0" cy="605.5" rx="33.0" ry="23.8" transform="rotate(-61.5 531.0 605.5)" fill="#8e8e8e" stroke="#6a6a6a" stroke-width="1"/><ellipse cx="531.0" cy="605.5" rx="28.0" ry="20.0" transform="rotate(-61.5 531.0 605.5)" fill="#777777" stroke="#5a5a5a" stroke-width="1.2"/><ellipse cx="533.0" cy="606.5" rx="21.0" ry="15.0" transform="rotate(-61.5 533.0 606.5)" fill="#a4a4a4" stroke="#6a6a6a" stroke-width="0.8"/><ellipse cx="536.0" cy="608.0" rx="12.0" ry="8.6" transform="rotate(-61.5 536.0 608.0)" fill="#bdbdbd" stroke="none" stroke-width="0"/><ellipse cx="538.0" cy="609.0" rx="6.0" ry="4.3" transform="rotate(-61.5 538.0 609.0)" fill="#8a8a8a" stroke="none" stroke-width="0"/><ellipse cx="585.4" cy="636.5" rx="39.5" ry="28.5" transform="rotate(-61.5 585.4 636.5)" fill="#7a7a7a" stroke="#5e5e5e" stroke-width="1"/><path d="M605.1,604.1 L608.1,606.1 L610.7,608.6 L613.0,611.7 L614.7,615.1 L616.0,619.0 L616.8,623.1 L617.1,627.5 L616.9,632.1 L616.2,636.8 L615.0,641.5 L613.2,646.1 L611.1,650.6 L608.5,654.8 L605.6,658.8 L602.3,662.4 L598.8,665.5 L595.1,668.2 L591.2,670.4 L587.3,672.0 L583.3,673.0 L579.5,673.4 L575.7,673.1 L572.2,672.3 L568.9,670.9 L565.9,668.9 L563.3,666.4 L561.0,663.3 L559.3,659.9 L558.0,656.0 L557.2,651.9 L556.9,647.5 L557.1,642.9 L557.8,638.2 L559.0,633.5 L560.8,628.9 L562.9,624.4 L565.5,620.2 L568.4,616.2 L571.7,612.6 L575.2,609.5 L578.9,606.8 L582.8,604.6 L586.7,603.0 L590.7,602.0 L594.5,601.6 L598.3,601.9 L601.8,602.7Z M598.7,616.0 L600.6,617.2 L602.3,618.9 L603.7,620.8 L604.9,623.1 L605.7,625.5 L606.2,628.2 L606.4,631.1 L606.2,634.0 L605.8,637.0 L605.0,640.0 L603.9,643.0 L602.5,645.9 L600.8,648.6 L598.9,651.2 L596.8,653.5 L594.5,655.5 L592.2,657.3 L589.7,658.7 L587.1,659.7 L584.6,660.3 L582.1,660.6 L579.7,660.5 L577.4,659.9 L575.3,659.0 L573.4,657.8 L571.7,656.1 L570.3,654.2 L569.1,651.9 L568.3,649.5 L567.8,646.8 L567.6,643.9 L567.8,641.0 L568.2,638.0 L569.0,635.0 L570.1,632.0 L571.5,629.1 L573.2,626.4 L575.1,623.8 L577.2,621.5 L579.5,619.5 L581.8,617.7 L584.3,616.3 L586.9,615.3 L589.4,614.7 L591.9,614.4 L594.3,614.5 L596.6,615.1Z" fill-rule="evenodd" fill="#8c8c8c" stroke="#666" stroke-width="0.8"/><ellipse cx="587.0" cy="637.5" rx="31.0" ry="22.3" transform="rotate(-61.5 587.0 637.5)" fill="none" stroke="#6e6e6e" stroke-width="1.5"/><ellipse cx="588.0" cy="638.0" rx="24.5" ry="17.6" transform="rotate(-61.5 588.0 638.0)" fill="#fff" stroke="#777" stroke-width="1.2"/><polyline points="570.0,628.0 612.0,651.0" fill="none" stroke="#6e6868" stroke-width="1.3" stroke-linejoin="miter"/><circle cx="645.0" cy="646.6" r="8.3" fill="url(#gball)" stroke="#6a6a6a" stroke-width=".8"/><circle cx="657.8" cy="647.5" r="8.3" fill="url(#gball)" stroke="#6a6a6a" stroke-width=".8"/><circle cx="661.5" cy="659.4" r="8.3" fill="url(#gball)" stroke="#6a6a6a" stroke-width=".8"/><circle cx="656.9" cy="674.1" r="8.3" fill="url(#gball)" stroke="#6a6a6a" stroke-width=".8"/><circle cx="645.0" cy="686.9" r="8.3" fill="url(#gball)" stroke="#6a6a6a" stroke-width=".8"/><circle cx="634.0" cy="692.4" r="8.3" fill="url(#gball)" stroke="#6a6a6a" stroke-width=".8"/><circle cx="623.9" cy="685.1" r="8.3" fill="url(#gball)" stroke="#6a6a6a" stroke-width=".8"/><circle cx="623.0" cy="670.4" r="8.3" fill="url(#gball)" stroke="#6a6a6a" stroke-width=".8"/><circle cx="632.2" cy="655.8" r="8.3" fill="url(#gball)" stroke="#6a6a6a" stroke-width=".8"/>
<polyline points="385.6,527.4 410.3,540.8" fill="none" stroke="#6e6868" stroke-width="1.2" stroke-linejoin="miter"/>
<polyline points="427.0,549.9 443.0,558.6" fill="none" stroke="#6e6868" stroke-width="1.2" stroke-linejoin="miter"/>
<polyline points="450.7,562.8 461.7,568.8" fill="none" stroke="#6e6868" stroke-width="1.2" stroke-linejoin="miter"/>
<polyline points="472.0,574.3 491.0,584.7" fill="none" stroke="#6e6868" stroke-width="1.2" stroke-linejoin="miter"/>
<polyline points="496.5,587.7 500.0,589.6" fill="none" stroke="#6e6868" stroke-width="1.2" stroke-linejoin="miter"/>
<polyline points="537.0,609.7 560.0,622.2" fill="none" stroke="#6e6868" stroke-width="1.2" stroke-linejoin="miter"/>
<polyline points="568.0,626.5 625.0,657.5" fill="none" stroke="#6e6868" stroke-width="1.2" stroke-linejoin="miter"/>
<polygon points="665.0,715.2 666.5,700.1 671.0,688.1 677.1,679.1 686.1,668.6 695.1,661.0 710.1,658.0 722.2,657.3 728.2,651.3 740.2,650.5 755.2,656.5 762.7,662.5 764.3,677.6 765.8,689.6 780.8,698.6 800.3,710.7 809.4,718.2 822.9,710.7 849.9,701.6 860.5,700.1 875.5,710.7 881.5,718.2 880.0,730.2 882.3,745.2 884.5,767.8 886.0,772.3 883.0,784.3 875.5,790.3 868.0,799.4 857.5,809.9 845.4,817.4 830.4,824.9 825.0,834.0 813.2,840.1 802.5,836.0 797.3,825.0 797.3,817.4 785.3,812.9 767.3,808.4 764.3,790.3 768.8,784.3 777.8,784.3 755.2,775.3 734.2,767.8 725.2,769.3 710.1,767.8 689.1,767.8 677.1,760.3 668.0,745.2 666.5,736.2 665.0,724.2" fill="#7c7c7c" stroke="#555555" stroke-width="0.8"/><path d="M665,715 C666,695 676,675 695,661 L704,659 C690,672 682,690 680,712 C679,730 681,748 688,767 L677,760 C669,748 665,732 665,715 Z" fill="#636363"/><path d="M703,659.5 C689,672 681,691 679.5,712 C678.5,731 681,749 688,767" fill="none" stroke="#8e8e8e" stroke-width="1.6"/><polygon points="722.2,657.3 728.2,651.3 740.2,650.5 755.2,656.5 762.7,662.5 764.3,677.6 752.0,683.0 737.0,676.0 724.0,668.0" fill="#888888" stroke="#5e5e5e" stroke-width="0.6"/><polygon points="728.2,651.3 740.2,650.5 755.2,656.5 762.7,662.5 750.0,664.0 736.0,658.0" fill="#5c5c5c" stroke="none" stroke-width="0"/><ellipse cx="735" cy="664" rx="2.3" ry="2.8" fill="#4a4a4a"/><ellipse cx="743.5" cy="668" rx="2.3" ry="2.8" fill="#4a4a4a"/><polygon points="678.0,683.0 690.0,678.0 702.0,687.0 703.0,702.0 696.0,712.0 683.0,707.0 677.0,697.0" fill="#8c8c8c" stroke="#5a5a5a" stroke-width="0.6"/><polygon points="680.0,700.0 696.0,706.0 696.0,712.0 683.0,707.0" fill="#555555" stroke="none" stroke-width="0"/><polygon points="668.0,738.0 681.0,735.0 696.0,746.0 698.0,762.0 689.0,767.8 677.1,760.3 668.0,745.2" fill="#7e7e7e" stroke="#5a5a5a" stroke-width="0.6"/><circle cx="677" cy="744" r="1.9" fill="#4e4e4e"/><circle cx="683" cy="747" r="1.9" fill="#4e4e4e"/><circle cx="680" cy="750" r="1.9" fill="#4e4e4e"/><polygon points="738.0,685.0 765.8,689.6 780.8,698.6 800.3,710.7 812.0,719.0 806.0,740.0 792.0,765.0 778.0,784.0 755.2,775.3 734.2,767.8 727.0,740.0 730.0,706.0" fill="url(#ghubbody)" stroke="none" stroke-width="0"/><path d="M741,684 C728,700 723,735 735,768" fill="none" stroke="#9c9c9c" stroke-width="3"/><path d="M736,685 C722,702 718,736 730,768" fill="none" stroke="#5a5a5a" stroke-width="1.2"/><polygon points="770.0,693.0 782.0,697.0 788.0,706.0 780.0,708.0 771.0,701.0" fill="#5a5a5a" stroke="none" stroke-width="0"/><polygon points="794.0,718.0 806.0,713.0 820.0,721.0 822.0,738.0 811.0,744.0 797.0,736.0" fill="#8a8a8a" stroke="#5a5a5a" stroke-width="0.6"/><polygon points="808.0,715.0 820.0,721.0 822.0,738.0 815.0,741.0 813.0,724.0" fill="#9a9a9a" stroke="none" stroke-width="0"/><circle cx="802" cy="735" r="2" fill="#4a4a4a"/><circle cx="808.5" cy="738.5" r="2" fill="#4a4a4a"/><ellipse cx="843" cy="768" rx="39" ry="57" transform="rotate(17 843 768)" fill="#6e6e6e" stroke="#5a5a5a" stroke-width="1"/><ellipse cx="846" cy="768" rx="33" ry="50" transform="rotate(17 846 768)" fill="none" stroke="#8c8c8c" stroke-width="1.5"/><ellipse cx="836" cy="767" rx="29" ry="42" transform="rotate(20 836 767)" fill="#737373" stroke="#5a5a5a" stroke-width="1"/><ellipse cx="836" cy="767" rx="27" ry="39.5" transform="rotate(20 836 767)" fill="none" stroke="#a0a0a0" stroke-width="3.2" stroke-dasharray="2.2 2.2"/><ellipse cx="838" cy="769" rx="21" ry="31" transform="rotate(20 838 769)" fill="#666666"/><ellipse cx="838" cy="771" rx="14" ry="20" transform="rotate(20 838 771)" fill="#a0a0a0"/><ellipse cx="841" cy="772" rx="8" ry="12" transform="rotate(20 841 772)" fill="#b4b4b4"/><polygon points="846.0,704.0 849.9,701.6 860.5,700.1 875.5,710.7 881.5,718.2 880.0,724.0 866.0,724.0 850.0,716.0" fill="#8a8a8a" stroke="#5a5a5a" stroke-width="0.6"/><ellipse cx="857" cy="709" rx="1.8" ry="2.2" fill="#4a4a4a"/><ellipse cx="865" cy="712" rx="2.6" ry="3" fill="#4a4a4a"/><polygon points="767.3,808.4 764.3,790.3 768.8,784.3 782.0,783.0 792.0,796.0 791.0,812.0" fill="#878787" stroke="#5a5a5a" stroke-width="0.6"/><polygon points="797.3,825.0 802.5,836.0 813.2,840.1 825.0,834.0 818.0,822.0 804.0,818.0" fill="#7a7a7a" stroke="#5a5a5a" stroke-width="0.6"/><polygon points="880.0,757.0 886.0,772.3 883.0,784.3 876.0,783.0 877.0,765.0" fill="#626262" stroke="none" stroke-width="0"/>
<polyline points="742.0,631.0 700.9,680.7" fill="none" stroke="#5a5a5a" stroke-width="1.3" stroke-linejoin="miter"/>
<polyline points="883.2,695.0 880.3,710.6" fill="none" stroke="#5a5a5a" stroke-width="1.3" stroke-linejoin="miter"/>
<polyline points="828.9,769.3 870.0,791.5" fill="none" stroke="#6e6868" stroke-width="1.2" stroke-linejoin="miter"/>
<ellipse cx="938.7" cy="827.8" rx="41.7" ry="29.5" transform="rotate(-61.5 938.7 827.8)" fill="none" stroke="#686868" stroke-width="7.5"/><ellipse cx="938.7" cy="827.8" rx="41.7" ry="29.5" transform="rotate(-61.5 938.7 827.8)" fill="none" stroke="#8a8a8a" stroke-width="5"/>
<polyline points="880.0,796.0 981.4,851.0" fill="none" stroke="#6e6868" stroke-width="1.2" stroke-linejoin="miter"/>
<ellipse cx="1005.2" cy="863.8" rx="46.0" ry="33.1" transform="rotate(-61.5 1005.2 863.8)" fill="url(#gfh)" stroke="none" stroke-width="0"/><polygon points="1027.2,823.4 1034.2,827.2 990.3,908.0 983.3,904.2" fill="url(#gfh)"/><ellipse cx="1012.3" cy="867.6" rx="46.0" ry="33.1" transform="rotate(-61.5 1012.3 867.6)" fill="#7a7a7a" stroke="none" stroke-width="0"/><ellipse cx="1013.1" cy="868.1" rx="42.0" ry="30.2" transform="rotate(-61.5 1013.1 868.1)" fill="url(#gfh)" stroke="none" stroke-width="0"/><polygon points="1033.2,831.2 1114.0,875.1 1074.0,948.9 993.1,905.0" fill="url(#gfh)"/><ellipse cx="1094.0" cy="912.0" rx="42.0" ry="30.2" transform="rotate(-61.5 1094.0 912.0)" fill="#8a8a8a" stroke="none" stroke-width="0"/><polyline points="997.1,901.5 1061.1,936.2" fill="none" stroke="#5c5c5c" stroke-width="2.4" stroke-linejoin="miter"/><polyline points="998.0,899.9 1062.0,934.6" fill="none" stroke="#9c9c9c" stroke-width="1.1" stroke-linejoin="miter"/><polyline points="1001.5,890.4 1058.1,921.2" fill="none" stroke="#5c5c5c" stroke-width="2.4" stroke-linejoin="miter"/><polyline points="1002.3,888.8 1059.0,919.6" fill="none" stroke="#9c9c9c" stroke-width="1.1" stroke-linejoin="miter"/><polyline points="1007.2,878.3 1060.3,907.1" fill="none" stroke="#5c5c5c" stroke-width="2.4" stroke-linejoin="miter"/><polyline points="1008.1,876.7 1061.1,905.5" fill="none" stroke="#9c9c9c" stroke-width="1.1" stroke-linejoin="miter"/><polyline points="1013.7,866.0 1065.9,894.3" fill="none" stroke="#5c5c5c" stroke-width="2.4" stroke-linejoin="miter"/><polyline points="1014.5,864.4 1066.7,892.7" fill="none" stroke="#9c9c9c" stroke-width="1.1" stroke-linejoin="miter"/><polyline points="1020.6,854.0 1074.4,883.2" fill="none" stroke="#5c5c5c" stroke-width="2.4" stroke-linejoin="miter"/><polyline points="1021.5,852.4 1075.3,881.6" fill="none" stroke="#9c9c9c" stroke-width="1.1" stroke-linejoin="miter"/><polyline points="1027.4,843.3 1085.5,874.9" fill="none" stroke="#5c5c5c" stroke-width="2.4" stroke-linejoin="miter"/><polyline points="1028.2,841.7 1086.4,873.3" fill="none" stroke="#9c9c9c" stroke-width="1.1" stroke-linejoin="miter"/><ellipse cx="1094.0" cy="912.0" rx="42.0" ry="30.2" transform="rotate(-61.5 1094.0 912.0)" fill="#8c8c8c" stroke="#5e5e5e" stroke-width="1"/><ellipse cx="1095.0" cy="912.5" rx="38.0" ry="27.2" transform="rotate(-61.5 1095.0 912.5)" fill="#7c7c7c" stroke="#a4a4a4" stroke-width="1"/><ellipse cx="1096.0" cy="913.0" rx="31.0" ry="22.2" transform="rotate(-61.5 1096.0 913.0)" fill="#a6a6a6" stroke="#6e6e6e" stroke-width="0.8"/><ellipse cx="1097.0" cy="913.5" rx="22.0" ry="15.7" transform="rotate(-61.5 1097.0 913.5)" fill="#bababa" stroke="none" stroke-width="0"/><ellipse cx="1097.0" cy="913.5" rx="7.0" ry="5.0" transform="rotate(-61.5 1097.0 913.5)" fill="#9a9a9a" stroke="none" stroke-width="0"/>
<polyline points="1073.0,901.0 1140.0,937.5" fill="none" stroke="#6e6868" stroke-width="1.2" stroke-linejoin="miter"/>
<ellipse cx="1144.7" cy="940.8" rx="17.0" ry="12.2" transform="rotate(-61.5 1144.7 940.8)" fill="url(#gfh)" stroke="none" stroke-width="0"/><polygon points="1152.8,925.8 1232.8,969.3 1216.6,999.1 1136.6,955.7" fill="url(#gfh)"/><ellipse cx="1224.7" cy="984.2" rx="17.0" ry="12.2" transform="rotate(-61.5 1224.7 984.2)" fill="#8a8a8a" stroke="none" stroke-width="0"/><path d="M1190.6,946.4 A17,12.2 -61.5 0 1 1174.4,976.2" fill="none" stroke="#a8a8a8" stroke-width="1.2"/><ellipse cx="1224.7" cy="984.2" rx="17.0" ry="12.2" transform="rotate(-61.5 1224.7 984.2)" fill="#8e8e8e" stroke="#5e5e5e" stroke-width="1"/><ellipse cx="1225.2" cy="984.5" rx="12.0" ry="8.6" transform="rotate(-61.5 1225.2 984.5)" fill="#5c5c5c" stroke="none" stroke-width="0"/><ellipse cx="1226.2" cy="985.0" rx="9.0" ry="6.5" transform="rotate(-61.5 1226.2 985.0)" fill="#8a8a8a" stroke="#555" stroke-width="1.5" stroke-dasharray="2 1.5"/><ellipse cx="1226.7" cy="985.2" rx="5.0" ry="3.6" transform="rotate(-61.5 1226.7 985.2)" fill="#6e6e6e" stroke="none" stroke-width="0"/>
<polyline points="1222.0,984.0 1254.0,1000.0" fill="none" stroke="#6e6868" stroke-width="1.2" stroke-linejoin="miter"/>
<ellipse cx="818.4" cy="912.9" rx="11.3" ry="8.2" transform="rotate(-61.5 818.4 912.9)" fill="url(#gaxle)" stroke="none" stroke-width="0"/><polygon points="823.8,903.0 1109.4,1058.1 1098.6,1077.9 813.0,922.9" fill="url(#gaxle)"/><ellipse cx="1104.0" cy="1068.0" rx="11.3" ry="8.2" transform="rotate(-61.5 1104.0 1068.0)" fill="#8a8a8a" stroke="none" stroke-width="0"/><path d="M1005.7,1001.8 A11.3,8.2 -61.5 0 1 994.9,1021.6" fill="none" stroke="#a4a4a4" stroke-width="1"/><path d="M969.7,982.2 A11.3,8.2 -61.5 0 1 958.9,1002.1" fill="none" stroke="#a4a4a4" stroke-width="1"/><ellipse cx="1104.0" cy="1068.0" rx="11.3" ry="8.2" transform="rotate(-61.5 1104.0 1068.0)" fill="#8a8a8a" stroke="#5e5e5e" stroke-width="1"/><ellipse cx="1104.5" cy="1068.3" rx="6.5" ry="4.7" transform="rotate(-61.5 1104.5 1068.3)" fill="#6a6a6a" stroke="#a0a0a0" stroke-width="0.8"/>
<circle cx="1151.7" cy="1069.2" r="9.0" fill="url(#gball)" stroke="#6a6a6a" stroke-width=".8"/><circle cx="1164.5" cy="1070.3" r="9.0" fill="url(#gball)" stroke="#6a6a6a" stroke-width=".8"/><circle cx="1169.2" cy="1083.2" r="9.0" fill="url(#gball)" stroke="#6a6a6a" stroke-width=".8"/><circle cx="1163.3" cy="1097.2" r="9.0" fill="url(#gball)" stroke="#6a6a6a" stroke-width=".8"/><circle cx="1151.7" cy="1110.0" r="9.0" fill="url(#gball)" stroke="#6a6a6a" stroke-width=".8"/><circle cx="1140.0" cy="1117.0" r="9.0" fill="url(#gball)" stroke="#6a6a6a" stroke-width=".8"/><circle cx="1129.5" cy="1108.8" r="9.0" fill="url(#gball)" stroke="#6a6a6a" stroke-width=".8"/><circle cx="1129.5" cy="1094.8" r="9.0" fill="url(#gball)" stroke="#6a6a6a" stroke-width=".8"/><circle cx="1138.8" cy="1079.7" r="9.0" fill="url(#gball)" stroke="#6a6a6a" stroke-width=".8"/><ellipse cx="1202.1" cy="1122.7" rx="27.0" ry="19.4" transform="rotate(-61.5 1202.1 1122.7)" fill="url(#gfh)" stroke="none" stroke-width="0"/><polygon points="1215.0,1099.0 1222.9,1103.3 1197.1,1150.7 1189.2,1146.4" fill="url(#gfh)"/><ellipse cx="1210.0" cy="1127.0" rx="27.0" ry="19.4" transform="rotate(-61.5 1210.0 1127.0)" fill="#7c7c7c" stroke="none" stroke-width="0"/><ellipse cx="1210.0" cy="1127.0" rx="27.0" ry="19.4" transform="rotate(-61.5 1210.0 1127.0)" fill="#858585" stroke="#5e5e5e" stroke-width="1"/><ellipse cx="1211.0" cy="1127.5" rx="24.0" ry="17.3" transform="rotate(-61.5 1211.0 1127.5)" fill="none" stroke="#9a9a9a" stroke-width="1"/><ellipse cx="1214.7" cy="1129.8" rx="19.0" ry="13.7" transform="rotate(-61.5 1214.7 1129.8)" fill="url(#gfh)" stroke="none" stroke-width="0"/><polygon points="1223.8,1113.1 1236.1,1119.8 1217.9,1153.2 1205.6,1146.5" fill="url(#gfh)"/><ellipse cx="1227.0" cy="1136.5" rx="19.0" ry="13.7" transform="rotate(-61.5 1227.0 1136.5)" fill="#8a8a8a" stroke="none" stroke-width="0"/><ellipse cx="1227.0" cy="1136.5" rx="19.0" ry="13.7" transform="rotate(-61.5 1227.0 1136.5)" fill="#8e8e8e" stroke="#5e5e5e" stroke-width="1"/><ellipse cx="1228.0" cy="1137.0" rx="13.0" ry="9.4" transform="rotate(-61.5 1228.0 1137.0)" fill="#6a6a6a" stroke="#a8a8a8" stroke-width="1"/><ellipse cx="1229.0" cy="1137.5" rx="7.5" ry="5.4" transform="rotate(-61.5 1229.0 1137.5)" fill="#a2a2a2" stroke="none" stroke-width="0"/><ellipse cx="1269.1" cy="1159.7" rx="22.9" ry="16.5" transform="rotate(-61.5 1269.1 1159.7)" fill="url(#gfh)" stroke="none" stroke-width="0"/><polygon points="1280.0,1139.5 1290.5,1145.3 1268.7,1185.5 1258.1,1179.8" fill="url(#gfh)"/><ellipse cx="1279.6" cy="1165.4" rx="22.9" ry="16.5" transform="rotate(-61.5 1279.6 1165.4)" fill="#8c8c8c" stroke="none" stroke-width="0"/><ellipse cx="1279.6" cy="1165.4" rx="22.9" ry="16.5" transform="rotate(-61.5 1279.6 1165.4)" fill="none" stroke="#606060" stroke-width="1"/><ellipse cx="1280.0" cy="1165.6" rx="11.0" ry="7.9" transform="rotate(-61.5 1280.0 1165.6)" fill="#fff" stroke="#6a6a6a" stroke-width="1"/><ellipse cx="1278.5" cy="1164.8" rx="9.5" ry="6.8" transform="rotate(-61.5 1278.5 1164.8)" fill="#6e6e6e" stroke="none" stroke-width="0"/><ellipse cx="1281.0" cy="1166.2" rx="8.6" ry="6.2" transform="rotate(-61.5 1281.0 1166.2)" fill="#fff" stroke="none" stroke-width="0"/><ellipse cx="1338.3" cy="1196.3" rx="55.9" ry="40.7" transform="rotate(-61.5 1338.3 1196.3)" fill="none" stroke="#686868" stroke-width="7"/><ellipse cx="1338.3" cy="1196.3" rx="55.9" ry="40.7" transform="rotate(-61.5 1338.3 1196.3)" fill="none" stroke="#8e8e8e" stroke-width="4.6"/>
<polyline points="1102.7,1065.7 1128.0,1079.6" fill="none" stroke="#6e6868" stroke-width="1.2" stroke-linejoin="miter"/>
<polyline points="1210.0,1127.0 1394.3,1226.7" fill="none" stroke="#6e6868" stroke-width="1.2" stroke-linejoin="miter"/>
<polyline points="248.0,932.0 525.0,1078.0" fill="none" stroke="url(#grod)" stroke-width="10.5" stroke-linejoin="miter" stroke-linecap="butt"/><polyline points="525.0,1078.0 578.5,1107.0" fill="none" stroke="url(#grod)" stroke-width="9" stroke-linejoin="miter" stroke-linecap="butt"/><polyline points="248.0,932.0 525.0,1078.0" fill="none" stroke="none" stroke-width="0.01" stroke-linejoin="miter"/><ellipse cx="578.5" cy="1107" rx="4.5" ry="3.3" transform="rotate(-61.5 578.5 1107)" fill="#8a8a8a" stroke="#606060" stroke-width=".8"/><path d="M524,1073 A5.2,3.8 -61.5 0 1 521,1083" fill="none" stroke="#a6a6a6" stroke-width="1"/><polygon points="64.6,953.3 69.4,947.5 85.0,937.0 108.3,924.2 140.0,910.0 166.7,898.9 205.6,885.3 221.0,879.4 232.8,880.4 241.5,889.2 244.4,904.7 240.0,915.0 234.7,945.6 225.0,941.7 209.4,933.9 203.6,928.0 201.7,916.4 166.7,920.3 127.8,931.9 98.6,945.6 71.4,963.0 66.0,961.0" fill="url(#glever)" stroke="#6a6a6a" stroke-width="0.8"/><path d="M72,955 C110,930 160,910 200,905" fill="none" stroke="#6e6e6e" stroke-width="1"/><ellipse cx="222" cy="890" rx="11" ry="7" transform="rotate(-15 222 890)" fill="#9c9c9c" stroke="#7a7a7a" stroke-width=".8"/><polygon points="203.0,908.0 244.0,904.0 250.0,918.0 246.0,950.0 234.7,949.0 210.0,935.0 202.0,925.0" fill="#7e7e7e" stroke="#5e5e5e" stroke-width="0.6"/><ellipse cx="251.6" cy="931.6" rx="24.5" ry="17.6" transform="rotate(-61.5 251.6 931.6)" fill="url(#gfh)" stroke="none" stroke-width="0"/><polygon points="263.3,910.1 267.7,912.5 244.3,955.5 239.9,953.1" fill="url(#gfh)"/><ellipse cx="256.0" cy="934.0" rx="24.5" ry="17.6" transform="rotate(-61.5 256.0 934.0)" fill="#8a8a8a" stroke="none" stroke-width="0"/><ellipse cx="256.0" cy="934.0" rx="24.5" ry="17.6" transform="rotate(-61.5 256.0 934.0)" fill="#8e8e8e" stroke="#5e5e5e" stroke-width="1"/><ellipse cx="257.0" cy="934.5" rx="17.0" ry="12.2" transform="rotate(-61.5 257.0 934.5)" fill="#6a6a6a" stroke="#a0a0a0" stroke-width="1.2"/><ellipse cx="258.0" cy="935.0" rx="12.0" ry="8.6" transform="rotate(-61.5 258.0 935.0)" fill="#7e7e7e" stroke="none" stroke-width="0"/><polyline points="252.0,932.0 275.0,944.0" fill="none" stroke="url(#grod)" stroke-width="10" stroke-linejoin="miter" stroke-linecap="butt"/><ellipse cx="601.0" cy="1120.0" rx="15.5" ry="7.8" transform="rotate(-61.5 601.0 1120.0)" fill="#848484" stroke="none" stroke-width="0"/><polygon points="608.4,1106.4 626.3,1123.6 617.7,1139.4 593.6,1133.6" fill="#888888" stroke="none" stroke-width="0"/><ellipse cx="622.0" cy="1131.5" rx="9.0" ry="4.5" transform="rotate(-61.5 622.0 1131.5)" fill="#8e8e8e" stroke="#6a6a6a" stroke-width="0.8"/><polyline points="612.0,1109.8 613.4,1111.1 614.2,1113.2 614.4,1115.9 614.0,1119.0 613.0,1122.3 611.4,1125.7 609.5,1128.8 607.2,1131.5 604.8,1133.5 602.5,1134.8 600.3,1135.2 598.4,1134.8" fill="none" stroke="#c6c6c6" stroke-width="1.2" stroke-linejoin="miter"/><polyline points="615.6,1113.3 616.8,1114.4 617.6,1116.3 617.8,1118.8 617.4,1121.6 616.5,1124.6 615.1,1127.7 613.3,1130.5 611.2,1132.9 609.1,1134.8 606.9,1136.0 604.9,1136.3 603.2,1135.9" fill="none" stroke="#c6c6c6" stroke-width="1.2" stroke-linejoin="miter"/><polyline points="619.1,1116.7 620.3,1117.8 620.9,1119.5 621.1,1121.6 620.8,1124.2 620.0,1126.9 618.7,1129.7 617.1,1132.2 615.2,1134.4 613.3,1136.1 611.4,1137.1 609.6,1137.5 608.1,1137.1" fill="none" stroke="#c6c6c6" stroke-width="1.2" stroke-linejoin="miter"/><polyline points="622.7,1120.1 623.7,1121.1 624.3,1122.6 624.5,1124.5 624.2,1126.8 623.4,1129.2 622.3,1131.7 620.9,1133.9 619.3,1135.9 617.5,1137.3 615.8,1138.3 614.2,1138.6 612.9,1138.3" fill="none" stroke="#c6c6c6" stroke-width="1.2" stroke-linejoin="miter"/><ellipse cx="654.0" cy="1153.0" rx="8.5" ry="4.2" transform="rotate(-61.5 654.0 1153.0)" fill="#848484" stroke="none" stroke-width="0"/><polygon points="658.1,1145.5 678.9,1149.8 665.1,1175.2 649.9,1160.5" fill="#888888" stroke="none" stroke-width="0"/><ellipse cx="672.0" cy="1162.5" rx="14.5" ry="7.2" transform="rotate(-61.5 672.0 1162.5)" fill="#7a7a7a" stroke="#6a6a6a" stroke-width="0.8"/><ellipse cx="672.0" cy="1162.5" rx="11.9" ry="5.9" transform="rotate(-61.5 672.0 1162.5)" fill="none" stroke="#c0c0c0" stroke-width="1.1"/><ellipse cx="670.7" cy="1161.8" rx="9.3" ry="4.6" transform="rotate(-61.5 670.7 1161.8)" fill="none" stroke="#c0c0c0" stroke-width="1.1"/><ellipse cx="669.4" cy="1161.1" rx="6.7" ry="3.3" transform="rotate(-61.5 669.4 1161.1)" fill="none" stroke="#c0c0c0" stroke-width="1.1"/><polygon points="689.0,1163.0 700.0,1158.0 716.0,1156.0 732.0,1162.0 743.0,1173.0 748.0,1186.0 745.0,1200.0 738.0,1210.0 724.0,1214.0 706.0,1210.0 692.0,1200.0 685.0,1186.0 685.0,1172.0" fill="url(#gfh)" stroke="#5e5e5e" stroke-width="0.8"/><path d="M700,1165 C712,1160 730,1166 736,1178 C726,1184 708,1182 700,1172 Z" fill="#a0a0a0"/><path d="M690,1188 C700,1186 716,1194 720,1204 C708,1206 694,1200 690,1192 Z" fill="#5e5e5e"/><ellipse cx="742" cy="1196" rx="5" ry="6" fill="#6e6e6e" stroke="#555" stroke-width=".8"/>
<polyline points="578.5,1107.0 597.0,1118.0" fill="none" stroke="#6e6868" stroke-width="1.2" stroke-linejoin="miter"/>
<polyline points="621.0,1133.0 649.0,1148.0" fill="none" stroke="#6e6868" stroke-width="1.2" stroke-linejoin="miter"/>
<polyline points="661.0,1156.7 690.0,1171.0" fill="none" stroke="#6e6868" stroke-width="1.2" stroke-linejoin="miter"/>
<polyline points="802.0,79.6 802.0,465.3" fill="none" stroke="#3a3232" stroke-width="2.2" stroke-linejoin="miter"/><polyline points="802.0,79.6 822.0,79.6" fill="none" stroke="#3a3232" stroke-width="2.2" stroke-linejoin="miter"/><polyline points="851.5,79.6 1228.4,79.6" fill="none" stroke="#3a3232" stroke-width="2.2" stroke-linejoin="miter"/><polyline points="802.0,115.3 822.0,115.3" fill="none" stroke="#3a3232" stroke-width="2.2" stroke-linejoin="miter"/><polyline points="851.5,115.3 987.7,115.3" fill="none" stroke="#3a3232" stroke-width="2.2" stroke-linejoin="miter"/><polyline points="778.0,163.4 802.0,163.4" fill="none" stroke="#3a3232" stroke-width="2.2" stroke-linejoin="miter"/><polyline points="802.0,318.6 822.0,318.6" fill="none" stroke="#3a3232" stroke-width="2.2" stroke-linejoin="miter"/><polyline points="851.0,318.6 950.9,318.6" fill="none" stroke="#3a3232" stroke-width="2.2" stroke-linejoin="miter"/><polyline points="802.0,465.3 822.0,465.3" fill="none" stroke="#3a3232" stroke-width="2.2" stroke-linejoin="miter"/><polyline points="851.0,465.3 886.8,465.3" fill="none" stroke="#3a3232" stroke-width="2.2" stroke-linejoin="miter"/><polyline points="596.0,295.8 618.8,315.7" fill="none" stroke="#3a3232" stroke-width="2.2" stroke-linejoin="miter"/><polyline points="597.0,573.0 597.0,598.0" fill="none" stroke="#3a3232" stroke-width="2.2" stroke-linejoin="miter"/><polyline points="407.0,572.8 303.6,628.7 402.6,681.4 495.6,632.0" fill="none" stroke="#3a3232" stroke-width="2.2" stroke-linejoin="miter"/><polyline points="456.9,599.9 285.2,688.0" fill="none" stroke="#3a3232" stroke-width="2.2" stroke-linejoin="miter"/><polyline points="258.0,702.0 190.0,739.0 1095.7,1230.2 1113.0,1221.0" fill="none" stroke="#3a3232" stroke-width="2.2" stroke-linejoin="miter"/><polyline points="454.7,778.2 613.8,691.5" fill="none" stroke="#3a3232" stroke-width="2.2" stroke-linejoin="miter"/><polyline points="425.7,795.0 359.4,830.2" fill="none" stroke="#3a3232" stroke-width="2.2" stroke-linejoin="miter"/><polyline points="649.6,1009.8 668.2,999.8" fill="none" stroke="#3a3232" stroke-width="2.2" stroke-linejoin="miter"/><polyline points="841.0,1041.0 794.3,1065.8" fill="none" stroke="#3a3232" stroke-width="2.2" stroke-linejoin="miter"/><polyline points="868.0,1024.7 929.3,992.7" fill="none" stroke="#3a3232" stroke-width="2.2" stroke-linejoin="miter"/><polyline points="384.0,1018.8 301.7,1064.8 629.4,1242.8 690.8,1208.9" fill="none" stroke="#3a3232" stroke-width="2.2" stroke-linejoin="miter"/><polyline points="446.7,1163.2 463.6,1154.8" fill="none" stroke="#3a3232" stroke-width="2.2" stroke-linejoin="miter"/><polyline points="525.0,1185.4 596.8,1144.9" fill="none" stroke="#3a3232" stroke-width="2.2" stroke-linejoin="miter"/><polyline points="577.2,1212.8 650.3,1172.3" fill="none" stroke="#3a3232" stroke-width="2.2" stroke-linejoin="miter"/><polyline points="993.7,775.2 965.6,788.2" fill="none" stroke="#3a3232" stroke-width="2.2" stroke-linejoin="miter"/><polyline points="1021.0,755.0 1041.3,746.6 1296.8,884.7 1274.8,898.7" fill="none" stroke="#3a3232" stroke-width="2.2" stroke-linejoin="miter"/><polyline points="1131.8,772.8 1111.0,784.3" fill="none" stroke="#3a3232" stroke-width="2.2" stroke-linejoin="miter"/><polyline points="1129.3,814.3 1147.7,804.3" fill="none" stroke="#3a3232" stroke-width="2.2" stroke-linejoin="miter"/><polyline points="1100.0,831.4 1075.6,844.9" fill="none" stroke="#3a3232" stroke-width="2.2" stroke-linejoin="miter"/><polyline points="1247.9,910.9 1196.6,939.0" fill="none" stroke="#3a3232" stroke-width="2.2" stroke-linejoin="miter"/><polyline points="1079.3,1139.2 1121.3,1115.8" fill="none" stroke="#3a3232" stroke-width="2.2" stroke-linejoin="miter"/><polyline points="1051.3,1155.5 1003.5,1180.0" fill="none" stroke="#3a3232" stroke-width="2.2" stroke-linejoin="miter"/><polyline points="1140.0,1206.8 1155.2,1196.0" fill="none" stroke="#3a3232" stroke-width="2.2" stroke-linejoin="miter"/><polyline points="1191.3,1150.8 1131.8,1181.2 1187.8,1213.8 1252.0,1181.2" fill="none" stroke="#3a3232" stroke-width="2.2" stroke-linejoin="miter"/><polyline points="1346.5,1119.0 1346.5,1141.5" fill="none" stroke="#3a3232" stroke-width="2.2" stroke-linejoin="miter"/><polyline points="1627.8,508.0 1627.8,528.5" fill="none" stroke="#3a3232" stroke-width="2.2" stroke-linejoin="miter"/><polyline points="1628.2,964.5 1628.2,989.8" fill="none" stroke="#3a3232" stroke-width="2.2" stroke-linejoin="miter"/><ellipse cx="836.5" cy="79.6" rx="14.2" ry="13.5" fill="#fff" stroke="#3a3232" stroke-width="1.6"/><path d="M833.9,70.8 L833.9,88.3 L830.9,88.3 L830.9,76.0 C829.9,77.4 828.4,77.8 827.0,78.0 L827.0,75.4 C829.2,75.0 831.2,73.6 831.8,70.8 Z" fill="#231a1a"/><text transform="translate(841.0 88.3) scale(0.62 1)" text-anchor="middle" font-family="Liberation Sans" font-weight="bold" font-size="24.5" fill="#231a1a" stroke="#231a1a" stroke-width="0.7">6</text><ellipse cx="836.5" cy="115.3" rx="14.2" ry="13.5" fill="#fff" stroke="#3a3232" stroke-width="1.6"/><path d="M833.9,106.5 L833.9,124.0 L830.9,124.0 L830.9,111.7 C829.9,113.1 828.4,113.5 827.0,113.7 L827.0,111.1 C829.2,110.7 831.2,109.3 831.8,106.5 Z" fill="#231a1a"/><text transform="translate(841.0 124.0) scale(0.62 1)" text-anchor="middle" font-family="Liberation Sans" font-weight="bold" font-size="24.5" fill="#231a1a" stroke="#231a1a" stroke-width="0.7">6</text><ellipse cx="763.1" cy="163.4" rx="14.2" ry="13.5" fill="#fff" stroke="#3a3232" stroke-width="1.6"/><path d="M760.5,154.6 L760.5,172.1 L757.5,172.1 L757.5,159.8 C756.5,161.2 755.0,161.6 753.6,161.8 L753.6,159.2 C755.8,158.8 757.8,157.4 758.4,154.6 Z" fill="#231a1a"/><text transform="translate(767.6 172.1) scale(0.62 1)" text-anchor="middle" font-family="Liberation Sans" font-weight="bold" font-size="24.5" fill="#231a1a" stroke="#231a1a" stroke-width="0.7">4</text><ellipse cx="836.4" cy="318.6" rx="14.2" ry="13.5" fill="#fff" stroke="#3a3232" stroke-width="1.6"/><path d="M833.8,309.8 L833.8,327.3 L830.8,327.3 L830.8,315.0 C829.8,316.4 828.3,316.8 826.9,317.0 L826.9,314.4 C829.1,314.0 831.1,312.6 831.7,309.8 Z" fill="#231a1a"/><text transform="translate(840.9 327.3) scale(0.62 1)" text-anchor="middle" font-family="Liberation Sans" font-weight="bold" font-size="24.5" fill="#231a1a" stroke="#231a1a" stroke-width="0.7">5</text><ellipse cx="836.4" cy="465.3" rx="14.2" ry="13.5" fill="#fff" stroke="#3a3232" stroke-width="1.6"/><path d="M833.8,456.5 L833.8,474.0 L830.8,474.0 L830.8,461.7 C829.8,463.1 828.3,463.5 826.9,463.7 L826.9,461.1 C829.1,460.7 831.1,459.3 831.7,456.5 Z" fill="#231a1a"/><text transform="translate(840.9 474.0) scale(0.62 1)" text-anchor="middle" font-family="Liberation Sans" font-weight="bold" font-size="24.5" fill="#231a1a" stroke="#231a1a" stroke-width="0.7">5</text><ellipse cx="585.6" cy="285.6" rx="14.2" ry="13.5" fill="#fff" stroke="#3a3232" stroke-width="1.6"/><path d="M583.0,276.8 L583.0,294.3 L580.0,294.3 L580.0,282.0 C579.0,283.4 577.5,283.8 576.1,284.0 L576.1,281.4 C578.3,281.0 580.3,279.6 580.9,276.8 Z" fill="#231a1a"/><text transform="translate(590.1 294.3) scale(0.62 1)" text-anchor="middle" font-family="Liberation Sans" font-weight="bold" font-size="24.5" fill="#231a1a" stroke="#231a1a" stroke-width="0.7">3</text><ellipse cx="597.0" cy="559.0" rx="14.2" ry="13.5" fill="#fff" stroke="#3a3232" stroke-width="1.6"/><text transform="translate(597.0 567.7) scale(0.92 1)" text-anchor="middle" font-family="Liberation Sans" font-weight="bold" font-size="24.5" fill="#231a1a" stroke="#231a1a" stroke-width="0.7">7</text><ellipse cx="272.6" cy="695.1" rx="14.2" ry="13.5" fill="#fff" stroke="#3a3232" stroke-width="1.6"/><text transform="translate(272.6 703.8) scale(0.92 1)" text-anchor="middle" font-family="Liberation Sans" font-weight="bold" font-size="24.5" fill="#231a1a" stroke="#231a1a" stroke-width="0.7">6</text><ellipse cx="440.3" cy="787.0" rx="14.2" ry="13.5" fill="#fff" stroke="#3a3232" stroke-width="1.6"/><text transform="translate(440.3 795.7) scale(0.92 1)" text-anchor="middle" font-family="Liberation Sans" font-weight="bold" font-size="24.5" fill="#231a1a" stroke="#231a1a" stroke-width="0.7">4</text><ellipse cx="635.0" cy="1019.0" rx="14.2" ry="13.5" fill="#fff" stroke="#3a3232" stroke-width="1.6"/><text transform="translate(635.0 1027.7) scale(0.92 1)" text-anchor="middle" font-family="Liberation Sans" font-weight="bold" font-size="24.5" fill="#231a1a" stroke="#231a1a" stroke-width="0.7">2</text><ellipse cx="855.0" cy="1033.0" rx="14.2" ry="13.5" fill="#fff" stroke="#3a3232" stroke-width="1.6"/><text transform="translate(855.0 1041.7) scale(0.92 1)" text-anchor="middle" font-family="Liberation Sans" font-weight="bold" font-size="24.5" fill="#231a1a" stroke="#231a1a" stroke-width="0.7">5</text><ellipse cx="431.0" cy="1172.3" rx="14.2" ry="13.5" fill="#fff" stroke="#3a3232" stroke-width="1.6"/><path d="M434.1,1163.5 L434.1,1181.0 L431.2,1181.0 L431.2,1168.7 C430.1,1170.1 428.6,1170.5 427.2,1170.7 L427.2,1168.1 C429.4,1167.7 431.4,1166.3 432.0,1163.5 Z" fill="#231a1a"/><ellipse cx="1007.0" cy="765.4" rx="14.2" ry="13.5" fill="#fff" stroke="#3a3232" stroke-width="1.6"/><path d="M1004.4,756.6 L1004.4,774.1 L1001.4,774.1 L1001.4,761.8 C1000.4,763.2 998.9,763.6 997.5,763.8 L997.5,761.2 C999.7,760.8 1001.7,759.4 1002.3,756.6 Z" fill="#231a1a"/><path d="M1013.9,756.6 L1013.9,774.1 L1010.9,774.1 L1010.9,761.8 C1009.9,763.2 1008.4,763.6 1007.0,763.8 L1007.0,761.2 C1009.2,760.8 1011.2,759.4 1011.8,756.6 Z" fill="#231a1a"/><ellipse cx="1144.0" cy="764.2" rx="14.2" ry="13.5" fill="#fff" stroke="#3a3232" stroke-width="1.6"/><text transform="translate(1144.0 772.9) scale(0.92 1)" text-anchor="middle" font-family="Liberation Sans" font-weight="bold" font-size="24.5" fill="#231a1a" stroke="#231a1a" stroke-width="0.7">8</text><ellipse cx="1114.7" cy="822.9" rx="14.2" ry="13.5" fill="#fff" stroke="#3a3232" stroke-width="1.6"/><path d="M1112.1,814.1 L1112.1,831.6 L1109.2,831.6 L1109.2,819.3 C1108.1,820.7 1106.6,821.1 1105.2,821.3 L1105.2,818.7 C1107.4,818.3 1109.4,816.9 1110.0,814.1 Z" fill="#231a1a"/><text transform="translate(1119.2 831.6) scale(0.62 1)" text-anchor="middle" font-family="Liberation Sans" font-weight="bold" font-size="24.5" fill="#231a1a" stroke="#231a1a" stroke-width="0.7">0</text><ellipse cx="1260.0" cy="903.6" rx="14.2" ry="13.5" fill="#fff" stroke="#3a3232" stroke-width="1.6"/><text transform="translate(1260.0 912.3) scale(0.92 1)" text-anchor="middle" font-family="Liberation Sans" font-weight="bold" font-size="24.5" fill="#231a1a" stroke="#231a1a" stroke-width="0.7">9</text><ellipse cx="1064.2" cy="1148.5" rx="14.2" ry="13.5" fill="#fff" stroke="#3a3232" stroke-width="1.6"/><text transform="translate(1064.2 1157.2) scale(0.92 1)" text-anchor="middle" font-family="Liberation Sans" font-weight="bold" font-size="24.5" fill="#231a1a" stroke="#231a1a" stroke-width="0.7">4</text><ellipse cx="1126.0" cy="1215.0" rx="14.2" ry="13.5" fill="#fff" stroke="#3a3232" stroke-width="1.6"/><text transform="translate(1126.0 1223.7) scale(0.92 1)" text-anchor="middle" font-family="Liberation Sans" font-weight="bold" font-size="24.5" fill="#231a1a" stroke="#231a1a" stroke-width="0.7">3</text><ellipse cx="1346.5" cy="1104.2" rx="14.2" ry="13.5" fill="#fff" stroke="#3a3232" stroke-width="1.6"/><path d="M1343.9,1095.4 L1343.9,1112.9 L1341.0,1112.9 L1341.0,1100.6 C1339.9,1102.0 1338.4,1102.4 1337.0,1102.6 L1337.0,1100.0 C1339.2,1099.6 1341.2,1098.2 1341.8,1095.4 Z" fill="#231a1a"/><text transform="translate(1351.0 1112.9) scale(0.62 1)" text-anchor="middle" font-family="Liberation Sans" font-weight="bold" font-size="24.5" fill="#231a1a" stroke="#231a1a" stroke-width="0.7">2</text><ellipse cx="1627.8" cy="493.1" rx="14.2" ry="13.5" fill="#fff" stroke="#3a3232" stroke-width="1.6"/><path d="M1625.2,484.3 L1625.2,501.8 L1622.2,501.8 L1622.2,489.5 C1621.2,490.9 1619.7,491.3 1618.3,491.5 L1618.3,488.9 C1620.5,488.5 1622.5,487.1 1623.1,484.3 Z" fill="#231a1a"/><text transform="translate(1632.3 501.8) scale(0.62 1)" text-anchor="middle" font-family="Liberation Sans" font-weight="bold" font-size="24.5" fill="#231a1a" stroke="#231a1a" stroke-width="0.7">7</text><ellipse cx="1628.2" cy="949.9" rx="14.2" ry="13.5" fill="#fff" stroke="#3a3232" stroke-width="1.6"/><path d="M1625.6,941.1 L1625.6,958.6 L1622.7,958.6 L1622.7,946.3 C1621.6,947.7 1620.1,948.1 1618.7,948.3 L1618.7,945.7 C1620.9,945.3 1622.9,943.9 1623.5,941.1 Z" fill="#231a1a"/><text transform="translate(1632.7 958.6) scale(0.62 1)" text-anchor="middle" font-family="Liberation Sans" font-weight="bold" font-size="24.5" fill="#231a1a" stroke="#231a1a" stroke-width="0.7">8</text>
<path d="M651,569.5 L746.6,569.5 L746.6,602.4 L699.1,602.4 L664,636 L674.4,602.4 L651,602.4 Z" fill="#fff" stroke="#3a3232" stroke-width="1.7"/><text x="698.5" y="592.3" text-anchor="middle" font-family="Liberation Sans" font-weight="bold" font-size="20.5" textLength="65" lengthAdjust="spacingAndGlyphs" fill="#231a1a" stroke="#231a1a" stroke-width="0.5">9 pcs.</text><path d="M1194.8,1054.5 L1291.2,1054.5 L1291.2,1087.8 L1194.8,1087.8 L1194.8,1075 L1176.2,1073.8 L1194.8,1068 Z" fill="#fff" stroke="#3a3232" stroke-width="1.7"/><text x="1242.7" y="1078" text-anchor="middle" font-family="Liberation Sans" font-weight="bold" font-size="20.5" textLength="65" lengthAdjust="spacingAndGlyphs" fill="#231a1a" stroke="#231a1a" stroke-width="0.5">9 pcs.</text>
<rect x="1474.3" y="528.5" width="306.7" height="366" fill="#fff" stroke="#3a3232" stroke-width="1.7"/><g id="rs"><polygon points="1504.3,671.2 1514.4,665.4 1528.9,655.3 1543.3,648.8 1565.0,645.9 1593.9,644.5 1622.8,644.1 1637.2,645.2 1658.9,647.0 1687.8,648.8 1716.7,652.4 1751.3,658.9 1738.3,661.1 1723.9,664.0 1695.0,668.3 1658.9,666.2 1630.0,664.0 1608.3,661.8 1593.9,658.2 1586.7,656.8 1565.0,656.5 1543.3,658.2 1536.1,659.7 1524.6,666.2 1514.4,670.5 1505.8,672.4" fill="#b6b6b6" stroke="#8c8c8c" stroke-width="0.9" stroke-linejoin="round"/><polygon points="1533.2,659.7 1543.3,653.9 1554.9,650.3 1572.2,648.8 1601.1,647.4 1589.6,651.7 1565.0,653.2 1553.4,653.9 1547.7,656.8 1539.0,659.7" fill="#0c0c0c" stroke="#0c0c0c" stroke-width="0.9" stroke-linejoin="round"/><polygon points="1611.2,653.9 1634.3,645.9 1644.4,648.8 1630.0,652.4 1632.9,656.1 1658.9,657.5 1687.8,659.7 1699.3,661.1 1687.8,664.0 1658.9,662.6 1637.2,660.4 1622.8,658.2 1611.2,654.6" fill="#0c0c0c" stroke="#0c0c0c" stroke-width="0.9" stroke-linejoin="round"/><polygon points="1664.7,653.2 1673.3,651.7 1702.2,653.9 1731.1,658.2 1742.7,659.7 1725.3,663.3 1716.7,662.6 1702.2,658.2 1673.3,656.1 1664.7,654.2" fill="#0c0c0c" stroke="#0c0c0c" stroke-width="0.9" stroke-linejoin="round"/></g><use href="#rs" transform="translate(0 29.6)"/><use href="#rs" transform="translate(0 59.2)"/><use href="#rs" transform="translate(1511.9 577.2) rotate(-1.02) scale(0.9403) translate(-1504.3 -671.2)"/><use href="#rs" transform="translate(1511.9 606.8) rotate(-1.02) scale(0.9403) translate(-1504.3 -671.2)"/><use href="#rs" transform="translate(1511.9 636.4) rotate(-1.02) scale(0.9403) translate(-1504.3 -671.2)"/><rect x="1542.8" y="747.2" width="21.1" height="117.8" rx="3" fill="#0a0808"/><rect x="1618.3" y="747.8" width="62.3" height="16.1" rx="3.5" fill="#231a1a"/><text x="1620.5" y="755" font-family="Liberation Sans" font-size="6.6" fill="#e8e8e8" textLength="57" lengthAdjust="spacingAndGlyphs">622×17C ALLOY</text><text x="1620.5" y="762.2" font-family="Liberation Sans" font-size="6.6" fill="#e8e8e8" textLength="38" lengthAdjust="spacingAndGlyphs">MALAYSIA</text><text x="1663" y="762.2" font-family="Liberation Sans" font-weight="bold" font-size="6.6" fill="#e8e8e8" textLength="12" lengthAdjust="spacingAndGlyphs">VIA</text><rect x="1594.4" y="777.8" width="110" height="17.2" rx="4" fill="#231a1a"/><polygon points="1597.5,793 1604.3,781 1611,793" fill="#e0e0e0"/><rect x="1603.6" y="785" width="1.4" height="4.5" fill="#231a1a"/><rect x="1614" y="781" width="12" height="11.5" fill="#e0e0e0"/><rect x="1619.5" y="781" width="1" height="11.5" fill="#231a1a"/><text x="1628.5" y="786" font-family="Liberation Sans" font-size="7" fill="#e8e8e8" textLength="73" lengthAdjust="spacingAndGlyphs">Rim subject to wear</text><text x="1628.5" y="793.3" font-family="Liberation Sans" font-size="7" fill="#e8e8e8" textLength="73" lengthAdjust="spacingAndGlyphs">Jante sujet à l’usure</text><rect x="1586.7" y="815.6" width="126.1" height="17.4" rx="5" fill="#1e1616"/><rect x="1588.2" y="817.1" width="123.1" height="14.4" rx="4" fill="none" stroke="#f2f2f2" stroke-width="0.9"/><text x="1649.7" y="830.2" text-anchor="middle" font-family="Liberation Sans" font-weight="bold" font-size="17" fill="#f6f6f6" stroke="#f6f6f6" stroke-width="1.8" stroke-linejoin="round" textLength="114" lengthAdjust="spacingAndGlyphs">SHIMANO</text><rect x="1586.7" y="847.2" width="126.1" height="17.4" rx="5" fill="#1e1616"/><rect x="1588.2" y="848.7" width="123.1" height="14.4" rx="4" fill="none" stroke="#f2f2f2" stroke-width="0.9"/><text x="1649.7" y="861.8" text-anchor="middle" font-family="Liberation Sans" font-weight="bold" font-size="17" fill="#f6f6f6" stroke="#f6f6f6" stroke-width="1.8" stroke-linejoin="round" textLength="114" lengthAdjust="spacingAndGlyphs">SHIMANO</text>
<path d="M1559.8,1025.4 L1558.4,1033.9 C1548,1034 1538.5,1033 1532,1029 C1529.5,1026 1529.2,1022.5 1529.2,1020 L1529.2,992 C1532,982 1545,979 1560,981 C1585,984 1610,989 1628,992.6 L1628,994 C1605,993 1590,996 1575,1003 C1562,1008 1545,1006 1532,995" fill="#fff" stroke="#3a3232" stroke-width="1.4"/><path d="M1560.3,1031.0 A70.0,38.5 0 0 0 1700.3,1031.0 L1700.3,1058.0 A70.0,38.5 0 0 1 1560.3,1058.0 Z" fill="#fff" stroke="#3a3232" stroke-width="1.5"/><ellipse cx="1630.3" cy="1031.0" rx="70.0" ry="38.5" fill="#8e8e8e" stroke="#3a3232" stroke-width="1.4"/><ellipse cx="1630.3" cy="1031.1" rx="66.1" ry="36.3" fill="none" stroke="#a6a6a6" stroke-width="0.8"/><ellipse cx="1630.3" cy="1031.2" rx="62.3" ry="34.0" fill="none" stroke="#a6a6a6" stroke-width="0.8"/><ellipse cx="1630.3" cy="1031.3" rx="58.4" ry="31.8" fill="none" stroke="#a6a6a6" stroke-width="0.8"/><ellipse cx="1630.3" cy="1031.4" rx="54.6" ry="29.5" fill="none" stroke="#a6a6a6" stroke-width="0.8"/><ellipse cx="1630.3" cy="1031.5" rx="50.7" ry="27.3" fill="none" stroke="#a6a6a6" stroke-width="0.8"/><ellipse cx="1630.3" cy="1031.6" rx="46.9" ry="25.0" fill="none" stroke="#a6a6a6" stroke-width="0.8"/><ellipse cx="1629.3" cy="1031.7" rx="43" ry="22.8" fill="#fff" stroke="#3a3232" stroke-width="1.3"/><path d="M1612.5,1055 C1611.5,1047 1615,1041.5 1622.5,1038 L1646.5,1025.5 C1650,1022 1650,1015 1645.6,1010 L1649,1012 C1652,1016 1652,1023 1648,1027.5 L1624,1040 C1619,1043 1616.5,1048 1617,1055 Z" fill="#c4c4c4" stroke="none"/><path d="M1591.5,1046.5 C1603,1041 1614,1038.5 1623,1036.5 L1646,1025 C1649.5,1021.5 1649.5,1015 1645.6,1010" fill="none" stroke="#3a3232" stroke-width="1"/><path d="M1612.5,1055 C1611.5,1047 1615,1041.5 1622.5,1038" fill="none" stroke="#3a3232" stroke-width="1"/><path d="M1652.2,1019 L1652.2,1053 M1652.8,1039.4 L1664.4,1045.6" fill="none" stroke="#3a3232" stroke-width="1"/><ellipse cx="1633" cy="1049" rx="7.5" ry="4.2" transform="rotate(-55 1633 1049)" fill="none" stroke="#3a3232" stroke-width="1"/><text x="1631" y="1081" text-anchor="middle" font-family="Liberation Sans" font-weight="bold" font-size="16" fill="#231a1a" textLength="93" lengthAdjust="spacingAndGlyphs" transform="rotate(-2 1631 1075)">SHIMANO</text>
<ellipse cx="1696.6" cy="1249.5" rx="21" ry="2.6" fill="#e2e2e2"/><ellipse cx="1766.2" cy="1249.5" rx="21" ry="2.6" fill="#e2e2e2"/><g fill="none" stroke="#16213a" stroke-width="3.6" stroke-linecap="round" stroke-linejoin="round"><circle cx="1696.6" cy="1229.1" r="19.4"/><path d="M1750.6,1217.6 A19.4,19.4 0 1 0 1768.5,1209.8"/><path d="M1706,1200.7 L1716,1200.7 M1710.6,1201.5 L1729.6,1229.9 L1756.8,1185.2 C1765,1190 1769,1196 1767.5,1203 C1766,1208 1760,1211 1752,1210 L1766.6,1229.9"/></g></svg></body></html>
